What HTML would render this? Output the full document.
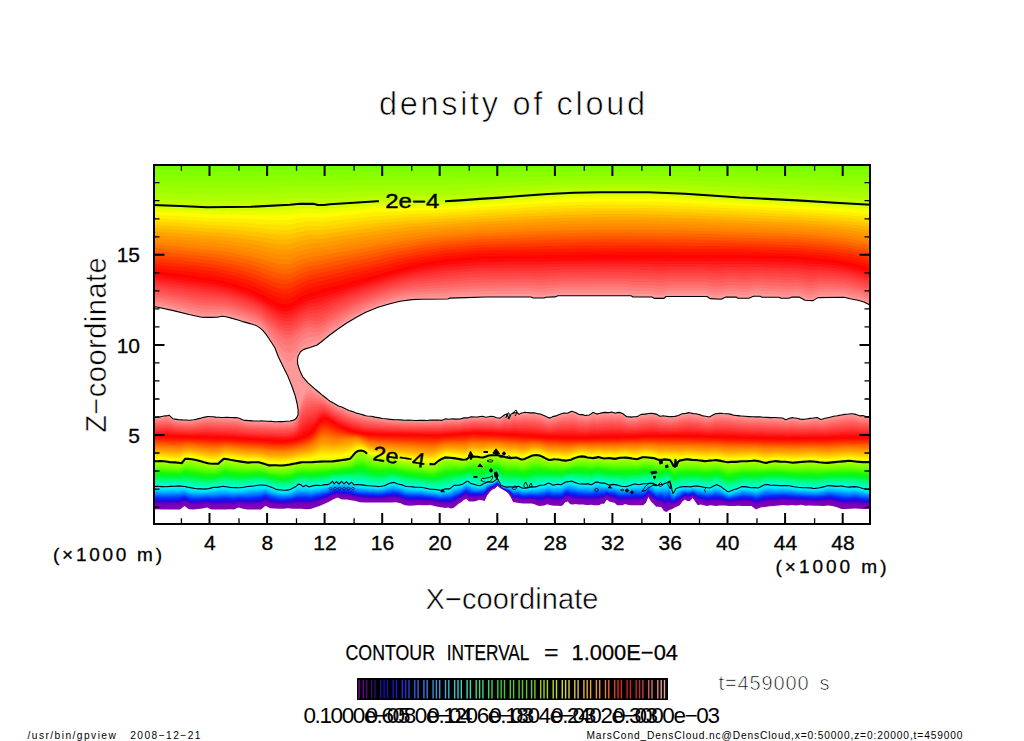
<!DOCTYPE html>
<html lang="en"><head><meta charset="utf-8"><title>density of cloud</title>
<style>
html,body{margin:0;padding:0;background:#fff;}
body{width:1024px;height:741px;overflow:hidden;font-family:"Liberation Sans",sans-serif;}
svg{display:block}
text{font-family:"Liberation Sans",sans-serif;fill:#000}
</style></head><body>
<svg width="1024" height="741" viewBox="0 0 1024 741">
<defs><clipPath id="pc"><rect x="153" y="164" width="718" height="361"/></clipPath></defs>
<rect width="1024" height="741" fill="#fff"/>
<g clip-path="url(#pc)" shape-rendering="geometricPrecision">
<polygon fill="#8600b1" points="871,162 153,162 153,509.6 157.5,509.3 162,509.6 166.5,509.6 171,509.4 175.5,509.4 180,509.6 184.5,506 189,509.3 193.5,509.5 198,509.1 202.5,508.4 207,507.5 211.5,509.5 216,509.5 220.5,509.6 225,509.6 229.5,509.3 234,509.6 238.5,507.6 243,508.8 247.5,509.6 252,509.6 256.5,509.6 261,509.4 265.5,505.7 270,508.3 274.5,508.4 279,508.7 283.5,508.8 288,508.3 292.5,508.8 297,508.8 301.5,508.8 306,509.2 310.5,509 315,507.6 319.5,505.9 324,504.1 328.5,501.9 333,499.6 337.5,497.6 342,499.4 346.5,499.4 351,500.2 355.5,501.1 360,502.3 364.5,502.5 369,502.6 373.5,502.6 378,502.6 382.5,502.6 387,502.6 391.5,502.6 396,502.3 400.5,503.3 405,505.3 409.5,505.7 414,505.6 418.5,505.1 423,505.3 427.5,505.3 430,505.1 432.6,505.4 435.2,506.3 437.8,506.7 440.4,507.2 443,507.6 445.6,508 448.2,507.6 450.8,508.4 453.4,507.9 456,506 458.6,503.8 461.2,502.3 463.8,499.9 466.4,498.8 469,501.6 471.6,501.6 474.2,501.5 476.8,500.7 479.4,499.8 482,500.2 484.6,500.9 487.2,495.3 489.8,492.1 492.4,489.6 495,488.4 497.6,485.9 500.2,487.9 502.8,489.6 505.4,490.9 508,492.9 510.6,496.7 513.2,502 515.8,502.5 518.4,502.9 521,503.3 523.6,503.5 526.2,503.5 528.8,503.5 531.4,503.5 534,504 536.6,505.3 539.2,505.9 541.8,505.7 544.4,505.6 547,504.3 549.6,505 552.2,505.6 554.8,505.7 557.4,505.8 560,506 562.6,505.4 565.2,502.2 567.8,501.5 570.4,504.3 573,504.6 575.6,504 578.2,504.4 580.8,504.4 583.4,504.4 586,505 588.6,505 591.2,504.8 593.8,505.2 596.4,505.2 599,505.2 601.6,503.7 604.2,503.7 606.8,499.5 609.4,501.5 612,502.3 614.6,502.7 617.2,505.3 619.8,505.3 622.4,505.3 625,504.1 627.6,504.7 630.2,505.3 632.8,505.3 635.4,505.3 638,505.3 640.6,505.3 643.2,505.2 645.8,503 648.4,496.9 651,501.5 653.6,504 656.2,506.7 658.8,506.8 661.4,507.3 664,510.9 666.6,511.9 669.2,509.9 671.8,509.3 674.4,507.7 677,506.6 679.6,505.5 682.2,501.7 684.8,499.5 687.4,501 690,500.9 692.6,498 695.2,501.5 697.8,505.2 700.4,504.5 702,504.8 706.5,505.9 711,505.2 715.5,505.9 720,505.6 724.5,505.5 729,506 733.5,506 738,505.8 742.5,506 747,506 751.5,506 756,509.6 760.5,507.4 765,506.9 769.5,506.2 774,505.9 778.5,505.6 783,504.9 787.5,505.4 792,504.9 796.5,505.5 801,504.8 805.5,505.7 810,505.4 814.5,505.8 819,505.8 823.5,506 828,505.5 832.5,506 837,507.2 841.5,509 846,509 850.5,508.7 855,508.5 859.5,508.7 864,509 868.5,509 871,509.0"/>
<polygon fill="#8200b4" points="871,162 153,162 153,508.6 157.5,508.3 162,508.6 166.5,508.6 171,508.4 175.5,508.4 180,508.5 184.5,505.1 189,508.3 193.5,508.5 198,508.2 202.5,507.5 207,506.7 211.5,508.6 216,508.5 220.5,508.6 225,508.6 229.5,508.3 234,508.6 238.5,506.7 243,507.8 247.5,508.6 252,508.5 256.5,508.5 261,508.3 265.5,504.7 270,507.3 274.5,507.5 279,507.8 283.5,508 288,507.5 292.5,507.9 297,507.7 301.5,507.7 306,508.2 310.5,507.9 315,506.5 319.5,505 324,503.3 328.5,501.1 333,498.8 337.5,496.9 342,498.6 346.5,498.6 351,499.4 355.5,500.3 360,501.5 364.5,501.8 369,501.8 373.5,501.8 378,501.9 382.5,501.8 387,501.8 391.5,501.7 396,501.4 400.5,502.4 405,504.5 409.5,504.8 414,504.7 418.5,504.3 423,504.5 427.5,504.5 430,504.4 432.6,504.6 435.2,505.5 437.8,505.9 440.4,506.4 443,506.8 445.6,507.1 448.2,506.8 450.8,507.4 453.4,506.9 456,505 458.6,503 461.2,501.5 463.8,499.1 466.4,498 469,500.7 471.6,500.8 474.2,500.7 476.8,500 479.4,499.2 482,499.5 484.6,500.1 487.2,494.7 489.8,491.6 492.4,489.3 495,488 497.6,485.6 500.2,487.7 502.8,489.4 505.4,490.7 508,492.6 510.6,496.2 513.2,501.4 515.8,501.8 518.4,502.2 521,502.6 523.6,502.8 526.2,502.8 528.8,502.8 531.4,502.8 534,503.3 536.6,504.4 539.2,505 541.8,504.8 544.4,504.6 547,503.4 549.6,504 552.2,504.6 554.8,504.7 557.4,504.9 560,505 562.6,504.4 565.2,501.3 567.8,500.6 570.4,503.3 573,503.6 575.6,503 578.2,503.5 580.8,503.4 583.4,503.5 586,504.1 588.6,504 591.2,503.9 593.8,504.2 596.4,504.2 599,504.2 601.6,502.7 604.2,502.7 606.8,498.8 609.4,500.7 612,501.5 614.6,501.9 617.2,504.4 619.8,504.4 622.4,504.4 625,503.3 627.6,503.9 630.2,504.4 632.8,504.4 635.4,504.3 638,504.4 640.6,504.4 643.2,504.2 645.8,502.1 648.4,496.3 651,500.7 653.6,503.1 656.2,505.7 658.8,505.8 661.4,506.2 664,509.6 666.6,510.6 669.2,508.6 671.8,508.4 674.4,506.9 677,505.8 679.6,504.7 682.2,501 684.8,498.9 687.4,500.4 690,500.3 692.6,497.5 695.2,500.8 697.8,504.3 700.4,503.7 702,504 706.5,505.1 711,504.4 715.5,505 720,504.7 724.5,504.8 729,505.3 733.5,505.3 738,505 742.5,505.1 747,505.1 751.5,505.2 756,508.6 760.5,506.4 765,505.9 769.5,505.2 774,505 778.5,504.7 783,504 787.5,504.5 792,504.1 796.5,504.6 801,504 805.5,504.9 810,504.6 814.5,505 819,504.9 823.5,505.1 828,504.6 832.5,505.1 837,506.3 841.5,508 846,508 850.5,507.7 855,507.5 859.5,507.8 864,508 868.5,508.1 871,508.1"/>
<polygon fill="#7e00b6" points="871,162 153,162 153,507.5 157.5,507.2 162,507.5 166.5,507.5 171,507.3 175.5,507.3 180,507.5 184.5,504.2 189,507.3 193.5,507.6 198,507.2 202.5,506.6 207,505.8 211.5,507.6 216,507.5 220.5,507.5 225,507.5 229.5,507.3 234,507.6 238.5,505.8 243,506.9 247.5,507.5 252,507.4 256.5,507.4 261,507.2 265.5,503.8 270,506.3 274.5,506.6 279,506.9 283.5,507.1 288,506.7 292.5,506.9 297,506.7 301.5,506.7 306,507.1 310.5,506.9 315,505.5 319.5,504 324,502.4 328.5,500.3 333,498 337.5,496.3 342,497.8 346.5,497.8 351,498.6 355.5,499.6 360,500.7 364.5,501 369,501.1 373.5,501.1 378,501.1 382.5,501.1 387,501 391.5,500.8 396,500.5 400.5,501.6 405,503.6 409.5,503.9 414,503.9 418.5,503.5 423,503.7 427.5,503.8 430,503.6 432.6,503.9 435.2,504.8 437.8,505.2 440.4,505.6 443,506 445.6,506.3 448.2,505.9 450.8,506.5 453.4,505.9 456,504.1 458.6,502.1 461.2,500.7 463.8,498.4 466.4,497.2 469,499.8 471.6,500 474.2,499.9 476.8,499.3 479.4,498.6 482,498.7 484.6,499.3 487.2,494.2 489.8,491.2 492.4,488.9 495,487.7 497.6,485.3 500.2,487.5 502.8,489.3 505.4,490.5 508,492.3 510.6,495.8 513.2,500.7 515.8,501.1 518.4,501.4 521,501.9 523.6,502.1 526.2,502.1 528.8,502 531.4,502 534,502.5 536.6,503.6 539.2,504.1 541.8,503.9 544.4,503.7 547,502.5 549.6,503 552.2,503.7 554.8,503.8 557.4,503.9 560,504.1 562.6,503.4 565.2,500.4 567.8,499.7 570.4,502.2 573,502.5 575.6,502 578.2,502.5 580.8,502.5 583.4,502.5 586,503.1 588.6,503.1 591.2,503 593.8,503.2 596.4,503.1 599,503.2 601.6,501.8 604.2,501.8 606.8,498.1 609.4,500 612,500.7 614.6,501.1 617.2,503.5 619.8,503.5 622.4,503.6 625,502.5 627.6,503.1 630.2,503.5 632.8,503.4 635.4,503.4 638,503.4 640.6,503.4 643.2,503.3 645.8,501.3 648.4,495.7 651,499.9 653.6,502.3 656.2,504.8 658.8,504.8 661.4,505.2 664,508.4 666.6,509.3 669.2,507.3 671.8,507.5 674.4,506.2 677,504.9 679.6,503.8 682.2,500.3 684.8,498.3 687.4,499.7 690,499.6 692.6,497 695.2,500.1 697.8,503.4 700.4,502.9 702,503.2 706.5,504.2 711,503.6 715.5,504 720,503.9 724.5,504.1 729,504.7 733.5,504.5 738,504.2 742.5,504.2 747,504.3 751.5,504.3 756,507.6 760.5,505.5 765,504.9 769.5,504.2 774,504 778.5,503.7 783,503.1 787.5,503.6 792,503.3 796.5,503.8 801,503.2 805.5,504.1 810,503.8 814.5,504.3 819,504.1 823.5,504.3 828,503.7 832.5,504.2 837,505.3 841.5,506.9 846,507 850.5,506.7 855,506.5 859.5,506.8 864,507.1 868.5,507.2 871,507.2"/>
<polygon fill="#7a00b8" points="871,162 153,162 153,506.5 157.5,506.2 162,506.5 166.5,506.5 171,506.3 175.5,506.2 180,506.4 184.5,503.4 189,506.3 193.5,506.6 198,506.3 202.5,505.7 207,505 211.5,506.6 216,506.5 220.5,506.5 225,506.5 229.5,506.3 234,506.6 238.5,504.9 243,505.9 247.5,506.5 252,506.4 256.5,506.3 261,506.1 265.5,502.9 270,505.3 274.5,505.7 279,506.1 283.5,506.3 288,505.8 292.5,506 297,505.6 301.5,505.6 306,506 310.5,505.9 315,504.5 319.5,503.1 324,501.5 328.5,499.5 333,497.2 337.5,495.6 342,497 346.5,497 351,497.8 355.5,498.9 360,499.9 364.5,500.2 369,500.3 373.5,500.3 378,500.4 382.5,500.3 387,500.1 391.5,499.9 396,499.7 400.5,500.7 405,502.7 409.5,503.1 414,503 418.5,502.7 423,502.9 427.5,503 430,502.9 432.6,503.2 435.2,504 437.8,504.4 440.4,504.9 443,505.1 445.6,505.4 448.2,505.1 450.8,505.6 453.4,504.9 456,503.2 458.6,501.3 461.2,499.9 463.8,497.6 466.4,496.4 469,498.9 471.6,499.2 474.2,499.1 476.8,498.5 479.4,497.9 482,498 484.6,498.5 487.2,493.6 489.8,490.7 492.4,488.6 495,487.3 497.6,485 500.2,487.4 502.8,489.1 505.4,490.4 508,492.1 510.6,495.3 513.2,500 515.8,500.4 518.4,500.7 521,501.2 523.6,501.4 526.2,501.4 528.8,501.3 531.4,501.3 534,501.7 536.6,502.7 539.2,503.1 541.8,502.9 544.4,502.8 547,501.5 549.6,502 552.2,502.7 554.8,502.8 557.4,502.9 560,503.1 562.6,502.4 565.2,499.5 567.8,498.8 570.4,501.2 573,501.5 575.6,501.1 578.2,501.6 580.8,501.6 583.4,501.6 586,502.2 588.6,502.1 591.2,502 593.8,502.2 596.4,502.1 599,502.1 601.6,500.9 604.2,500.9 606.8,497.4 609.4,499.2 612,499.9 614.6,500.2 617.2,502.5 619.8,502.6 622.4,502.7 625,501.7 627.6,502.2 630.2,502.6 632.8,502.5 635.4,502.4 638,502.5 640.6,502.5 643.2,502.3 645.8,500.4 648.4,495.1 651,499 653.6,501.4 656.2,503.8 658.8,503.8 661.4,504.2 664,507.2 666.6,507.9 669.2,506.1 671.8,506.6 674.4,505.5 677,504.1 679.6,503 682.2,499.7 684.8,497.7 687.4,499.1 690,499 692.6,496.4 695.2,499.4 697.8,502.5 700.4,502.1 702,502.4 706.5,503.4 711,502.8 715.5,503.1 720,503 724.5,503.3 729,504 733.5,503.8 738,503.4 742.5,503.4 747,503.4 751.5,503.5 756,506.6 760.5,504.6 765,503.9 769.5,503.3 774,503.1 778.5,502.8 783,502.2 787.5,502.7 792,502.4 796.5,503 801,502.4 805.5,503.3 810,503 814.5,503.5 819,503.3 823.5,503.4 828,502.8 832.5,503.3 837,504.4 841.5,505.9 846,506 850.5,505.8 855,505.5 859.5,505.8 864,506.2 868.5,506.3 871,506.3"/>
<polygon fill="#7600bb" points="871,162 153,162 153,505.4 157.5,505.1 162,505.4 166.5,505.4 171,505.2 175.5,505.2 180,505.3 184.5,502.5 189,505.3 193.5,505.6 198,505.4 202.5,504.8 207,504.1 211.5,505.6 216,505.5 220.5,505.5 225,505.4 229.5,505.3 234,505.6 238.5,504 243,504.9 247.5,505.4 252,505.3 256.5,505.2 261,505 265.5,501.9 270,504.4 274.5,504.8 279,505.2 283.5,505.4 288,505 292.5,505.1 297,504.5 301.5,504.5 306,504.9 310.5,504.9 315,503.5 319.5,502.2 324,500.6 328.5,498.7 333,496.4 337.5,494.9 342,496.3 346.5,496.2 351,497 355.5,498.1 360,499.1 364.5,499.4 369,499.5 373.5,499.6 378,499.7 382.5,499.6 387,499.3 391.5,499 396,498.8 400.5,499.9 405,501.8 409.5,502.2 414,502.2 418.5,501.9 423,502.1 427.5,502.3 430,502.2 432.6,502.5 435.2,503.2 437.8,503.6 440.4,504.1 443,504.3 445.6,504.5 448.2,504.2 450.8,504.7 453.4,503.9 456,502.2 458.6,500.5 461.2,499.1 463.8,496.9 466.4,495.6 469,498.1 471.6,498.3 474.2,498.3 476.8,497.8 479.4,497.3 482,497.3 484.6,497.7 487.2,493 489.8,490.3 492.4,488.2 495,487 497.6,484.7 500.2,487.2 502.8,488.9 505.4,490.2 508,491.8 510.6,494.9 513.2,499.3 515.8,499.7 518.4,499.9 521,500.4 523.6,500.7 526.2,500.7 528.8,500.6 531.4,500.5 534,500.9 536.6,501.9 539.2,502.2 541.8,502 544.4,501.8 547,500.6 549.6,501.1 552.2,501.8 554.8,501.9 557.4,501.9 560,502.1 562.6,501.5 565.2,498.6 567.8,497.9 570.4,500.2 573,500.5 575.6,500.1 578.2,500.6 580.8,500.7 583.4,500.7 586,501.2 588.6,501.2 591.2,501.1 593.8,501.2 596.4,501 599,501.1 601.6,499.9 604.2,499.9 606.8,496.7 609.4,498.5 612,499.1 614.6,499.4 617.2,501.6 619.8,501.7 622.4,501.8 625,500.9 627.6,501.4 630.2,501.7 632.8,501.5 635.4,501.4 638,501.5 640.6,501.5 643.2,501.3 645.8,499.5 648.4,494.4 651,498.2 653.6,500.5 656.2,502.9 658.8,502.8 661.4,503.1 664,505.9 666.6,506.6 669.2,504.8 671.8,505.6 674.4,504.7 677,503.2 679.6,502.2 682.2,499 684.8,497.2 687.4,498.4 690,498.3 692.6,495.9 695.2,498.7 697.8,501.7 700.4,501.3 702,501.5 706.5,502.6 711,502 715.5,502.1 720,502.1 724.5,502.6 729,503.4 733.5,503 738,502.6 742.5,502.5 747,502.6 751.5,502.7 756,505.6 760.5,503.6 765,502.9 769.5,502.3 774,502.2 778.5,501.9 783,501.4 787.5,501.8 792,501.6 796.5,502.1 801,501.6 805.5,502.4 810,502.2 814.5,502.7 819,502.5 823.5,502.5 828,501.9 832.5,502.3 837,503.4 841.5,504.8 846,505 850.5,504.8 855,504.5 859.5,504.9 864,505.3 868.5,505.4 871,505.5"/>
<polygon fill="#6a00c0" points="871,162 153,162 153,504.4 157.5,504.1 162,504.4 166.5,504.4 171,504.2 175.5,504.1 180,504.2 184.5,501.6 189,504.3 193.5,504.6 198,504.5 202.5,504 207,503.3 211.5,504.6 216,504.5 220.5,504.4 225,504.4 229.5,504.3 234,504.6 238.5,503.1 243,503.9 247.5,504.4 252,504.2 256.5,504.1 261,503.9 265.5,501 270,503.4 274.5,503.9 279,504.4 283.5,504.6 288,504.1 292.5,504.2 297,503.5 301.5,503.5 306,503.8 310.5,503.8 315,502.5 319.5,501.3 324,499.7 328.5,497.9 333,495.6 337.5,494.2 342,495.5 346.5,495.4 351,496.2 355.5,497.4 360,498.3 364.5,498.6 369,498.8 373.5,498.8 378,499 382.5,498.8 387,498.5 391.5,498.1 396,497.9 400.5,499 405,500.9 409.5,501.3 414,501.4 418.5,501.1 423,501.3 427.5,501.5 430,501.5 432.6,501.7 435.2,502.5 437.8,502.9 440.4,503.3 443,503.5 445.6,503.6 448.2,503.4 450.8,503.7 453.4,502.9 456,501.3 458.6,499.6 461.2,498.3 463.8,496.1 466.4,494.9 469,497.2 471.6,497.5 474.2,497.6 476.8,497.1 479.4,496.6 482,496.6 484.6,496.9 487.2,492.4 489.8,489.8 492.4,487.9 495,486.6 497.6,484.3 500.2,487 502.8,488.8 505.4,490 508,491.5 510.6,494.4 513.2,498.6 515.8,498.9 518.4,499.1 521,499.7 523.6,500 526.2,500 528.8,499.9 531.4,499.8 534,500.2 536.6,501 539.2,501.3 541.8,501.1 544.4,500.9 547,499.6 549.6,500.1 552.2,500.8 554.8,501 557.4,500.9 560,501.1 562.6,500.5 565.2,497.7 567.8,497 570.4,499.1 573,499.4 575.6,499.1 578.2,499.7 580.8,499.7 583.4,499.7 586,500.2 588.6,500.2 591.2,500.2 593.8,500.2 596.4,499.9 599,500.1 601.6,499 604.2,499 606.8,496 609.4,497.7 612,498.3 614.6,498.6 617.2,500.7 619.8,500.8 622.4,501 625,500.1 627.6,500.5 630.2,500.8 632.8,500.6 635.4,500.5 638,500.6 640.6,500.6 643.2,500.4 645.8,498.6 648.4,493.8 651,497.4 653.6,499.6 656.2,501.9 658.8,501.9 661.4,502.1 664,504.7 666.6,505.3 669.2,503.5 671.8,504.7 674.4,504 677,502.4 679.6,501.4 682.2,498.3 684.8,496.6 687.4,497.8 690,497.7 692.6,495.4 695.2,498 697.8,500.8 700.4,500.4 702,500.7 706.5,501.7 711,501.2 715.5,501.2 720,501.2 724.5,501.9 729,502.7 733.5,502.3 738,501.8 742.5,501.6 747,501.7 751.5,501.8 756,504.6 760.5,502.7 765,501.9 769.5,501.3 774,501.2 778.5,501 783,500.5 787.5,500.9 792,500.7 796.5,501.3 801,500.9 805.5,501.6 810,501.4 814.5,501.9 819,501.7 823.5,501.7 828,501 832.5,501.4 837,502.5 841.5,503.8 846,504 850.5,503.8 855,503.5 859.5,503.9 864,504.4 868.5,504.5 871,504.6"/>
<polygon fill="#5100cb" points="871,162 153,162 153,503.3 157.5,503 162,503.3 166.5,503.4 171,503.1 175.5,503.1 180,503.2 184.5,500.7 189,503.3 193.5,503.7 198,503.6 202.5,503.1 207,502.4 211.5,503.6 216,503.5 220.5,503.4 225,503.3 229.5,503.3 234,503.6 238.5,502.2 243,503 247.5,503.3 252,503.2 256.5,503 261,502.8 265.5,500.1 270,502.4 274.5,503 279,503.5 283.5,503.7 288,503.3 292.5,503.2 297,502.4 301.5,502.4 306,502.7 310.5,502.8 315,501.5 319.5,500.3 324,498.9 328.5,497.1 333,494.8 337.5,493.5 342,494.7 346.5,494.6 351,495.4 355.5,496.6 360,497.5 364.5,497.8 369,498 373.5,498.1 378,498.2 382.5,498.1 387,497.7 391.5,497.2 396,497.1 400.5,498.2 405,500.1 409.5,500.5 414,500.5 418.5,500.2 423,500.5 427.5,500.8 430,500.7 432.6,501 435.2,501.7 437.8,502.1 440.4,502.6 443,502.7 445.6,502.8 448.2,502.5 450.8,502.8 453.4,501.9 456,500.4 458.6,498.8 461.2,497.5 463.8,495.4 466.4,494.1 469,496.3 471.6,496.7 474.2,496.8 476.8,496.4 479.4,496 482,495.9 484.6,496.1 487.2,491.8 489.8,489.3 492.4,487.6 495,486.2 497.6,484 500.2,486.8 502.8,488.6 505.4,489.8 508,491.2 510.6,494 513.2,497.9 515.8,498.2 518.4,498.4 521,499 523.6,499.3 526.2,499.3 528.8,499.1 531.4,499 534,499.4 536.6,500.2 539.2,500.4 541.8,500.1 544.4,500 547,498.7 549.6,499.1 552.2,499.9 554.8,500 557.4,499.9 560,500.2 562.6,499.5 565.2,496.8 567.8,496.1 570.4,498.1 573,498.4 575.6,498.2 578.2,498.7 580.8,498.8 583.4,498.8 586,499.3 588.6,499.3 591.2,499.3 593.8,499.2 596.4,498.9 599,499 601.6,498 604.2,498 606.8,495.3 609.4,497 612,497.5 614.6,497.8 617.2,499.8 619.8,500 622.4,500.1 625,499.3 627.6,499.7 630.2,499.9 632.8,499.6 635.4,499.5 638,499.6 640.6,499.6 643.2,499.4 645.8,497.8 648.4,493.2 651,496.6 653.6,498.7 656.2,501 658.8,500.9 661.4,501 664,503.5 666.6,504 669.2,502.2 671.8,503.8 674.4,503.3 677,501.6 679.6,500.5 682.2,497.6 684.8,496 687.4,497.1 690,497.1 692.6,494.9 695.2,497.3 697.8,499.9 700.4,499.6 702,499.9 706.5,500.9 711,500.4 715.5,500.2 720,500.3 724.5,501.1 729,502.1 733.5,501.6 738,501.1 742.5,500.7 747,500.8 751.5,501 756,503.6 760.5,501.8 765,500.9 769.5,500.4 774,500.3 778.5,500.1 783,499.6 787.5,500 792,499.9 796.5,500.5 801,500.1 805.5,500.8 810,500.6 814.5,501.1 819,500.9 823.5,500.8 828,500.1 832.5,500.5 837,501.5 841.5,502.7 846,503 850.5,502.8 855,502.5 859.5,502.9 864,503.4 868.5,503.6 871,503.7"/>
<polygon fill="#3700d5" points="871,162 153,162 153,502.3 157.5,502 162,502.3 166.5,502.3 171,502.1 175.5,502 180,502.1 184.5,499.8 189,502.3 193.5,502.7 198,502.6 202.5,502.2 207,501.6 211.5,502.6 216,502.5 220.5,502.3 225,502.3 229.5,502.3 234,502.6 238.5,501.3 243,502 247.5,502.3 252,502.1 256.5,501.9 261,501.7 265.5,499.2 270,501.4 274.5,502 279,502.6 283.5,502.9 288,502.5 292.5,502.3 297,501.3 301.5,501.3 306,501.6 310.5,501.8 315,500.5 319.5,499.4 324,498 328.5,496.3 333,494 337.5,492.8 342,493.9 346.5,493.8 351,494.6 355.5,495.9 360,496.7 364.5,497 369,497.2 373.5,497.3 378,497.5 382.5,497.3 387,496.8 391.5,496.3 396,496.2 400.5,497.3 405,499.2 409.5,499.6 414,499.7 418.5,499.4 423,499.7 427.5,500 430,500 432.6,500.3 435.2,501 437.8,501.3 440.4,501.8 443,501.9 445.6,501.9 448.2,501.7 450.8,501.9 453.4,500.9 456,499.4 458.6,497.9 461.2,496.7 463.8,494.6 466.4,493.3 469,495.4 471.6,495.9 474.2,496 476.8,495.7 479.4,495.4 482,495.2 484.6,495.3 487.2,491.2 489.8,488.9 492.4,487.2 495,485.9 497.6,483.7 500.2,486.6 502.8,488.5 505.4,489.7 508,491 510.6,493.5 513.2,497.3 515.8,497.5 518.4,497.6 521,498.3 523.6,498.6 526.2,498.5 528.8,498.4 531.4,498.3 534,498.6 536.6,499.3 539.2,499.5 541.8,499.2 544.4,499 547,497.8 549.6,498.1 552.2,499 554.8,499.1 557.4,499 560,499.2 562.6,498.5 565.2,495.9 567.8,495.2 570.4,497 573,497.3 575.6,497.2 578.2,497.8 580.8,497.9 583.4,497.9 586,498.3 588.6,498.3 591.2,498.4 593.8,498.2 596.4,497.8 599,498 601.6,497.1 604.2,497.1 606.8,494.6 609.4,496.2 612,496.7 614.6,496.9 617.2,498.9 619.8,499.1 622.4,499.2 625,498.5 627.6,498.9 630.2,499 632.8,498.7 635.4,498.5 638,498.7 640.6,498.7 643.2,498.4 645.8,496.9 648.4,492.6 651,495.8 653.6,497.8 656.2,500 658.8,499.9 661.4,500 664,502.2 666.6,502.6 669.2,501 671.8,502.9 674.4,502.5 677,500.7 679.6,499.7 682.2,496.9 684.8,495.4 687.4,496.4 690,496.4 692.6,494.3 695.2,496.6 697.8,499.1 700.4,498.8 702,499.1 706.5,500.1 711,499.6 715.5,499.3 720,499.4 724.5,500.4 729,501.4 733.5,500.8 738,500.3 742.5,499.8 747,500 751.5,500.2 756,502.6 760.5,500.8 765,499.8 769.5,499.4 774,499.4 778.5,499.2 783,498.7 787.5,499.1 792,499 796.5,499.6 801,499.3 805.5,500 810,499.8 814.5,500.3 819,500 823.5,499.9 828,499.2 832.5,499.6 837,500.6 841.5,501.7 846,502 850.5,501.8 855,501.5 859.5,502 864,502.5 868.5,502.7 871,502.8"/>
<polygon fill="#250be1" points="871,162 153,162 153,501.2 157.5,500.9 162,501.3 166.5,501.3 171,501 175.5,501 180,501 184.5,498.9 189,501.3 193.5,501.7 198,501.7 202.5,501.3 207,500.7 211.5,501.7 216,501.5 220.5,501.3 225,501.2 229.5,501.3 234,501.6 238.5,500.4 243,501 247.5,501.2 252,501 256.5,500.8 261,500.6 265.5,498.2 270,500.5 274.5,501.1 279,501.8 283.5,502 288,501.6 292.5,501.4 297,500.3 301.5,500.3 306,500.5 310.5,500.8 315,499.5 319.5,498.5 324,497.1 328.5,495.5 333,493.2 337.5,492.2 342,493.1 346.5,493 351,493.8 355.5,495.1 360,495.9 364.5,496.2 369,496.5 373.5,496.6 378,496.8 382.5,496.5 387,496 391.5,495.4 396,495.3 400.5,496.5 405,498.3 409.5,498.8 414,498.8 418.5,498.6 423,498.9 427.5,499.2 430,499.3 432.6,499.5 435.2,500.2 437.8,500.6 440.4,501 443,501.1 445.6,501 448.2,500.8 450.8,501 453.4,499.9 456,498.5 458.6,497.1 461.2,495.9 463.8,493.9 466.4,492.5 469,494.5 471.6,495.1 474.2,495.2 476.8,495 479.4,494.7 482,494.5 484.6,494.5 487.2,490.6 489.8,488.4 492.4,486.9 495,485.5 497.6,483.4 500.2,486.4 502.8,488.3 505.4,489.5 508,490.7 510.6,493.1 513.2,496.6 515.8,496.8 518.4,496.9 521,497.5 523.6,497.9 526.2,497.8 528.8,497.7 531.4,497.5 534,497.8 536.6,498.5 539.2,498.5 541.8,498.3 544.4,498.1 547,496.8 549.6,497.1 552.2,498 554.8,498.1 557.4,498 560,498.2 562.6,497.5 565.2,495 567.8,494.3 570.4,496 573,496.3 575.6,496.2 578.2,496.8 580.8,497 583.4,496.9 586,497.4 588.6,497.4 591.2,497.5 593.8,497.2 596.4,496.8 599,497 601.6,496.2 604.2,496.2 606.8,493.9 609.4,495.5 612,495.9 614.6,496.1 617.2,497.9 619.8,498.2 622.4,498.4 625,497.7 627.6,498 630.2,498.1 632.8,497.8 635.4,497.6 638,497.8 640.6,497.7 643.2,497.4 645.8,496 648.4,492 651,494.9 653.6,496.9 656.2,499 658.8,498.9 661.4,499 664,501 666.6,501.3 669.2,499.7 671.8,501.9 674.4,501.8 677,499.9 679.6,498.9 682.2,496.2 684.8,494.8 687.4,495.8 690,495.8 692.6,493.8 695.2,495.9 697.8,498.2 700.4,498 702,498.3 706.5,499.2 711,498.8 715.5,498.4 720,498.6 724.5,499.7 729,500.8 733.5,500.1 738,499.5 742.5,498.9 747,499.1 751.5,499.3 756,501.7 760.5,499.9 765,498.8 769.5,498.4 774,498.4 778.5,498.3 783,497.9 787.5,498.2 792,498.2 796.5,498.8 801,498.5 805.5,499.2 810,499 814.5,499.5 819,499.2 823.5,499.1 828,498.3 832.5,498.7 837,499.6 841.5,500.6 846,500.9 850.5,500.8 855,500.6 859.5,501 864,501.6 868.5,501.8 871,501.9"/>
<polygon fill="#151bee" points="871,162 153,162 153,500.2 157.5,499.9 162,500.2 166.5,500.2 171,500 175.5,499.9 180,499.9 184.5,498 189,500.3 193.5,500.8 198,500.8 202.5,500.4 207,499.9 211.5,500.7 216,500.5 220.5,500.3 225,500.2 229.5,500.3 234,500.6 238.5,499.5 243,500 247.5,500.2 252,500 256.5,499.7 261,499.5 265.5,497.3 270,499.5 274.5,500.2 279,500.9 283.5,501.2 288,500.8 292.5,500.4 297,499.2 301.5,499.2 306,499.4 310.5,499.7 315,498.5 319.5,497.5 324,496.2 328.5,494.7 333,492.4 337.5,491.5 342,492.3 346.5,492.2 351,493 355.5,494.4 360,495.2 364.5,495.4 369,495.7 373.5,495.8 378,496 382.5,495.8 387,495.2 391.5,494.5 396,494.5 400.5,495.6 405,497.4 409.5,497.9 414,498 418.5,497.8 423,498.1 427.5,498.5 430,498.5 432.6,498.8 435.2,499.4 437.8,499.8 440.4,500.3 443,500.2 445.6,500.2 448.2,500 450.8,500 453.4,498.9 456,497.5 458.6,496.2 461.2,495.1 463.8,493.1 466.4,491.7 469,493.6 471.6,494.3 474.2,494.5 476.8,494.3 479.4,494.1 482,493.8 484.6,493.7 487.2,490 489.8,488 492.4,486.5 495,485.2 497.6,483.1 500.2,486.2 502.8,488.1 505.4,489.3 508,490.4 510.6,492.6 513.2,495.9 515.8,496.1 518.4,496.1 521,496.8 523.6,497.2 526.2,497.1 528.8,497 531.4,496.8 534,497.1 536.6,497.6 539.2,497.6 541.8,497.3 544.4,497.2 547,495.9 549.6,496.1 552.2,497.1 554.8,497.2 557.4,497 560,497.2 562.6,496.6 565.2,494.1 567.8,493.4 570.4,494.9 573,495.3 575.6,495.3 578.2,495.9 580.8,496 583.4,496 586,496.4 588.6,496.4 591.2,496.6 593.8,496.2 596.4,495.7 599,495.9 601.6,495.2 604.2,495.2 606.8,493.2 609.4,494.7 612,495.1 614.6,495.3 617.2,497 619.8,497.3 622.4,497.5 625,497 627.6,497.2 630.2,497.2 632.8,496.8 635.4,496.6 638,496.8 640.6,496.8 643.2,496.5 645.8,495.1 648.4,491.4 651,494.1 653.6,496 656.2,498.1 658.8,497.9 661.4,497.9 664,499.8 666.6,500 669.2,498.4 671.8,501 674.4,501 677,499.1 679.6,498 682.2,495.6 684.8,494.2 687.4,495.1 690,495.1 692.6,493.3 695.2,495.2 697.8,497.3 700.4,497.2 702,497.5 706.5,498.4 711,498 715.5,497.4 720,497.7 724.5,498.9 729,500.1 733.5,499.4 738,498.7 742.5,498.1 747,498.2 751.5,498.5 756,500.7 760.5,499 765,497.8 769.5,497.5 774,497.5 778.5,497.4 783,497 787.5,497.3 792,497.3 796.5,498 801,497.7 805.5,498.3 810,498.2 814.5,498.7 819,498.4 823.5,498.2 828,497.4 832.5,497.8 837,498.7 841.5,499.6 846,499.9 850.5,499.8 855,499.6 859.5,500 864,500.7 868.5,500.9 871,501.0"/>
<polygon fill="#062afa" points="871,162 153,162 153,499.1 157.5,498.9 162,499.2 166.5,499.2 171,498.9 175.5,498.9 180,498.9 184.5,497.1 189,499.3 193.5,499.8 198,499.9 202.5,499.5 207,499 211.5,499.7 216,499.5 220.5,499.2 225,499.1 229.5,499.3 234,499.6 238.5,498.6 243,499.1 247.5,499.1 252,498.9 256.5,498.6 261,498.3 265.5,496.4 270,498.5 274.5,499.3 279,500.1 283.5,500.3 288,500 292.5,499.5 297,498.2 301.5,498.1 306,498.3 310.5,498.7 315,497.5 319.5,496.6 324,495.4 328.5,493.9 333,491.6 337.5,490.8 342,491.5 346.5,491.3 351,492.2 355.5,493.7 360,494.4 364.5,494.7 369,494.9 373.5,495.1 378,495.3 382.5,495 387,494.4 391.5,493.6 396,493.6 400.5,494.8 405,496.6 409.5,497 414,497.1 418.5,497 423,497.3 427.5,497.7 430,497.8 432.6,498.1 435.2,498.7 437.8,499 440.4,499.5 443,499.4 445.6,499.3 448.2,499.1 450.8,499.1 453.4,497.9 456,496.6 458.6,495.4 461.2,494.3 463.8,492.4 466.4,490.9 469,492.7 471.6,493.5 474.2,493.7 476.8,493.6 479.4,493.4 482,493.1 484.6,492.9 487.2,489.4 489.8,487.5 492.4,486.2 495,484.8 497.6,482.8 500.2,486 502.8,488 505.4,489.1 508,490.2 510.6,492.2 513.2,495.2 515.8,495.4 518.4,495.3 521,496.1 523.6,496.5 526.2,496.4 528.8,496.2 531.4,496 534,496.3 536.6,496.8 539.2,496.7 541.8,496.4 544.4,496.2 547,495 549.6,495.1 552.2,496.1 554.8,496.2 557.4,496 560,496.3 562.6,495.6 565.2,493.2 567.8,492.5 570.4,493.9 573,494.2 575.6,494.3 578.2,494.9 580.8,495.1 583.4,495.1 586,495.5 588.6,495.4 591.2,495.7 593.8,495.2 596.4,494.7 599,494.9 601.6,494.3 604.2,494.3 606.8,492.5 609.4,494 612,494.3 614.6,494.5 617.2,496.1 619.8,496.4 622.4,496.7 625,496.2 627.6,496.3 630.2,496.3 632.8,495.9 635.4,495.6 638,495.9 640.6,495.8 643.2,495.5 645.8,494.3 648.4,490.8 651,493.3 653.6,495.1 656.2,497.1 658.8,496.9 661.4,496.9 664,498.6 666.6,498.6 669.2,497.2 671.8,500.1 674.4,500.3 677,498.2 679.6,497.2 682.2,494.9 684.8,493.6 687.4,494.5 690,494.5 692.6,492.8 695.2,494.5 697.8,496.5 700.4,496.4 702,496.7 706.5,497.6 711,497.2 715.5,496.5 720,496.8 724.5,498.2 729,499.5 733.5,498.6 738,497.9 742.5,497.2 747,497.4 751.5,497.7 756,499.7 760.5,498 765,496.8 769.5,496.5 774,496.6 778.5,496.5 783,496.1 787.5,496.4 792,496.5 796.5,497.1 801,497 805.5,497.5 810,497.4 814.5,497.9 819,497.6 823.5,497.3 828,496.5 832.5,496.9 837,497.7 841.5,498.6 846,498.9 850.5,498.8 855,498.6 859.5,499.1 864,499.8 868.5,500 871,500.2"/>
<polygon fill="#003eff" points="871,162 153,162 153,498.1 157.5,497.8 162,498.1 166.5,498.2 171,497.9 175.5,497.8 180,497.8 184.5,496.2 189,498.3 193.5,498.8 198,499 202.5,498.6 207,498.2 211.5,498.7 216,498.5 220.5,498.2 225,498.1 229.5,498.3 234,498.6 238.5,497.7 243,498.1 247.5,498.1 252,497.8 256.5,497.5 261,497.2 265.5,495.4 270,497.5 274.5,498.4 279,499.2 283.5,499.5 288,499.1 292.5,498.6 297,497.1 301.5,497 306,497.2 310.5,497.7 315,496.5 319.5,495.7 324,494.5 328.5,493.1 333,490.8 337.5,490.1 342,490.7 346.5,490.5 351,491.4 355.5,492.9 360,493.6 364.5,493.9 369,494.2 373.5,494.3 378,494.6 382.5,494.3 387,493.5 391.5,492.7 396,492.7 400.5,493.9 405,495.7 409.5,496.2 414,496.3 418.5,496.2 423,496.5 427.5,497 430,497.1 432.6,497.4 435.2,497.9 437.8,498.3 440.4,498.7 443,498.6 445.6,498.4 448.2,498.3 450.8,498.2 453.4,496.9 456,495.7 458.6,494.5 461.2,493.5 463.8,491.6 466.4,490.2 469,491.8 471.6,492.7 474.2,492.9 476.8,492.9 479.4,492.8 482,492.4 484.6,492.1 487.2,488.8 489.8,487 492.4,485.8 495,484.4 497.6,482.4 500.2,485.8 502.8,487.8 505.4,489 508,489.9 510.6,491.7 513.2,494.5 515.8,494.7 518.4,494.6 521,495.3 523.6,495.8 526.2,495.7 528.8,495.5 531.4,495.3 534,495.5 536.6,495.9 539.2,495.8 541.8,495.4 544.4,495.3 547,494 549.6,494.2 552.2,495.2 554.8,495.3 557.4,495 560,495.3 562.6,494.6 565.2,492.3 567.8,491.6 570.4,492.8 573,493.2 575.6,493.4 578.2,494 580.8,494.2 583.4,494.2 586,494.5 588.6,494.5 591.2,494.8 593.8,494.2 596.4,493.6 599,493.8 601.6,493.3 604.2,493.4 606.8,491.8 609.4,493.2 612,493.5 614.6,493.7 617.2,495.2 619.8,495.5 622.4,495.8 625,495.4 627.6,495.5 630.2,495.4 632.8,494.9 635.4,494.7 638,494.9 640.6,494.9 643.2,494.5 645.8,493.4 648.4,490.2 651,492.5 653.6,494.2 656.2,496.2 658.8,495.9 661.4,495.9 664,497.3 666.6,497.3 669.2,495.9 671.8,499.2 674.4,499.6 677,497.4 679.6,496.4 682.2,494.2 684.8,493 687.4,493.8 690,493.9 692.6,492.2 695.2,493.8 697.8,495.6 700.4,495.5 702,495.9 706.5,496.8 711,496.4 715.5,495.5 720,495.9 724.5,497.5 729,498.8 733.5,497.9 738,497.1 742.5,496.3 747,496.5 751.5,496.8 756,498.7 760.5,497.1 765,495.8 769.5,495.5 774,495.6 778.5,495.5 783,495.2 787.5,495.5 792,495.7 796.5,496.3 801,496.2 805.5,496.7 810,496.6 814.5,497.1 819,496.8 823.5,496.5 828,495.6 832.5,495.9 837,496.8 841.5,497.5 846,497.9 850.5,497.8 855,497.6 859.5,498.1 864,498.8 868.5,499.1 871,499.3"/>
<polygon fill="#0055ff" points="871,162 153,162 153,497 157.5,496.8 162,497.1 166.5,497.1 171,496.8 175.5,496.7 180,496.7 184.5,495.3 189,497.4 193.5,497.9 198,498 202.5,497.7 207,497.3 211.5,497.7 216,497.4 220.5,497.2 225,497 229.5,497.3 234,497.6 238.5,496.8 243,497.1 247.5,497 252,496.8 256.5,496.4 261,496.1 265.5,494.5 270,496.5 274.5,497.5 279,498.3 283.5,498.7 288,498.3 292.5,497.7 297,496 301.5,496 306,496.1 310.5,496.7 315,495.5 319.5,494.8 324,493.6 328.5,492.3 333,490 337.5,489.4 342,489.9 346.5,489.7 351,490.6 355.5,492.2 360,492.8 364.5,493.1 369,493.4 373.5,493.6 378,493.9 382.5,493.5 387,492.7 391.5,491.8 396,491.9 400.5,493 405,494.8 409.5,495.3 414,495.5 418.5,495.4 423,495.7 427.5,496.2 430,496.4 432.6,496.6 435.2,497.1 437.8,497.5 440.4,497.9 443,497.8 445.6,497.6 448.2,497.4 450.8,497.3 453.4,495.9 456,494.7 458.6,493.7 461.2,492.7 463.8,490.9 466.4,489.4 469,490.9 471.6,491.8 474.2,492.1 476.8,492.2 479.4,492.1 482,491.7 484.6,491.3 487.2,488.2 489.8,486.6 492.4,485.5 495,484.1 497.6,482.1 500.2,485.6 502.8,487.7 505.4,488.8 508,489.6 510.6,491.3 513.2,493.8 515.8,494 518.4,493.8 521,494.6 523.6,495.1 526.2,495 528.8,494.8 531.4,494.5 534,494.7 536.6,495.1 539.2,494.8 541.8,494.5 544.4,494.4 547,493.1 549.6,493.2 552.2,494.2 554.8,494.3 557.4,494 560,494.3 562.6,493.6 565.2,491.4 567.8,490.7 570.4,491.8 573,492.1 575.6,492.4 578.2,493 580.8,493.2 583.4,493.2 586,493.6 588.6,493.5 591.2,493.8 593.8,493.2 596.4,492.6 599,492.8 601.6,492.4 604.2,492.4 606.8,491.1 609.4,492.5 612,492.6 614.6,492.8 617.2,494.3 619.8,494.6 622.4,494.9 625,494.6 627.6,494.7 630.2,494.4 632.8,494 635.4,493.7 638,494 640.6,493.9 643.2,493.5 645.8,492.5 648.4,489.6 651,491.6 653.6,493.3 656.2,495.2 658.8,494.9 661.4,494.8 664,496.1 666.6,496 669.2,494.6 671.8,498.2 674.4,498.8 677,496.5 679.6,495.6 682.2,493.5 684.8,492.5 687.4,493.2 690,493.2 692.6,491.7 695.2,493.1 697.8,494.7 700.4,494.7 702,495.1 706.5,495.9 711,495.5 715.5,494.6 720,495 724.5,496.7 729,498.2 733.5,497.1 738,496.3 742.5,495.4 747,495.7 751.5,496 756,497.7 760.5,496.2 765,494.8 769.5,494.6 774,494.7 778.5,494.6 783,494.4 787.5,494.6 792,494.8 796.5,495.5 801,495.4 805.5,495.9 810,495.8 814.5,496.3 819,496 823.5,495.6 828,494.7 832.5,495 837,495.8 841.5,496.5 846,496.9 850.5,496.9 855,496.6 859.5,497.1 864,497.9 868.5,498.2 871,498.4"/>
<polygon fill="#006bff" points="871,162 153,162 153,496 157.5,495.7 162,496 166.5,496.1 171,495.8 175.5,495.7 180,495.6 184.5,494.4 189,496.4 193.5,496.9 198,497.1 202.5,496.9 207,496.5 211.5,496.7 216,496.4 220.5,496.1 225,496 229.5,496.3 234,496.7 238.5,495.9 243,496.1 247.5,496 252,495.7 256.5,495.3 261,495 265.5,493.6 270,495.6 274.5,496.6 279,497.5 283.5,497.8 288,497.4 292.5,496.7 297,495 301.5,494.9 306,495.1 310.5,495.6 315,494.5 319.5,493.8 324,492.7 328.5,491.5 333,489.2 337.5,488.7 342,489.1 346.5,488.9 351,489.8 355.5,491.4 360,492 364.5,492.3 369,492.6 373.5,492.8 378,493.1 382.5,492.8 387,491.9 391.5,491 396,491 400.5,492.2 405,493.9 409.5,494.4 414,494.6 418.5,494.6 423,494.9 427.5,495.4 430,495.6 432.6,495.9 435.2,496.4 437.8,496.7 440.4,497.2 443,497 445.6,496.7 448.2,496.6 450.8,496.3 453.4,494.9 456,493.8 458.6,492.9 461.2,491.9 463.8,490.1 466.4,488.6 469,490 471.6,491 474.2,491.4 476.8,491.5 479.4,491.5 482,491 484.6,490.5 487.2,487.6 489.8,486.1 492.4,485.2 495,483.7 497.6,481.8 500.2,485.4 502.8,487.5 505.4,488.6 508,489.4 510.6,490.8 513.2,493.2 515.8,493.3 518.4,493.1 521,493.9 523.6,494.4 526.2,494.3 528.8,494.1 531.4,493.8 534,494 536.6,494.2 539.2,493.9 541.8,493.6 544.4,493.4 547,492.1 549.6,492.2 552.2,493.3 554.8,493.4 557.4,493.1 560,493.3 562.6,492.6 565.2,490.5 567.8,489.8 570.4,490.7 573,491.1 575.6,491.4 578.2,492.1 580.8,492.3 583.4,492.3 586,492.6 588.6,492.6 591.2,492.9 593.8,492.2 596.4,491.5 599,491.8 601.6,491.5 604.2,491.5 606.8,490.4 609.4,491.7 612,491.8 614.6,492 617.2,493.3 619.8,493.7 622.4,494.1 625,493.8 627.6,493.8 630.2,493.5 632.8,493 635.4,492.7 638,493 640.6,493 643.2,492.6 645.8,491.7 648.4,489 651,490.8 653.6,492.4 656.2,494.3 658.8,493.9 661.4,493.8 664,494.9 666.6,494.7 669.2,493.3 671.8,497.3 674.4,498.1 677,495.7 679.6,494.7 682.2,492.8 684.8,491.9 687.4,492.5 690,492.6 692.6,491.2 695.2,492.3 697.8,493.9 700.4,493.9 702,494.2 706.5,495.1 711,494.7 715.5,493.6 720,494.1 724.5,496 729,497.5 733.5,496.4 738,495.6 742.5,494.5 747,494.8 751.5,495.2 756,496.7 760.5,495.3 765,493.8 769.5,493.6 774,493.8 778.5,493.7 783,493.5 787.5,493.8 792,494 796.5,494.6 801,494.6 805.5,495.1 810,495 814.5,495.6 819,495.1 823.5,494.7 828,493.8 832.5,494.1 837,494.9 841.5,495.4 846,495.9 850.5,495.9 855,495.6 859.5,496.2 864,497 868.5,497.3 871,497.5"/>
<polygon fill="#0082ff" points="871,162 153,162 153,494.9 157.5,494.7 162,495 166.5,495 171,494.7 175.5,494.6 180,494.6 184.5,493.6 189,495.4 193.5,495.9 198,496.2 202.5,496 207,495.6 211.5,495.8 216,495.4 220.5,495.1 225,495 229.5,495.3 234,495.7 238.5,494.9 243,495.2 247.5,494.9 252,494.6 256.5,494.2 261,493.9 265.5,492.6 270,494.6 274.5,495.7 279,496.6 283.5,497 288,496.6 292.5,495.8 297,493.9 301.5,493.8 306,494 310.5,494.6 315,493.5 319.5,492.9 324,491.8 328.5,490.7 333,488.4 337.5,488 342,488.3 346.5,488.1 351,489 355.5,490.7 360,491.2 364.5,491.5 369,491.9 373.5,492.1 378,492.4 382.5,492 387,491.1 391.5,490.1 396,490.1 400.5,491.3 405,493 409.5,493.6 414,493.8 418.5,493.8 423,494.1 427.5,494.7 430,494.9 432.6,495.2 435.2,495.6 437.8,496 440.4,496.4 443,496.2 445.6,495.8 448.2,495.7 450.8,495.4 453.4,493.9 456,492.9 458.6,492 461.2,491.1 463.8,489.4 466.4,487.8 469,489.1 471.6,490.2 474.2,490.6 476.8,490.8 479.4,490.9 482,490.3 484.6,489.7 487.2,487 489.8,485.7 492.4,484.8 495,483.4 497.6,481.5 500.2,485.2 502.8,487.3 505.4,488.4 508,489.1 510.6,490.4 513.2,492.5 515.8,492.6 518.4,492.3 521,493.2 523.6,493.7 526.2,493.6 528.8,493.3 531.4,493 534,493.2 536.6,493.4 539.2,493 541.8,492.6 544.4,492.5 547,491.2 549.6,491.2 552.2,492.4 554.8,492.4 557.4,492.1 560,492.4 562.6,491.7 565.2,489.6 567.8,488.9 570.4,489.7 573,490 575.6,490.5 578.2,491.2 580.8,491.4 583.4,491.4 586,491.6 588.6,491.6 591.2,492 593.8,491.2 596.4,490.5 599,490.7 601.6,490.5 604.2,490.6 606.8,489.7 609.4,491 612,491 614.6,491.2 617.2,492.4 619.8,492.8 622.4,493.2 625,493 627.6,493 630.2,492.6 632.8,492.1 635.4,491.8 638,492.1 640.6,492 643.2,491.6 645.8,490.8 648.4,488.4 651,490 653.6,491.5 656.2,493.3 658.8,492.9 661.4,492.8 664,493.6 666.6,493.3 669.2,492.1 671.8,496.4 674.4,497.4 677,494.9 679.6,493.9 682.2,492.1 684.8,491.3 687.4,491.9 690,491.9 692.6,490.7 695.2,491.6 697.8,493 700.4,493.1 702,493.4 706.5,494.3 711,493.9 715.5,492.7 720,493.3 724.5,495.3 729,496.9 733.5,495.7 738,494.8 742.5,493.7 747,493.9 751.5,494.3 756,495.7 760.5,494.3 765,492.8 769.5,492.6 774,492.8 778.5,492.8 783,492.6 787.5,492.9 792,493.1 796.5,493.8 801,493.8 805.5,494.2 810,494.2 814.5,494.8 819,494.3 823.5,493.9 828,492.9 832.5,493.2 837,493.9 841.5,494.4 846,494.9 850.5,494.9 855,494.6 859.5,495.2 864,496.1 868.5,496.4 871,496.6"/>
<polygon fill="#0098ff" points="871,162 153,162 153,493.9 157.5,493.6 162,493.9 166.5,494 171,493.7 175.5,493.6 180,493.5 184.5,492.7 189,494.4 193.5,495 198,495.3 202.5,495.1 207,494.8 211.5,494.8 216,494.4 220.5,494 225,493.9 229.5,494.3 234,494.7 238.5,494 243,494.2 247.5,493.9 252,493.6 256.5,493.1 261,492.8 265.5,491.7 270,493.6 274.5,494.8 279,495.8 283.5,496.1 288,495.8 292.5,494.9 297,492.8 301.5,492.8 306,492.9 310.5,493.6 315,492.4 319.5,492 324,491 328.5,489.9 333,487.6 337.5,487.4 342,487.5 346.5,487.3 351,488.2 355.5,489.9 360,490.4 364.5,490.7 369,491.1 373.5,491.3 378,491.7 382.5,491.2 387,490.2 391.5,489.2 396,489.3 400.5,490.5 405,492.2 409.5,492.7 414,492.9 418.5,492.9 423,493.3 427.5,493.9 430,494.2 432.6,494.4 435.2,494.8 437.8,495.2 440.4,495.6 443,495.3 445.6,495 448.2,494.9 450.8,494.5 453.4,492.9 456,491.9 458.6,491.2 461.2,490.3 463.8,488.6 466.4,487 469,488.2 471.6,489.4 474.2,489.8 476.8,490.1 479.4,490.2 482,489.6 484.6,488.9 487.2,486.4 489.8,485.2 492.4,484.5 495,483 497.6,481.2 500.2,485 502.8,487.2 505.4,488.3 508,488.8 510.6,489.9 513.2,491.8 515.8,491.9 518.4,491.6 521,492.4 523.6,493 526.2,492.9 528.8,492.6 531.4,492.3 534,492.4 536.6,492.5 539.2,492.1 541.8,491.7 544.4,491.5 547,490.3 549.6,490.2 552.2,491.4 554.8,491.5 557.4,491.1 560,491.4 562.6,490.7 565.2,488.7 567.8,488 570.4,488.7 573,489 575.6,489.5 578.2,490.2 580.8,490.5 583.4,490.4 586,490.7 588.6,490.7 591.2,491.1 593.8,490.3 596.4,489.4 599,489.7 601.6,489.6 604.2,489.6 606.8,489 609.4,490.3 612,490.2 614.6,490.4 617.2,491.5 619.8,491.9 622.4,492.3 625,492.2 627.6,492.1 630.2,491.7 632.8,491.1 635.4,490.8 638,491.1 640.6,491.1 643.2,490.6 645.8,489.9 648.4,487.8 651,489.2 653.6,490.7 656.2,492.4 658.8,492 661.4,491.7 664,492.4 666.6,492 669.2,490.8 671.8,495.5 674.4,496.6 677,494 679.6,493.1 682.2,491.5 684.8,490.7 687.4,491.2 690,491.3 692.6,490.1 695.2,490.9 697.8,492.1 700.4,492.3 702,492.6 706.5,493.4 711,493.1 715.5,491.8 720,492.4 724.5,494.5 729,496.2 733.5,494.9 738,494 742.5,492.8 747,493.1 751.5,493.5 756,494.7 760.5,493.4 765,491.8 769.5,491.7 774,491.9 778.5,491.9 783,491.7 787.5,492 792,492.3 796.5,493 801,493.1 805.5,493.4 810,493.4 814.5,494 819,493.5 823.5,493 828,492 832.5,492.3 837,493 841.5,493.3 846,493.9 850.5,493.9 855,493.6 859.5,494.2 864,495.2 868.5,495.5 871,495.7"/>
<polygon fill="#00adff" points="871,162 153,162 153,492.8 157.5,492.6 162,492.9 166.5,493 171,492.7 175.5,492.5 180,492.4 184.5,491.8 189,493.4 193.5,494 198,494.4 202.5,494.2 207,493.9 211.5,493.8 216,493.4 220.5,493 225,492.9 229.5,493.3 234,493.7 238.5,493.1 243,493.2 247.5,492.8 252,492.5 256.5,492.1 261,491.7 265.5,490.8 270,492.6 274.5,493.9 279,494.9 283.5,495.3 288,494.9 292.5,494 297,491.8 301.5,491.7 306,491.8 310.5,492.6 315,491.4 319.5,491 324,490.1 328.5,489.1 333,486.8 337.5,486.7 342,486.7 346.5,486.5 351,487.4 355.5,489.2 360,489.6 364.5,489.9 369,490.3 373.5,490.6 378,490.9 382.5,490.5 387,489.4 391.5,488.3 396,488.4 400.5,489.6 405,491.3 409.5,491.8 414,492.1 418.5,492.1 423,492.5 427.5,493.2 430,493.4 432.6,493.7 435.2,494.1 437.8,494.4 440.4,494.9 443,494.5 445.6,494.1 448.2,494 450.8,493.5 453.4,491.9 456,491 458.6,490.3 461.2,489.5 463.8,487.9 466.4,486.2 469,487.3 471.6,488.6 474.2,489 476.8,489.4 479.4,489.6 482,488.9 484.6,488.1 487.2,485.8 489.8,484.7 492.4,484.1 495,482.6 497.6,480.9 500.2,484.8 502.8,487 505.4,488.1 508,488.6 510.6,489.5 513.2,491.1 515.8,491.1 518.4,490.8 521,491.7 523.6,492.3 526.2,492.2 528.8,491.9 531.4,491.5 534,491.6 536.6,491.7 539.2,491.1 541.8,490.8 544.4,490.6 547,489.3 549.6,489.2 552.2,490.5 554.8,490.5 557.4,490.1 560,490.4 562.6,489.7 565.2,487.7 567.8,487.1 570.4,487.6 573,488 575.6,488.5 578.2,489.3 580.8,489.5 583.4,489.5 586,489.7 588.6,489.7 591.2,490.2 593.8,489.3 596.4,488.4 599,488.7 601.6,488.6 604.2,488.7 606.8,488.3 609.4,489.5 612,489.4 614.6,489.6 617.2,490.6 619.8,491.1 622.4,491.5 625,491.4 627.6,491.3 630.2,490.8 632.8,490.2 635.4,489.8 638,490.2 640.6,490.1 643.2,489.7 645.8,489 648.4,487.2 651,488.3 653.6,489.8 656.2,491.4 658.8,491 661.4,490.7 664,491.2 666.6,490.7 669.2,489.5 671.8,494.6 674.4,495.9 677,493.2 679.6,492.2 682.2,490.8 684.8,490.1 687.4,490.5 690,490.7 692.6,489.6 695.2,490.2 697.8,491.3 700.4,491.5 702,491.8 706.5,492.6 711,492.3 715.5,490.8 720,491.5 724.5,493.8 729,495.6 733.5,494.2 738,493.2 742.5,491.9 747,492.2 751.5,492.7 756,493.7 760.5,492.5 765,490.7 769.5,490.7 774,491 778.5,491 783,490.9 787.5,491.1 792,491.4 796.5,492.1 801,492.3 805.5,492.6 810,492.6 814.5,493.2 819,492.7 823.5,492.1 828,491 832.5,491.4 837,492.1 841.5,492.3 846,492.9 850.5,492.9 855,492.6 859.5,493.3 864,494.2 868.5,494.6 871,494.9"/>
<polygon fill="#00c1ff" points="871,162 153,162 153,491.8 157.5,491.5 162,491.9 166.5,491.9 171,491.6 175.5,491.5 180,491.3 184.5,490.9 189,492.4 193.5,493 198,493.4 202.5,493.3 207,493.1 211.5,492.8 216,492.4 220.5,492 225,491.8 229.5,492.3 234,492.7 238.5,492.2 243,492.3 247.5,491.8 252,491.4 256.5,491 261,490.6 265.5,489.8 270,491.7 274.5,493 279,494 283.5,494.4 288,494.1 292.5,493 297,490.7 301.5,490.6 306,490.7 310.5,491.5 315,490.4 319.5,490.1 324,489.2 328.5,488.3 333,486 337.5,486 342,485.9 346.5,485.7 351,486.6 355.5,488.5 360,488.8 364.5,489.1 369,489.6 373.5,489.8 378,490.2 382.5,489.7 387,488.6 391.5,487.4 396,487.5 400.5,488.8 405,490.4 409.5,491 414,491.3 418.5,491.3 423,491.7 427.5,492.4 430,492.7 432.6,493 435.2,493.3 437.8,493.7 440.4,494.1 443,493.7 445.6,493.2 448.2,493.2 450.8,492.6 453.4,490.9 456,490 458.6,489.5 461.2,488.7 463.8,487.1 466.4,485.5 469,486.5 471.6,487.8 474.2,488.3 476.8,488.7 479.4,488.9 482,488.2 484.6,487.3 487.2,485.2 489.8,484.3 492.4,483.8 495,482.3 497.6,480.5 500.2,484.7 502.8,486.9 505.4,487.9 508,488.3 510.6,489 513.2,490.4 515.8,490.4 518.4,490 521,491 523.6,491.6 526.2,491.5 528.8,491.2 531.4,490.8 534,490.9 536.6,490.8 539.2,490.2 541.8,489.8 544.4,489.7 547,488.4 549.6,488.2 552.2,489.5 554.8,489.6 557.4,489.1 560,489.5 562.6,488.7 565.2,486.8 567.8,486.2 570.4,486.6 573,486.9 575.6,487.6 578.2,488.3 580.8,488.6 583.4,488.6 586,488.8 588.6,488.8 591.2,489.3 593.8,488.3 596.4,487.3 599,487.6 601.6,487.7 604.2,487.7 606.8,487.6 609.4,488.8 612,488.6 614.6,488.7 617.2,489.7 619.8,490.2 622.4,490.6 625,490.6 627.6,490.4 630.2,489.9 632.8,489.3 635.4,488.9 638,489.3 640.6,489.2 643.2,488.7 645.8,488.2 648.4,486.5 651,487.5 653.6,488.9 656.2,490.5 658.8,490 661.4,489.7 664,489.9 666.6,489.4 669.2,488.3 671.8,493.6 674.4,495.2 677,492.3 679.6,491.4 682.2,490.1 684.8,489.5 687.4,489.9 690,490 692.6,489.1 695.2,489.5 697.8,490.4 700.4,490.6 702,491 706.5,491.8 711,491.5 715.5,489.9 720,490.6 724.5,493.1 729,494.9 733.5,493.4 738,492.4 742.5,491 747,491.4 751.5,491.8 756,492.7 760.5,491.5 765,489.7 769.5,489.7 774,490 778.5,490.1 783,490 787.5,490.2 792,490.6 796.5,491.3 801,491.5 805.5,491.8 810,491.8 814.5,492.4 819,491.9 823.5,491.2 828,490.1 832.5,490.5 837,491.1 841.5,491.3 846,491.9 850.5,491.9 855,491.6 859.5,492.3 864,493.3 868.5,493.8 871,494.0"/>
<polygon fill="#00d6ff" points="871,162 153,162 153,490.7 157.5,490.5 162,490.8 166.5,490.9 171,490.6 175.5,490.4 180,490.3 184.5,490 189,491.4 193.5,492.1 198,492.5 202.5,492.4 207,492.2 211.5,491.8 216,491.4 220.5,490.9 225,490.8 229.5,491.3 234,491.7 238.5,491.3 243,491.3 247.5,490.7 252,490.4 256.5,489.9 261,489.5 265.5,488.9 270,490.7 274.5,492.1 279,493.2 283.5,493.6 288,493.2 292.5,492.1 297,489.6 301.5,489.5 306,489.6 310.5,490.5 315,489.4 319.5,489.2 324,488.3 328.5,487.5 333,485.1 337.5,485.3 342,485.1 346.5,484.9 351,485.8 355.5,487.7 360,488 364.5,488.3 369,488.8 373.5,489.1 378,489.5 382.5,489 387,487.8 391.5,486.5 396,486.7 400.5,487.9 405,489.5 409.5,490.1 414,490.4 418.5,490.5 423,490.9 427.5,491.7 430,492 432.6,492.3 435.2,492.5 437.8,492.9 440.4,493.3 443,492.9 445.6,492.3 448.2,492.3 450.8,491.7 453.4,489.9 456,489.1 458.6,488.6 461.2,487.9 463.8,486.4 466.4,484.7 469,485.6 471.6,487 474.2,487.5 476.8,488 479.4,488.3 482,487.5 484.6,486.5 487.2,484.6 489.8,483.8 492.4,483.5 495,481.9 497.6,480.2 500.2,484.5 502.8,486.7 505.4,487.7 508,488 510.6,488.6 513.2,489.8 515.8,489.7 518.4,489.3 521,490.3 523.6,490.9 526.2,490.8 528.8,490.4 531.4,490 534,490.1 536.6,490 539.2,489.3 541.8,488.9 544.4,488.7 547,487.5 549.6,487.3 552.2,488.6 554.8,488.6 557.4,488.1 560,488.5 562.6,487.7 565.2,485.9 567.8,485.3 570.4,485.5 573,485.9 575.6,486.6 578.2,487.4 580.8,487.7 583.4,487.6 586,487.8 588.6,487.8 591.2,488.4 593.8,487.3 596.4,486.3 599,486.6 601.6,486.8 604.2,486.8 606.8,486.9 609.4,488 612,487.8 614.6,487.9 617.2,488.8 619.8,489.3 622.4,489.7 625,489.8 627.6,489.6 630.2,489 632.8,488.3 635.4,487.9 638,488.3 640.6,488.2 643.2,487.7 645.8,487.3 648.4,485.9 651,486.7 653.6,488 656.2,489.5 658.8,489 661.4,488.6 664,488.7 666.6,488 669.2,487 671.8,492.7 674.4,494.4 677,491.5 679.6,490.6 682.2,489.4 684.8,488.9 687.4,489.2 690,489.4 692.6,488.5 695.2,488.8 697.8,489.5 700.4,489.8 702,490.2 706.5,490.9 711,490.7 715.5,488.9 720,489.7 724.5,492.3 729,494.3 733.5,492.7 738,491.6 742.5,490.1 747,490.5 751.5,491 756,491.7 760.5,490.6 765,488.7 769.5,488.8 774,489.1 778.5,489.2 783,489.1 787.5,489.3 792,489.7 796.5,490.4 801,490.7 805.5,491 810,491 814.5,491.6 819,491.1 823.5,490.4 828,489.2 832.5,489.5 837,490.2 841.5,490.2 846,490.9 850.5,490.9 855,490.6 859.5,491.3 864,492.4 868.5,492.9 871,493.1"/>
<polygon fill="#00e5fb" points="871,162 153,162 153,489.7 157.5,489.4 162,489.8 166.5,489.8 171,489.5 175.5,489.4 180,489.2 184.5,489.1 189,490.4 193.5,491.1 198,491.6 202.5,491.5 207,491.4 211.5,490.8 216,490.4 220.5,489.9 225,489.7 229.5,490.3 234,490.7 238.5,490.4 243,490.3 247.5,489.7 252,489.3 256.5,488.8 261,488.4 265.5,488 270,489.7 274.5,491.2 279,492.3 283.5,492.7 288,492.4 292.5,491.2 297,488.6 301.5,488.5 306,488.5 310.5,489.5 315,488.4 319.5,488.3 324,487.5 328.5,486.7 333,484.3 337.5,484.6 342,484.3 346.5,484 351,485 355.5,487 360,487.2 364.5,487.5 369,488 373.5,488.3 378,488.8 382.5,488.2 387,486.9 391.5,485.6 396,485.8 400.5,487.1 405,488.6 409.5,489.2 414,489.6 418.5,489.7 423,490 427.5,490.9 430,491.2 432.6,491.5 435.2,491.8 437.8,492.1 440.4,492.6 443,492.1 445.6,491.5 448.2,491.5 450.8,490.8 453.4,488.9 456,488.2 458.6,487.8 461.2,487.1 463.8,485.6 466.4,483.9 469,484.7 471.6,486.2 474.2,486.7 476.8,487.3 479.4,487.7 482,486.8 484.6,485.7 487.2,484 489.8,483.4 492.4,483.1 495,481.6 497.6,479.9 500.2,484.3 502.8,486.5 505.4,487.5 508,487.8 510.6,488.1 513.2,489.1 515.8,489 518.4,488.5 521,489.5 523.6,490.2 526.2,490 528.8,489.7 531.4,489.3 534,489.3 536.6,489.1 539.2,488.4 541.8,488 544.4,487.8 547,486.5 549.6,486.3 552.2,487.6 554.8,487.7 557.4,487.2 560,487.5 562.6,486.8 565.2,485 567.8,484.4 570.4,484.5 573,484.8 575.6,485.6 578.2,486.4 580.8,486.7 583.4,486.7 586,486.9 588.6,486.8 591.2,487.5 593.8,486.3 596.4,485.2 599,485.6 601.6,485.8 604.2,485.9 606.8,486.2 609.4,487.3 612,487 614.6,487.1 617.2,487.8 619.8,488.4 622.4,488.9 625,489 627.6,488.8 630.2,488.1 632.8,487.4 635.4,486.9 638,487.4 640.6,487.3 643.2,486.7 645.8,486.4 648.4,485.3 651,485.9 653.6,487.1 656.2,488.5 658.8,488 661.4,487.6 664,487.5 666.6,486.7 669.2,485.7 671.8,491.8 674.4,493.7 677,490.7 679.6,489.8 682.2,488.7 684.8,488.3 687.4,488.6 690,488.7 692.6,488 695.2,488.1 697.8,488.7 700.4,489 702,489.4 706.5,490.1 711,489.9 715.5,488 720,488.8 724.5,491.6 729,493.6 733.5,492 738,490.8 742.5,489.2 747,489.6 751.5,490.2 756,490.7 760.5,489.7 765,487.7 769.5,487.8 774,488.2 778.5,488.3 783,488.2 787.5,488.4 792,488.9 796.5,489.6 801,489.9 805.5,490.1 810,490.2 814.5,490.8 819,490.2 823.5,489.5 828,488.3 832.5,488.6 837,489.2 841.5,489.2 846,489.9 850.5,489.9 855,489.7 859.5,490.4 864,491.5 868.5,492 871,492.2"/>
<polygon fill="#00eff4" points="871,162 153,162 153,488.6 157.5,488.4 162,488.7 166.5,488.8 171,488.5 175.5,488.3 180,488.1 184.5,488.2 189,489.4 193.5,490.1 198,490.7 202.5,490.6 207,490.5 211.5,489.8 216,489.4 220.5,488.9 225,488.7 229.5,489.3 234,489.7 238.5,489.5 243,489.3 247.5,488.6 252,488.2 256.5,487.7 261,487.2 265.5,487.1 270,488.7 274.5,490.2 279,491.5 283.5,491.9 288,491.6 292.5,490.2 297,487.5 301.5,487.4 306,487.4 310.5,488.5 315,487.4 319.5,487.3 324,486.6 328.5,485.9 333,483.5 337.5,483.9 342,483.5 346.5,483.2 351,484.2 355.5,486.2 360,486.4 364.5,486.8 369,487.3 373.5,487.6 378,488 382.5,487.5 387,486.1 391.5,484.7 396,484.9 400.5,486.2 405,487.8 409.5,488.4 414,488.7 418.5,488.9 423,489.2 427.5,490.1 430,490.5 432.6,490.8 435.2,491 437.8,491.3 440.4,491.8 443,491.3 445.6,490.6 448.2,490.6 450.8,489.8 453.4,487.9 456,487.2 458.6,486.9 461.2,486.2 463.8,484.9 466.4,483.1 469,483.8 471.6,485.3 474.2,485.9 476.8,486.6 479.4,487 482,486.1 484.6,484.9 487.2,483.4 489.8,482.9 492.4,482.8 495,481.2 497.6,479.6 500.2,484.1 502.8,486.4 505.4,487.4 508,487.5 510.6,487.7 513.2,488.4 515.8,488.3 518.4,487.8 521,488.8 523.6,489.5 526.2,489.3 528.8,489 531.4,488.5 534,488.5 536.6,488.3 539.2,487.4 541.8,487 544.4,486.9 547,485.6 549.6,485.3 552.2,486.7 554.8,486.7 557.4,486.2 560,486.5 562.6,485.8 565.2,484.1 567.8,483.5 570.4,483.4 573,483.8 575.6,484.7 578.2,485.5 580.8,485.8 583.4,485.8 586,485.9 588.6,485.9 591.2,486.6 593.8,485.3 596.4,484.2 599,484.5 601.6,484.9 604.2,484.9 606.8,485.5 609.4,486.5 612,486.2 614.6,486.3 617.2,486.9 619.8,487.5 622.4,488 625,488.3 627.6,487.9 630.2,487.2 632.8,486.4 635.4,486 638,486.4 640.6,486.3 643.2,485.8 645.8,485.5 648.4,484.7 651,485 653.6,486.2 656.2,487.6 658.8,487 661.4,486.5 664,486.2 666.6,485.4 669.2,484.4 671.8,490.9 674.4,492.9 677,489.8 679.6,488.9 682.2,488 684.8,487.7 687.4,487.9 690,488.1 692.6,487.5 695.2,487.4 697.8,487.8 700.4,488.2 702,488.6 706.5,489.3 711,489.1 715.5,487 720,488 724.5,490.9 729,493 733.5,491.2 738,490.1 742.5,488.4 747,488.8 751.5,489.3 756,489.7 760.5,488.7 765,486.7 769.5,486.8 774,487.2 778.5,487.3 783,487.4 787.5,487.5 792,488.1 796.5,488.8 801,489.2 805.5,489.3 810,489.4 814.5,490 819,489.4 823.5,488.6 828,487.4 832.5,487.7 837,488.3 841.5,488.1 846,488.9 850.5,489 855,488.7 859.5,489.4 864,490.6 868.5,491.1 871,491.3"/>
<polygon fill="#00faec" points="871,162 153,162 153,487.6 157.5,487.4 162,487.7 166.5,487.8 171,487.4 175.5,487.2 180,487.1 184.5,487.3 189,488.4 193.5,489.2 198,489.8 202.5,489.7 207,489.7 211.5,488.9 216,488.4 220.5,487.8 225,487.6 229.5,488.3 234,488.7 238.5,488.6 243,488.4 247.5,487.6 252,487.2 256.5,486.6 261,486.1 265.5,486.1 270,487.8 274.5,489.3 279,490.6 283.5,491 288,490.7 292.5,489.3 297,486.4 301.5,486.3 306,486.3 310.5,487.4 315,486.4 319.5,486.4 324,485.7 328.5,485.1 333,482.7 337.5,483.3 342,482.7 346.5,482.4 351,483.4 355.5,485.5 360,485.6 364.5,486 369,486.5 373.5,486.8 378,487.3 382.5,486.7 387,485.3 391.5,483.8 396,484.1 400.5,485.4 405,486.9 409.5,487.5 414,487.9 418.5,488.1 423,488.4 427.5,489.4 430,489.8 432.6,490.1 435.2,490.3 437.8,490.6 440.4,491 443,490.4 445.6,489.7 448.2,489.8 450.8,488.9 453.4,486.9 456,486.3 458.6,486.1 461.2,485.4 463.8,484.1 466.4,482.3 469,482.9 471.6,484.5 474.2,485.2 476.8,485.8 479.4,486.4 482,485.4 484.6,484 487.2,482.8 489.8,482.4 492.4,482.4 495,480.9 497.6,479.3 500.2,483.9 502.8,486.2 505.4,487.2 508,487.2 510.6,487.2 513.2,487.7 515.8,487.6 518.4,487 521,488.1 523.6,488.8 526.2,488.6 528.8,488.3 531.4,487.8 534,487.8 536.6,487.4 539.2,486.5 541.8,486.1 544.4,485.9 547,484.6 549.6,484.3 552.2,485.8 554.8,485.8 557.4,485.2 560,485.6 562.6,484.8 565.2,483.2 567.8,482.5 570.4,482.4 573,482.7 575.6,483.7 578.2,484.5 580.8,484.9 583.4,484.8 586,485 588.6,484.9 591.2,485.6 593.8,484.3 596.4,483.1 599,483.5 601.6,484 604.2,484 606.8,484.8 609.4,485.8 612,485.4 614.6,485.4 617.2,486 619.8,486.6 622.4,487.1 625,487.5 627.6,487.1 630.2,486.3 632.8,485.5 635.4,485 638,485.5 640.6,485.4 643.2,484.8 645.8,484.7 648.4,484.1 651,484.2 653.6,485.3 656.2,486.6 658.8,486 661.4,485.5 664,485 666.6,484 669.2,483.2 671.8,489.9 674.4,492.2 677,489 679.6,488.1 682.2,487.4 684.8,487.2 687.4,487.3 690,487.5 692.6,487 695.2,486.7 697.8,486.9 700.4,487.4 702,487.8 706.5,488.4 711,488.3 715.5,486.1 720,487.1 724.5,490.1 729,492.3 733.5,490.5 738,489.3 742.5,487.5 747,487.9 751.5,488.5 756,488.7 760.5,487.8 765,485.7 769.5,485.9 774,486.3 778.5,486.4 783,486.5 787.5,486.6 792,487.2 796.5,487.9 801,488.4 805.5,488.5 810,488.6 814.5,489.2 819,488.6 823.5,487.8 828,486.5 832.5,486.8 837,487.3 841.5,487.1 846,487.9 850.5,488 855,487.7 859.5,488.4 864,489.6 868.5,490.2 871,490.4"/>
<polygon fill="#00ffe2" points="871,162 153,162 153,486.5 157.5,486.3 162,486.6 166.5,486.7 171,486.4 175.5,486.2 180,486 184.5,486.4 189,487.4 193.5,488.2 198,488.8 202.5,488.9 207,488.8 211.5,487.9 216,487.4 220.5,486.8 225,486.6 229.5,487.3 234,487.7 238.5,487.7 243,487.4 247.5,486.6 252,486.1 256.5,485.5 261,485 265.5,485.2 270,486.8 274.5,488.4 279,489.7 283.5,490.2 288,489.9 292.5,488.4 297,485.4 301.5,485.3 306,485.2 310.5,486.4 315,485.4 319.5,485.5 324,484.8 328.5,484.3 333,481.9 337.5,482.6 342,481.9 346.5,481.6 351,482.6 355.5,484.8 360,484.8 364.5,485.2 369,485.7 373.5,486.1 378,486.6 382.5,485.9 387,484.5 391.5,482.9 396,483.2 400.5,484.5 405,486 409.5,486.7 414,487 418.5,487.3 423,487.6 427.5,488.6 430,489.1 432.6,489.3 435.2,489.5 437.8,489.8 440.4,490.3 443,489.6 445.6,488.9 448.2,488.9 450.8,488 453.4,485.9 456,485.4 458.6,485.3 461.2,484.6 463.8,483.4 466.4,481.5 469,482 471.6,483.7 474.2,484.4 476.8,485.1 479.4,485.7 482,484.6 484.6,483.2 487.2,482.2 489.8,482 492.4,482.1 495,480.5 497.6,479 500.2,483.7 502.8,486.1 505.4,487 508,487 510.6,486.8 513.2,487 515.8,486.9 518.4,486.3 521,487.3 523.6,488.1 526.2,487.9 528.8,487.5 531.4,487 534,487 536.6,486.5 539.2,485.6 541.8,485.1 544.4,485 547,483.7 549.6,483.3 552.2,484.8 554.8,484.8 557.4,484.2 560,484.6 562.6,483.8 565.2,482.3 567.8,481.6 570.4,481.3 573,481.7 575.6,482.7 578.2,483.6 580.8,484 583.4,483.9 586,484 588.6,484 591.2,484.7 593.8,483.3 596.4,482 599,482.5 601.6,483 604.2,483.1 606.8,484.1 609.4,485 612,484.6 614.6,484.6 617.2,485.1 619.8,485.7 622.4,486.3 625,486.7 627.6,486.2 630.2,485.4 632.8,484.5 635.4,484 638,484.5 640.6,484.4 643.2,483.8 645.8,483.8 648.4,483.5 651,483.4 653.6,484.4 656.2,485.7 658.8,485 661.4,484.5 664,483.8 666.6,482.7 669.2,481.9 671.8,489 674.4,491.5 677,488.2 679.6,487.3 682.2,486.7 684.8,486.6 687.4,486.6 690,486.8 692.6,486.4 695.2,486 697.8,486 700.4,486.6 702,486.9 706.5,487.6 711,487.5 715.5,485.2 720,486.2 724.5,489.4 729,491.7 733.5,489.8 738,488.5 742.5,486.6 747,487 751.5,487.7 756,487.8 760.5,486.9 765,484.7 769.5,484.9 774,485.4 778.5,485.5 783,485.6 787.5,485.7 792,486.4 796.5,487.1 801,487.6 805.5,487.7 810,487.8 814.5,488.4 819,487.8 823.5,486.9 828,485.6 832.5,485.9 837,486.4 841.5,486 846,486.8 850.5,487 855,486.7 859.5,487.5 864,488.7 868.5,489.3 871,489.6"/>
<polygon fill="#00ffd5" points="871,162 153,162 153,485.6 157.5,485.4 162,485.7 166.5,485.8 171,485.5 175.5,485.3 180,485.1 184.5,485.4 189,486.3 193.5,487.1 198,487.8 202.5,487.8 207,487.8 211.5,487 216,486.5 220.5,485.8 225,485.5 229.5,486.2 234,486.7 238.5,486.7 243,486.4 247.5,485.7 252,485.2 256.5,484.6 261,484.2 265.5,484.4 270,486 274.5,487.6 279,488.8 283.5,489.3 288,489 292.5,487.5 297,484.5 301.5,484.4 306,484.4 310.5,485.5 315,484.5 319.5,484.6 324,484 328.5,483.5 333,481.1 337.5,481.8 342,481.1 346.5,480.8 351,481.7 355.5,483.5 360,483.5 364.5,483.9 369,484.6 373.5,484.9 378,485.5 382.5,484.9 387,483.5 391.5,482 396,482.3 400.5,483.6 405,485.1 409.5,485.7 414,486.1 418.5,486.3 423,486.7 427.5,487.7 430,488.1 432.6,488.4 435.2,488.5 437.8,488.7 440.4,489.1 443,488.4 445.6,487.7 448.2,487.7 450.8,486.9 453.4,484.8 456,484.4 458.6,484.3 461.2,483.7 463.8,482.5 466.4,480.7 469,481.1 471.6,482.7 474.2,483.3 476.8,484.1 479.4,484.7 482,483.6 484.6,482.3 487.2,481.3 489.8,481 492.4,481.1 495,479.5 497.6,478.1 500.2,482.6 502.8,485 505.4,485.9 508,485.9 510.6,485.7 513.2,485.9 515.8,485.8 518.4,485.2 521,486.3 523.6,487 526.2,486.8 528.8,486.4 531.4,485.9 534,485.8 536.6,485.4 539.2,484.5 541.8,484.1 544.4,484 547,482.8 549.6,482.4 552.2,483.9 554.8,483.9 557.4,483.3 560,483.7 562.6,482.9 565.2,481.5 567.8,480.8 570.4,480.5 573,480.8 575.6,481.8 578.2,482.6 580.8,482.9 583.4,482.9 586,483 588.6,483 591.2,483.7 593.8,482.3 596.4,481.1 599,481.5 601.6,482.1 604.2,482.1 606.8,483.1 609.4,484 612,483.6 614.6,483.7 617.2,484.1 619.8,484.7 622.4,485.2 625,485.6 627.6,485.2 630.2,484.4 632.8,483.6 635.4,483.1 638,483.6 640.6,483.4 643.2,482.8 645.8,482.8 648.4,482.5 651,482.4 653.6,483.4 656.2,484.7 658.8,484.1 661.4,483.5 664,482.9 666.6,481.9 669.2,481.1 671.8,487.9 674.4,490.3 677,487.1 679.6,486.3 682.2,485.7 684.8,485.6 687.4,485.6 690,485.8 692.6,485.4 695.2,485 697.8,485.1 700.4,485.6 702,486 706.5,486.6 711,486.5 715.5,484.2 720,485.2 724.5,488.4 729,490.6 733.5,488.7 738,487.5 742.5,485.7 747,486.1 751.5,486.6 756,486.7 760.5,485.9 765,483.8 769.5,484 774,484.5 778.5,484.6 783,484.7 787.5,484.8 792,485.5 796.5,486.2 801,486.6 805.5,486.7 810,486.8 814.5,487.4 819,486.8 823.5,486 828,484.8 832.5,485 837,485.5 841.5,485.1 846,485.9 850.5,486 855,485.7 859.5,486.5 864,487.7 868.5,488.3 871,488.5"/>
<polygon fill="#00ffc5" points="871,162 153,162 153,484.6 157.5,484.4 162,484.7 166.5,484.8 171,484.5 175.5,484.4 180,484.3 184.5,484.4 189,485.3 193.5,486 198,486.7 202.5,486.8 207,486.9 211.5,486.1 216,485.6 220.5,484.9 225,484.5 229.5,485.2 234,485.7 238.5,485.7 243,485.5 247.5,484.8 252,484.3 256.5,483.7 261,483.4 265.5,483.6 270,485.2 274.5,486.7 279,487.9 283.5,488.3 288,488 292.5,486.6 297,483.7 301.5,483.5 306,483.5 310.5,484.6 315,483.6 319.5,483.7 324,483.1 328.5,482.6 333,480.4 337.5,480.9 342,480.3 346.5,479.9 351,480.8 355.5,482.3 360,482.2 364.5,482.7 369,483.4 373.5,483.8 378,484.4 382.5,483.8 387,482.5 391.5,481.1 396,481.4 400.5,482.7 405,484.1 409.5,484.8 414,485.2 418.5,485.4 423,485.8 427.5,486.8 430,487.2 432.6,487.4 435.2,487.6 437.8,487.7 440.4,488 443,487.3 445.6,486.5 448.2,486.6 450.8,485.7 453.4,483.8 456,483.3 458.6,483.3 461.2,482.7 463.8,481.6 466.4,479.9 469,480.2 471.6,481.7 474.2,482.3 476.8,483 479.4,483.6 482,482.6 484.6,481.3 487.2,480.3 489.8,480 492.4,480.1 495,478.6 497.6,477.2 500.2,481.6 502.8,483.8 505.4,484.8 508,484.8 510.6,484.6 513.2,484.8 515.8,484.7 518.4,484.2 521,485.3 523.6,486 526.2,485.7 528.8,485.2 531.4,484.7 534,484.6 536.6,484.2 539.2,483.3 541.8,483 544.4,483 547,481.9 549.6,481.6 552.2,482.9 554.8,482.9 557.4,482.4 560,482.7 562.6,482.1 565.2,480.7 567.8,480 570.4,479.7 573,480 575.6,480.9 578.2,481.6 580.8,481.9 583.4,481.9 586,482 588.6,482 591.2,482.7 593.8,481.4 596.4,480.2 599,480.6 601.6,481.1 604.2,481.2 606.8,482.1 609.4,483 612,482.7 614.6,482.7 617.2,483.1 619.8,483.6 622.4,484.1 625,484.5 627.6,484.1 630.2,483.4 632.8,482.6 635.4,482.2 638,482.6 640.6,482.4 643.2,481.8 645.8,481.8 648.4,481.6 651,481.5 653.6,482.4 656.2,483.7 658.8,483.1 661.4,482.6 664,482 666.6,481 669.2,480.2 671.8,486.8 674.4,489.1 677,486 679.6,485.2 682.2,484.7 684.8,484.6 687.4,484.6 690,484.8 692.6,484.4 695.2,484.1 697.8,484.1 700.4,484.6 702,485 706.5,485.6 711,485.4 715.5,483.3 720,484.3 724.5,487.3 729,489.4 733.5,487.7 738,486.5 742.5,484.7 747,485.1 751.5,485.6 756,485.7 760.5,485 765,483 769.5,483.2 774,483.6 778.5,483.7 783,483.8 787.5,483.9 792,484.6 796.5,485.3 801,485.7 805.5,485.7 810,485.8 814.5,486.4 819,485.9 823.5,485.1 828,483.9 832.5,484.1 837,484.5 841.5,484.2 846,484.9 850.5,485 855,484.8 859.5,485.6 864,486.7 868.5,487.2 871,487.5"/>
<polygon fill="#00ffb4" points="871,162 153,162 153,483.7 157.5,483.5 162,483.8 166.5,483.9 171,483.6 175.5,483.5 180,483.4 184.5,483.4 189,484.2 193.5,485 198,485.7 202.5,485.8 207,485.9 211.5,485.1 216,484.7 220.5,484 225,483.5 229.5,484.2 234,484.6 238.5,484.7 243,484.5 247.5,483.9 252,483.4 256.5,482.9 261,482.5 265.5,482.8 270,484.4 274.5,485.8 279,487 283.5,487.4 288,487.1 292.5,485.6 297,482.9 301.5,482.7 306,482.6 310.5,483.7 315,482.8 319.5,482.8 324,482.2 328.5,481.8 333,479.6 337.5,480.1 342,479.5 346.5,479.1 351,479.8 355.5,481.1 360,480.9 364.5,481.4 369,482.3 373.5,482.7 378,483.3 382.5,482.8 387,481.5 391.5,480.2 396,480.5 400.5,481.8 405,483.2 409.5,483.8 414,484.2 418.5,484.5 423,484.9 427.5,485.8 430,486.3 432.6,486.5 435.2,486.6 437.8,486.6 440.4,486.8 443,486.1 445.6,485.3 448.2,485.4 450.8,484.6 453.4,482.8 456,482.3 458.6,482.3 461.2,481.8 463.8,480.7 466.4,479.1 469,479.2 471.6,480.7 474.2,481.3 476.8,482 479.4,482.5 482,481.6 484.6,480.3 487.2,479.3 489.8,479 492.4,479.1 495,477.7 497.6,476.3 500.2,480.5 502.8,482.7 505.4,483.7 508,483.7 510.6,483.5 513.2,483.7 515.8,483.6 518.4,483.1 521,484.2 523.6,484.9 526.2,484.6 528.8,484.1 531.4,483.5 534,483.4 536.6,483 539.2,482.2 541.8,481.9 544.4,481.9 547,480.9 549.6,480.7 552.2,482 554.8,481.9 557.4,481.4 560,481.8 562.6,481.2 565.2,479.9 567.8,479.2 570.4,478.9 573,479.1 575.6,479.9 578.2,480.6 580.8,480.9 583.4,480.8 586,481 588.6,481 591.2,481.7 593.8,480.4 596.4,479.3 599,479.6 601.6,480.2 604.2,480.3 606.8,481.2 609.4,482 612,481.7 614.6,481.7 617.2,482.1 619.8,482.6 622.4,483.1 625,483.4 627.6,483.1 630.2,482.3 632.8,481.6 635.4,481.2 638,481.7 640.6,481.4 643.2,480.8 645.8,480.8 648.4,480.6 651,480.5 653.6,481.4 656.2,482.7 658.8,482.2 661.4,481.7 664,481 666.6,480.1 669.2,479.4 671.8,485.7 674.4,487.9 677,485 679.6,484.2 682.2,483.7 684.8,483.5 687.4,483.5 690,483.8 692.6,483.5 695.2,483.1 697.8,483.1 700.4,483.6 702,484 706.5,484.6 711,484.4 715.5,482.3 720,483.3 724.5,486.3 729,488.3 733.5,486.6 738,485.5 742.5,483.7 747,484.1 751.5,484.6 756,484.7 760.5,484 765,482.2 769.5,482.3 774,482.6 778.5,482.8 783,482.9 787.5,483 792,483.7 796.5,484.3 801,484.7 805.5,484.8 810,484.8 814.5,485.4 819,484.9 823.5,484.2 828,483.1 832.5,483.2 837,483.6 841.5,483.3 846,483.9 850.5,484 855,483.8 859.5,484.6 864,485.7 868.5,486.2 871,486.5"/>
<polygon fill="#00ffa3" points="871,162 153,162 153,482.7 157.5,482.5 162,482.8 166.5,483 171,482.7 175.5,482.6 180,482.5 184.5,482.4 189,483.1 193.5,483.9 198,484.6 202.5,484.8 207,484.9 211.5,484.2 216,483.8 220.5,483 225,482.4 229.5,483.1 234,483.6 238.5,483.7 243,483.6 247.5,483 252,482.5 256.5,482 261,481.7 265.5,482.1 270,483.6 274.5,485 279,486.1 283.5,486.5 288,486.1 292.5,484.7 297,482 301.5,481.8 306,481.8 310.5,482.8 315,481.9 319.5,481.9 324,481.3 328.5,480.9 333,478.8 337.5,479.3 342,478.6 346.5,478.3 351,478.9 355.5,479.9 360,479.7 364.5,480.2 369,481.1 373.5,481.6 378,482.2 382.5,481.7 387,480.5 391.5,479.3 396,479.7 400.5,480.9 405,482.2 409.5,482.9 414,483.3 418.5,483.6 423,484 427.5,484.9 430,485.3 432.6,485.6 435.2,485.6 437.8,485.5 440.4,485.7 443,484.9 445.6,484.2 448.2,484.2 450.8,483.5 453.4,481.7 456,481.3 458.6,481.3 461.2,480.9 463.8,479.8 466.4,478.2 469,478.3 471.6,479.6 474.2,480.2 476.8,480.9 479.4,481.4 482,480.6 484.6,479.3 487.2,478.3 489.8,478 492.4,478.1 495,476.7 497.6,475.4 500.2,479.5 502.8,481.6 505.4,482.5 508,482.6 510.6,482.5 513.2,482.6 515.8,482.5 518.4,482.1 521,483.2 523.6,483.8 526.2,483.5 528.8,483 531.4,482.4 534,482.2 536.6,481.8 539.2,481.1 541.8,480.8 544.4,480.9 547,480 549.6,479.8 552.2,481 554.8,481 557.4,480.5 560,480.9 562.6,480.3 565.2,479.1 567.8,478.4 570.4,478.1 573,478.3 575.6,479 578.2,479.6 580.8,479.8 583.4,479.8 586,480 588.6,480 591.2,480.7 593.8,479.5 596.4,478.4 599,478.7 601.6,479.2 604.2,479.4 606.8,480.2 609.4,481 612,480.7 614.6,480.8 617.2,481.1 619.8,481.5 622.4,482 625,482.3 627.6,482 630.2,481.3 632.8,480.7 635.4,480.3 638,480.7 640.6,480.4 643.2,479.8 645.8,479.8 648.4,479.6 651,479.6 653.6,480.5 656.2,481.7 658.8,481.3 661.4,480.8 664,480.1 666.6,479.3 669.2,478.6 671.8,484.7 674.4,486.7 677,483.9 679.6,483.2 682.2,482.7 684.8,482.5 687.4,482.5 690,482.7 692.6,482.5 695.2,482.1 697.8,482.2 700.4,482.7 702,483 706.5,483.6 711,483.4 715.5,481.4 720,482.4 724.5,485.2 729,487.2 733.5,485.6 738,484.5 742.5,482.8 747,483.2 751.5,483.6 756,483.7 760.5,483.1 765,481.4 769.5,481.5 774,481.7 778.5,481.9 783,482 787.5,482.1 792,482.8 796.5,483.4 801,483.8 805.5,483.8 810,483.8 814.5,484.4 819,483.9 823.5,483.3 828,482.2 832.5,482.4 837,482.7 841.5,482.4 846,483 850.5,483.1 855,482.9 859.5,483.6 864,484.7 868.5,485.2 871,485.5"/>
<polygon fill="#00ff92" points="871,162 153,162 153,481.8 157.5,481.6 162,481.9 166.5,482 171,481.8 175.5,481.7 180,481.7 184.5,481.4 189,482.1 193.5,482.8 198,483.5 202.5,483.8 207,484 211.5,483.3 216,483 220.5,482.1 225,481.4 229.5,482.1 234,482.6 238.5,482.7 243,482.6 247.5,482.1 252,481.6 256.5,481.1 261,480.9 265.5,481.3 270,482.8 274.5,484.1 279,485.2 283.5,485.5 288,485.2 292.5,483.8 297,481.2 301.5,481 306,480.9 310.5,481.9 315,481 319.5,481 324,480.5 328.5,480.1 333,478.1 337.5,478.5 342,477.8 346.5,477.4 351,478 355.5,478.7 360,478.4 364.5,478.9 369,479.9 373.5,480.4 378,481.1 382.5,480.7 387,479.6 391.5,478.4 396,478.8 400.5,480 405,481.3 409.5,481.9 414,482.3 418.5,482.6 423,483.1 427.5,484 430,484.4 432.6,484.6 435.2,484.6 437.8,484.5 440.4,484.5 443,483.8 445.6,483 448.2,483 450.8,482.3 453.4,480.7 456,480.3 458.6,480.3 461.2,479.9 463.8,478.9 466.4,477.4 469,477.4 471.6,478.6 474.2,479.2 476.8,479.8 479.4,480.4 482,479.5 484.6,478.3 487.2,477.3 489.8,477 492.4,477.1 495,475.8 497.6,474.5 500.2,478.5 502.8,480.5 505.4,481.4 508,481.5 510.6,481.4 513.2,481.5 515.8,481.4 518.4,481 521,482.1 523.6,482.7 526.2,482.4 528.8,481.8 531.4,481.2 534,481 536.6,480.6 539.2,479.9 541.8,479.8 544.4,479.9 547,479.1 549.6,478.9 552.2,480.1 554.8,480 557.4,479.6 560,479.9 562.6,479.4 565.2,478.3 567.8,477.6 570.4,477.3 573,477.4 575.6,478 578.2,478.6 580.8,478.8 583.4,478.8 586,478.9 588.6,479 591.2,479.7 593.8,478.5 596.4,477.4 599,477.7 601.6,478.3 604.2,478.5 606.8,479.2 609.4,479.9 612,479.7 614.6,479.8 617.2,480.1 619.8,480.5 622.4,480.9 625,481.2 627.6,480.9 630.2,480.3 632.8,479.7 635.4,479.3 638,479.7 640.6,479.4 643.2,478.8 645.8,478.8 648.4,478.6 651,478.6 653.6,479.5 656.2,480.7 658.8,480.3 661.4,479.8 664,479.2 666.6,478.4 669.2,477.8 671.8,483.6 674.4,485.5 677,482.9 679.6,482.2 682.2,481.7 684.8,481.5 687.4,481.5 690,481.7 692.6,481.5 695.2,481.1 697.8,481.2 700.4,481.7 702,482 706.5,482.6 711,482.4 715.5,480.5 720,481.4 724.5,484.2 729,486.1 733.5,484.5 738,483.5 742.5,481.8 747,482.2 751.5,482.6 756,482.7 760.5,482.2 765,480.5 769.5,480.6 774,480.8 778.5,481 783,481.1 787.5,481.3 792,481.9 796.5,482.5 801,482.8 805.5,482.8 810,482.9 814.5,483.4 819,483 823.5,482.4 828,481.3 832.5,481.5 837,481.8 841.5,481.4 846,482 850.5,482.1 855,482 859.5,482.7 864,483.7 868.5,484.2 871,484.5"/>
<polygon fill="#00fe7f" points="871,162 153,162 153,480.8 157.5,480.6 162,480.9 166.5,481.1 171,480.9 175.5,480.9 180,480.8 184.5,480.4 189,481 193.5,481.8 198,482.5 202.5,482.8 207,483 211.5,482.4 216,482.1 220.5,481.1 225,480.4 229.5,481.1 234,481.6 238.5,481.8 243,481.7 247.5,481.2 252,480.7 256.5,480.2 261,480 265.5,480.5 270,482 274.5,483.2 279,484.3 283.5,484.6 288,484.2 292.5,482.9 297,480.4 301.5,480.1 306,480 310.5,481 315,480.1 319.5,480.1 324,479.6 328.5,479.2 333,477.3 337.5,477.7 342,477 346.5,476.6 351,477 355.5,477.5 360,477.1 364.5,477.6 369,478.8 373.5,479.3 378,479.9 382.5,479.6 387,478.6 391.5,477.5 396,477.9 400.5,479.1 405,480.3 409.5,481 414,481.4 418.5,481.7 423,482.2 427.5,483.1 430,483.4 432.6,483.7 435.2,483.7 437.8,483.4 440.4,483.4 443,482.6 445.6,481.8 448.2,481.9 450.8,481.2 453.4,479.6 456,479.3 458.6,479.3 461.2,479 463.8,478 466.4,476.6 469,476.5 471.6,477.6 474.2,478.1 476.8,478.8 479.4,479.3 482,478.5 484.6,477.3 487.2,476.3 489.8,476 492.4,476.1 495,474.8 497.6,473.6 500.2,477.4 502.8,479.4 505.4,480.3 508,480.4 510.6,480.3 513.2,480.4 515.8,480.3 518.4,480 521,481.1 523.6,481.6 526.2,481.3 528.8,480.7 531.4,480 534,479.9 536.6,479.5 539.2,478.8 541.8,478.7 544.4,478.9 547,478.2 549.6,478.1 552.2,479.1 554.8,479.1 557.4,478.7 560,479 562.6,478.5 565.2,477.4 567.8,476.8 570.4,476.5 573,476.6 575.6,477.1 578.2,477.6 580.8,477.8 583.4,477.8 586,477.9 588.6,478 591.2,478.7 593.8,477.6 596.4,476.5 599,476.8 601.6,477.4 604.2,477.5 606.8,478.3 609.4,478.9 612,478.7 614.6,478.8 617.2,479.1 619.8,479.5 622.4,479.8 625,480.1 627.6,479.9 630.2,479.3 632.8,478.7 635.4,478.4 638,478.8 640.6,478.4 643.2,477.8 645.8,477.8 648.4,477.7 651,477.6 653.6,478.5 656.2,479.7 658.8,479.4 661.4,478.9 664,478.3 666.6,477.5 669.2,476.9 671.8,482.5 674.4,484.4 677,481.8 679.6,481.2 682.2,480.7 684.8,480.5 687.4,480.5 690,480.7 692.6,480.5 695.2,480.2 697.8,480.2 700.4,480.7 702,481.1 706.5,481.6 711,481.4 715.5,479.5 720,480.5 724.5,483.2 729,485 733.5,483.5 738,482.5 742.5,480.9 747,481.2 751.5,481.6 756,481.7 760.5,481.2 765,479.7 769.5,479.7 774,479.9 778.5,480.1 783,480.2 787.5,480.4 792,481 796.5,481.6 801,481.8 805.5,481.8 810,481.9 814.5,482.4 819,482 823.5,481.5 828,480.5 832.5,480.6 837,480.9 841.5,480.5 846,481 850.5,481.1 855,481 859.5,481.7 864,482.7 868.5,483.2 871,483.4"/>
<polygon fill="#00fd6d" points="871,162 153,162 153,479.9 157.5,479.7 162,479.9 166.5,480.1 171,480 175.5,480 180,479.9 184.5,479.4 189,479.9 193.5,480.7 198,481.4 202.5,481.8 207,482 211.5,481.5 216,481.2 220.5,480.2 225,479.3 229.5,480 234,480.6 238.5,480.8 243,480.7 247.5,480.3 252,479.8 256.5,479.4 261,479.2 265.5,479.7 270,481.2 274.5,482.3 279,483.4 283.5,483.7 288,483.3 292.5,482 297,479.5 301.5,479.2 306,479.2 310.5,480.1 315,479.2 319.5,479.2 324,478.7 328.5,478.3 333,476.5 337.5,476.8 342,476.2 346.5,475.8 351,476.1 355.5,476.3 360,475.8 364.5,476.4 369,477.6 373.5,478.2 378,478.8 382.5,478.5 387,477.6 391.5,476.6 396,477 400.5,478.1 405,479.4 409.5,480 414,480.5 418.5,480.8 423,481.2 427.5,482.1 430,482.5 432.6,482.7 435.2,482.7 437.8,482.4 440.4,482.2 443,481.4 445.6,480.6 448.2,480.7 450.8,480.1 453.4,478.6 456,478.3 458.6,478.3 461.2,478 463.8,477.1 466.4,475.7 469,475.6 471.6,476.6 474.2,477.1 476.8,477.7 479.4,478.2 482,477.5 484.6,476.3 487.2,475.3 489.8,475 492.4,475.1 495,473.9 497.6,472.7 500.2,476.4 502.8,478.3 505.4,479.2 508,479.3 510.6,479.2 513.2,479.3 515.8,479.2 518.4,478.9 521,480 523.6,480.6 526.2,480.1 528.8,479.6 531.4,478.9 534,478.7 536.6,478.3 539.2,477.7 541.8,477.6 544.4,477.9 547,477.2 549.6,477.2 552.2,478.2 554.8,478.1 557.4,477.7 560,478.1 562.6,477.6 565.2,476.6 567.8,476 570.4,475.7 573,475.7 575.6,476.2 578.2,476.6 580.8,476.8 583.4,476.7 586,476.9 588.6,477.1 591.2,477.7 593.8,476.6 596.4,475.6 599,475.8 601.6,476.4 604.2,476.6 606.8,477.3 609.4,477.9 612,477.7 614.6,477.9 617.2,478.1 619.8,478.4 622.4,478.8 625,479.1 627.6,478.8 630.2,478.3 632.8,477.7 635.4,477.5 638,477.8 640.6,477.4 643.2,476.8 645.8,476.8 648.4,476.7 651,476.7 653.6,477.5 656.2,478.7 658.8,478.4 661.4,478 664,477.4 666.6,476.7 669.2,476.1 671.8,481.4 674.4,483.2 677,480.8 679.6,480.2 682.2,479.7 684.8,479.5 687.4,479.5 690,479.7 692.6,479.5 695.2,479.2 697.8,479.3 700.4,479.7 702,480.1 706.5,480.6 711,480.4 715.5,478.6 720,479.5 724.5,482.1 729,483.9 733.5,482.5 738,481.5 742.5,479.9 747,480.3 751.5,480.6 756,480.7 760.5,480.3 765,478.9 769.5,478.9 774,479 778.5,479.2 783,479.3 787.5,479.5 792,480.1 796.5,480.6 801,480.9 805.5,480.9 810,480.9 814.5,481.4 819,481.1 823.5,480.6 828,479.6 832.5,479.7 837,480 841.5,479.6 846,480.1 850.5,480.1 855,480.1 859.5,480.8 864,481.7 868.5,482.1 871,482.4"/>
<polygon fill="#00fb5a" points="871,162 153,162 153,478.9 157.5,478.8 162,479 166.5,479.2 171,479.1 175.5,479.1 180,479.1 184.5,478.4 189,478.9 193.5,479.6 198,480.4 202.5,480.8 207,481.1 211.5,480.6 216,480.3 220.5,479.2 225,478.3 229.5,479 234,479.5 238.5,479.8 243,479.7 247.5,479.4 252,478.9 256.5,478.5 261,478.4 265.5,478.9 270,480.4 274.5,481.5 279,482.5 283.5,482.8 288,482.4 292.5,481.1 297,478.7 301.5,478.4 306,478.3 310.5,479.2 315,478.4 319.5,478.3 324,477.8 328.5,477.5 333,475.7 337.5,476 342,475.4 346.5,475 351,475.2 355.5,475.1 360,474.5 364.5,475.1 369,476.5 373.5,477.1 378,477.7 382.5,477.5 387,476.6 391.5,475.7 396,476.1 400.5,477.2 405,478.4 409.5,479.1 414,479.5 418.5,479.9 423,480.3 427.5,481.2 430,481.6 432.6,481.8 435.2,481.7 437.8,481.3 440.4,481.1 443,480.2 445.6,479.4 448.2,479.5 450.8,478.9 453.4,477.6 456,477.3 458.6,477.4 461.2,477.1 463.8,476.3 466.4,474.9 469,474.6 471.6,475.6 474.2,476.1 476.8,476.6 479.4,477.1 482,476.5 484.6,475.4 487.2,474.4 489.8,474 492.4,474.1 495,472.9 497.6,471.9 500.2,475.3 502.8,477.2 505.4,478 508,478.2 510.6,478.2 513.2,478.3 515.8,478.1 518.4,477.9 521,479 523.6,479.5 526.2,479 528.8,478.4 531.4,477.7 534,477.5 536.6,477.1 539.2,476.5 541.8,476.5 544.4,476.8 547,476.3 549.6,476.3 552.2,477.3 554.8,477.1 557.4,476.8 560,477.2 562.6,476.8 565.2,475.8 567.8,475.2 570.4,474.9 573,474.8 575.6,475.2 578.2,475.6 580.8,475.7 583.4,475.7 586,475.9 588.6,476.1 591.2,476.7 593.8,475.7 596.4,474.7 599,474.9 601.6,475.5 604.2,475.7 606.8,476.3 609.4,476.9 612,476.8 614.6,476.9 617.2,477.1 619.8,477.4 622.4,477.7 625,478 627.6,477.7 630.2,477.2 632.8,476.8 635.4,476.5 638,476.8 640.6,476.4 643.2,475.8 645.8,475.8 648.4,475.7 651,475.7 653.6,476.5 656.2,477.7 658.8,477.5 661.4,477.1 664,476.5 666.6,475.8 669.2,475.3 671.8,480.3 674.4,482 677,479.7 679.6,479.2 682.2,478.7 684.8,478.5 687.4,478.4 690,478.7 692.6,478.5 695.2,478.2 697.8,478.3 700.4,478.7 702,479.1 706.5,479.6 711,479.4 715.5,477.6 720,478.5 724.5,481.1 729,482.8 733.5,481.4 738,480.4 742.5,479 747,479.3 751.5,479.6 756,479.7 760.5,479.3 765,478.1 769.5,478 774,478.1 778.5,478.3 783,478.4 787.5,478.6 792,479.2 796.5,479.7 801,479.9 805.5,479.9 810,479.9 814.5,480.4 819,480.1 823.5,479.7 828,478.8 832.5,478.8 837,479 841.5,478.7 846,479.1 850.5,479.2 855,479.1 859.5,479.8 864,480.7 868.5,481.1 871,481.4"/>
<polygon fill="#00fa48" points="871,162 153,162 153,478 157.5,477.8 162,478 166.5,478.3 171,478.2 175.5,478.2 180,478.2 184.5,477.4 189,477.8 193.5,478.6 198,479.3 202.5,479.7 207,480.1 211.5,479.7 216,479.4 220.5,478.3 225,477.3 229.5,477.9 234,478.5 238.5,478.8 243,478.8 247.5,478.5 252,478 256.5,477.6 261,477.6 265.5,478.1 270,479.6 274.5,480.6 279,481.5 283.5,481.8 288,481.4 292.5,480.2 297,477.9 301.5,477.5 306,477.5 310.5,478.2 315,477.5 319.5,477.4 324,477 328.5,476.6 333,475 337.5,475.2 342,474.6 346.5,474.1 351,474.2 355.5,473.9 360,473.3 364.5,473.9 369,475.3 373.5,475.9 378,476.6 382.5,476.4 387,475.6 391.5,474.8 396,475.2 400.5,476.3 405,477.5 409.5,478.1 414,478.6 418.5,478.9 423,479.4 427.5,480.3 430,480.6 432.6,480.8 435.2,480.8 437.8,480.2 440.4,479.9 443,479.1 445.6,478.3 448.2,478.3 450.8,477.8 453.4,476.5 456,476.3 458.6,476.4 461.2,476.1 463.8,475.4 466.4,474.1 469,473.7 471.6,474.5 474.2,475 476.8,475.6 479.4,476.1 482,475.5 484.6,474.4 487.2,473.4 489.8,473 492.4,473.1 495,472 497.6,471 500.2,474.3 502.8,476 505.4,476.9 508,477.1 510.6,477.1 513.2,477.2 515.8,477 518.4,476.8 521,477.9 523.6,478.4 526.2,477.9 528.8,477.3 531.4,476.5 534,476.3 536.6,475.9 539.2,475.4 541.8,475.5 544.4,475.8 547,475.4 549.6,475.4 552.2,476.3 554.8,476.2 557.4,475.9 560,476.2 562.6,475.9 565.2,475 567.8,474.4 570.4,474.1 573,474 575.6,474.3 578.2,474.6 580.8,474.7 583.4,474.7 586,474.9 588.6,475.1 591.2,475.7 593.8,474.8 596.4,473.8 599,473.9 601.6,474.5 604.2,474.8 606.8,475.4 609.4,475.9 612,475.8 614.6,475.9 617.2,476.1 619.8,476.3 622.4,476.6 625,476.9 627.6,476.7 630.2,476.2 632.8,475.8 635.4,475.6 638,475.9 640.6,475.5 643.2,474.8 645.8,474.8 648.4,474.7 651,474.8 653.6,475.5 656.2,476.7 658.8,476.6 661.4,476.1 664,475.6 666.6,474.9 669.2,474.5 671.8,479.2 674.4,480.8 677,478.6 679.6,478.1 682.2,477.7 684.8,477.5 687.4,477.4 690,477.7 692.6,477.5 695.2,477.2 697.8,477.3 700.4,477.8 702,478.1 706.5,478.6 711,478.4 715.5,476.7 720,477.6 724.5,480 729,481.7 733.5,480.4 738,479.4 742.5,478 747,478.3 751.5,478.6 756,478.7 760.5,478.4 765,477.2 769.5,477.2 774,477.2 778.5,477.4 783,477.5 787.5,477.7 792,478.3 796.5,478.8 801,479 805.5,478.9 810,478.9 814.5,479.4 819,479.1 823.5,478.8 828,477.9 832.5,477.9 837,478.1 841.5,477.7 846,478.1 850.5,478.2 855,478.2 859.5,478.9 864,479.7 868.5,480.1 871,480.4"/>
<polygon fill="#00f935" points="871,162 153,162 153,477 157.5,476.9 162,477.1 166.5,477.3 171,477.3 175.5,477.3 180,477.4 184.5,476.4 189,476.7 193.5,477.5 198,478.2 202.5,478.7 207,479.1 211.5,478.8 216,478.5 220.5,477.3 225,476.2 229.5,476.9 234,477.5 238.5,477.8 243,477.8 247.5,477.6 252,477.1 256.5,476.8 261,476.7 265.5,477.4 270,478.8 274.5,479.7 279,480.6 283.5,480.9 288,480.5 292.5,479.2 297,477 301.5,476.7 306,476.6 310.5,477.3 315,476.6 319.5,476.5 324,476.1 328.5,475.8 333,474.2 337.5,474.4 342,473.7 346.5,473.3 351,473.3 355.5,472.7 360,472 364.5,472.6 369,474.2 373.5,474.8 378,475.5 382.5,475.4 387,474.7 391.5,473.9 396,474.3 400.5,475.4 405,476.5 409.5,477.2 414,477.6 418.5,478 423,478.5 427.5,479.4 430,479.7 432.6,479.9 435.2,479.8 437.8,479.2 440.4,478.8 443,477.9 445.6,477.1 448.2,477.2 450.8,476.7 453.4,475.5 456,475.3 458.6,475.4 461.2,475.2 463.8,474.5 466.4,473.2 469,472.8 471.6,473.5 474.2,474 476.8,474.5 479.4,475 482,474.4 484.6,473.4 487.2,472.4 489.8,472 492.4,472 495,471 497.6,470.1 500.2,473.2 502.8,474.9 505.4,475.8 508,476 510.6,476 513.2,476.1 515.8,475.9 518.4,475.8 521,476.9 523.6,477.3 526.2,476.8 528.8,476.1 531.4,475.4 534,475.1 536.6,474.7 539.2,474.3 541.8,474.4 544.4,474.8 547,474.4 549.6,474.6 552.2,475.4 554.8,475.2 557.4,475 560,475.3 562.6,475 565.2,474.2 567.8,473.6 570.4,473.3 573,473.1 575.6,473.4 578.2,473.6 580.8,473.7 583.4,473.7 586,473.9 588.6,474.1 591.2,474.7 593.8,473.8 596.4,472.8 599,473 601.6,473.6 604.2,473.8 606.8,474.4 609.4,474.9 612,474.8 614.6,475 617.2,475.1 619.8,475.3 622.4,475.6 625,475.8 627.6,475.6 630.2,475.2 632.8,474.8 635.4,474.7 638,474.9 640.6,474.5 643.2,473.8 645.8,473.9 648.4,473.8 651,473.8 653.6,474.5 656.2,475.7 658.8,475.6 661.4,475.2 664,474.7 666.6,474.1 669.2,473.7 671.8,478.1 674.4,479.6 677,477.6 679.6,477.1 682.2,476.7 684.8,476.5 687.4,476.4 690,476.6 692.6,476.5 695.2,476.3 697.8,476.3 700.4,476.8 702,477.1 706.5,477.6 711,477.4 715.5,475.8 720,476.6 724.5,479 729,480.6 733.5,479.3 738,478.4 742.5,477.1 747,477.3 751.5,477.6 756,477.6 760.5,477.4 765,476.4 769.5,476.3 774,476.3 778.5,476.5 783,476.7 787.5,476.8 792,477.4 796.5,477.9 801,478 805.5,477.9 810,477.9 814.5,478.4 819,478.2 823.5,477.8 828,477.1 832.5,477.1 837,477.2 841.5,476.8 846,477.2 850.5,477.2 855,477.2 859.5,477.9 864,478.7 868.5,479.1 871,479.3"/>
<polygon fill="#03f825" points="871,162 153,162 153,476.1 157.5,475.9 162,476.1 166.5,476.4 171,476.4 175.5,476.4 180,476.5 184.5,475.4 189,475.7 193.5,476.4 198,477.2 202.5,477.7 207,478.1 211.5,477.9 216,477.6 220.5,476.4 225,475.2 229.5,475.9 234,476.5 238.5,476.8 243,476.9 247.5,476.7 252,476.3 256.5,475.9 261,475.9 265.5,476.6 270,478 274.5,478.9 279,479.7 283.5,480 288,479.5 292.5,478.3 297,476.2 301.5,475.8 306,475.7 310.5,476.4 315,475.7 319.5,475.6 324,475.2 328.5,474.9 333,473.4 337.5,473.6 342,472.9 346.5,472.5 351,472.4 355.5,471.5 360,470.7 364.5,471.4 369,473 373.5,473.7 378,474.4 382.5,474.3 387,473.7 391.5,473 396,473.5 400.5,474.5 405,475.6 409.5,476.2 414,476.7 418.5,477.1 423,477.6 427.5,478.4 430,478.8 432.6,479 435.2,478.8 437.8,478.1 440.4,477.6 443,476.7 445.6,475.9 448.2,476 450.8,475.5 453.4,474.4 456,474.3 458.6,474.4 461.2,474.2 463.8,473.6 466.4,472.4 469,471.9 471.6,472.5 474.2,472.9 476.8,473.5 479.4,473.9 482,473.4 484.6,472.4 487.2,471.4 489.8,471 492.4,471 495,470.1 497.6,469.2 500.2,472.2 502.8,473.8 505.4,474.7 508,474.9 510.6,474.9 513.2,475 515.8,474.8 518.4,474.8 521,475.8 523.6,476.2 526.2,475.7 528.8,475 531.4,474.2 534,473.9 536.6,473.6 539.2,473.2 541.8,473.3 544.4,473.8 547,473.5 549.6,473.7 552.2,474.4 554.8,474.3 557.4,474 560,474.4 562.6,474.1 565.2,473.4 567.8,472.9 570.4,472.5 573,472.3 575.6,472.4 578.2,472.6 580.8,472.6 583.4,472.6 586,472.9 588.6,473.1 591.2,473.7 593.8,472.9 596.4,471.9 599,472 601.6,472.6 604.2,472.9 606.8,473.4 609.4,473.9 612,473.8 614.6,474 617.2,474.1 619.8,474.2 622.4,474.5 625,474.7 627.6,474.5 630.2,474.2 632.8,473.8 635.4,473.7 638,474 640.6,473.5 643.2,472.8 645.8,472.9 648.4,472.8 651,472.8 653.6,473.6 656.2,474.7 658.8,474.7 661.4,474.3 664,473.7 666.6,473.2 669.2,472.8 671.8,477 674.4,478.4 677,476.5 679.6,476.1 682.2,475.7 684.8,475.5 687.4,475.4 690,475.6 692.6,475.5 695.2,475.3 697.8,475.4 700.4,475.8 702,476.1 706.5,476.6 711,476.4 715.5,474.8 720,475.7 724.5,478 729,479.5 733.5,478.3 738,477.4 742.5,476.1 747,476.4 751.5,476.6 756,476.6 760.5,476.5 765,475.6 769.5,475.5 774,475.4 778.5,475.6 783,475.8 787.5,475.9 792,476.6 796.5,476.9 801,477.1 805.5,477 810,476.9 814.5,477.4 819,477.2 823.5,476.9 828,476.2 832.5,476.2 837,476.3 841.5,475.9 846,476.2 850.5,476.2 855,476.3 859.5,476.9 864,477.7 868.5,478.1 871,478.3"/>
<polygon fill="#0cf819" points="871,162 153,162 153,475.1 157.5,475 162,475.2 166.5,475.4 171,475.5 175.5,475.5 180,475.6 184.5,474.4 189,474.6 193.5,475.3 198,476.1 202.5,476.7 207,477.2 211.5,476.9 216,476.7 220.5,475.4 225,474.2 229.5,474.8 234,475.4 238.5,475.8 243,475.9 247.5,475.8 252,475.4 256.5,475 261,475.1 265.5,475.8 270,477.2 274.5,478 279,478.8 283.5,479 288,478.6 292.5,477.4 297,475.4 301.5,474.9 306,474.9 310.5,475.5 315,474.8 319.5,474.7 324,474.3 328.5,474.1 333,472.6 337.5,472.7 342,472.1 346.5,471.6 351,471.4 355.5,470.3 360,469.4 364.5,470.1 369,471.9 373.5,472.5 378,473.3 382.5,473.3 387,472.7 391.5,472.1 396,472.6 400.5,473.6 405,474.7 409.5,475.3 414,475.8 418.5,476.2 423,476.7 427.5,477.5 430,477.8 432.6,478 435.2,477.9 437.8,477 440.4,476.5 443,475.6 445.6,474.7 448.2,474.8 450.8,474.4 453.4,473.4 456,473.3 458.6,473.4 461.2,473.3 463.8,472.7 466.4,471.6 469,471 471.6,471.5 474.2,471.9 476.8,472.4 479.4,472.9 482,472.4 484.6,471.4 487.2,470.4 489.8,470 492.4,470 495,469.2 497.6,468.3 500.2,471.1 502.8,472.7 505.4,473.5 508,473.8 510.6,473.9 513.2,473.9 515.8,473.7 518.4,473.7 521,474.8 523.6,475.2 526.2,474.6 528.8,473.9 531.4,473 534,472.7 536.6,472.4 539.2,472 541.8,472.2 544.4,472.7 547,472.6 549.6,472.8 552.2,473.5 554.8,473.3 557.4,473.1 560,473.4 562.6,473.2 565.2,472.6 567.8,472.1 570.4,471.7 573,471.4 575.6,471.5 578.2,471.6 580.8,471.6 583.4,471.6 586,471.9 588.6,472.1 591.2,472.7 593.8,471.9 596.4,471 599,471.1 601.6,471.7 604.2,472 606.8,472.4 609.4,472.9 612,472.8 614.6,473 617.2,473.1 619.8,473.2 622.4,473.4 625,473.6 627.6,473.5 630.2,473.2 632.8,472.9 635.4,472.8 638,473 640.6,472.5 643.2,471.8 645.8,471.9 648.4,471.8 651,471.9 653.6,472.6 656.2,473.7 658.8,473.7 661.4,473.3 664,472.8 666.6,472.3 669.2,472 671.8,475.9 674.4,477.3 677,475.5 679.6,475.1 682.2,474.7 684.8,474.4 687.4,474.4 690,474.6 692.6,474.5 695.2,474.3 697.8,474.4 700.4,474.8 702,475.2 706.5,475.6 711,475.4 715.5,473.9 720,474.7 724.5,476.9 729,478.3 733.5,477.2 738,476.4 742.5,475.2 747,475.4 751.5,475.6 756,475.6 760.5,475.6 765,474.8 769.5,474.6 774,474.5 778.5,474.7 783,474.9 787.5,475.1 792,475.7 796.5,476 801,476.1 805.5,476 810,475.9 814.5,476.4 819,476.3 823.5,476 828,475.4 832.5,475.3 837,475.4 841.5,475 846,475.2 850.5,475.3 855,475.4 859.5,476 864,476.7 868.5,477 871,477.3"/>
<polygon fill="#15f80d" points="871,162 153,162 153,474.2 157.5,474 162,474.2 166.5,474.5 171,474.6 175.5,474.6 180,474.8 184.5,473.4 189,473.5 193.5,474.3 198,475.1 202.5,475.7 207,476.2 211.5,476 216,475.8 220.5,474.5 225,473.1 229.5,473.8 234,474.4 238.5,474.8 243,475 247.5,474.9 252,474.5 256.5,474.1 261,474.2 265.5,475 270,476.4 274.5,477.1 279,477.9 283.5,478.1 288,477.7 292.5,476.5 297,474.6 301.5,474.1 306,474 310.5,474.6 315,474 319.5,473.9 324,473.5 328.5,473.2 333,471.9 337.5,471.9 342,471.3 346.5,470.8 351,470.5 355.5,469.1 360,468.1 364.5,468.8 369,470.7 373.5,471.4 378,472.2 382.5,472.2 387,471.7 391.5,471.2 396,471.7 400.5,472.7 405,473.7 409.5,474.3 414,474.8 418.5,475.2 423,475.8 427.5,476.6 430,476.9 432.6,477.1 435.2,476.9 437.8,476 440.4,475.3 443,474.4 445.6,473.6 448.2,473.6 450.8,473.3 453.4,472.3 456,472.3 458.6,472.4 461.2,472.3 463.8,471.8 466.4,470.7 469,470 471.6,470.5 474.2,470.9 476.8,471.3 479.4,471.8 482,471.4 484.6,470.4 487.2,469.4 489.8,469 492.4,469 495,468.2 497.6,467.4 500.2,470.1 502.8,471.6 505.4,472.4 508,472.7 510.6,472.8 513.2,472.8 515.8,472.6 518.4,472.7 521,473.7 523.6,474.1 526.2,473.5 528.8,472.7 531.4,471.9 534,471.5 536.6,471.2 539.2,470.9 541.8,471.2 544.4,471.7 547,471.7 549.6,471.9 552.2,472.5 554.8,472.3 557.4,472.2 560,472.5 562.6,472.4 565.2,471.7 567.8,471.3 570.4,470.8 573,470.5 575.6,470.5 578.2,470.6 580.8,470.6 583.4,470.6 586,470.8 588.6,471.1 591.2,471.6 593.8,471 596.4,470.1 599,470.1 601.6,470.8 604.2,471.1 606.8,471.5 609.4,471.8 612,471.9 614.6,472.1 617.2,472.1 619.8,472.2 622.4,472.3 625,472.5 627.6,472.4 630.2,472.2 632.8,471.9 635.4,471.8 638,472 640.6,471.5 643.2,470.8 645.8,470.9 648.4,470.8 651,470.9 653.6,471.6 656.2,472.7 658.8,472.8 661.4,472.4 664,471.9 666.6,471.5 669.2,471.2 671.8,474.8 674.4,476.1 677,474.4 679.6,474.1 682.2,473.8 684.8,473.4 687.4,473.3 690,473.6 692.6,473.5 695.2,473.3 697.8,473.4 700.4,473.9 702,474.2 706.5,474.6 711,474.3 715.5,472.9 720,473.8 724.5,475.9 729,477.2 733.5,476.2 738,475.4 742.5,474.2 747,474.4 751.5,474.5 756,474.6 760.5,474.6 765,473.9 769.5,473.7 774,473.6 778.5,473.8 783,474 787.5,474.2 792,474.8 796.5,475.1 801,475.1 805.5,475 810,474.9 814.5,475.4 819,475.3 823.5,475.1 828,474.5 832.5,474.4 837,474.5 841.5,474.1 846,474.3 850.5,474.3 855,474.4 859.5,475 864,475.7 868.5,476 871,476.3"/>
<polygon fill="#1ef802" points="871,162 153,162 153,473.2 157.5,473.1 162,473.3 166.5,473.5 171,473.7 175.5,473.7 180,473.9 184.5,472.4 189,472.4 193.5,473.2 198,474 202.5,474.7 207,475.2 211.5,475.1 216,475 220.5,473.5 225,472.1 229.5,472.8 234,473.4 238.5,473.8 243,474 247.5,474 252,473.6 256.5,473.3 261,473.4 265.5,474.2 270,475.6 274.5,476.3 279,477 283.5,477.2 288,476.7 292.5,475.6 297,473.7 301.5,473.2 306,473.2 310.5,473.7 315,473.1 319.5,473 324,472.6 328.5,472.4 333,471.1 337.5,471.1 342,470.5 346.5,470 351,469.6 355.5,467.9 360,466.8 364.5,467.6 369,469.6 373.5,470.3 378,471.1 382.5,471.1 387,470.7 391.5,470.3 396,470.8 400.5,471.8 405,472.8 409.5,473.4 414,473.9 418.5,474.3 423,474.8 427.5,475.6 430,476 432.6,476.1 435.2,475.9 437.8,474.9 440.4,474.2 443,473.2 445.6,472.4 448.2,472.5 450.8,472.1 453.4,471.3 456,471.3 458.6,471.4 461.2,471.4 463.8,470.9 466.4,469.9 469,469.1 471.6,469.4 474.2,469.8 476.8,470.3 479.4,470.7 482,470.4 484.6,469.5 487.2,468.5 489.8,468 492.4,468 495,467.3 497.6,466.5 500.2,469 502.8,470.5 505.4,471.3 508,471.6 510.6,471.7 513.2,471.7 515.8,471.5 518.4,471.6 521,472.7 523.6,473 526.2,472.4 528.8,471.6 531.4,470.7 534,470.4 536.6,470 539.2,469.8 541.8,470.1 544.4,470.7 547,470.7 549.6,471.1 552.2,471.6 554.8,471.4 557.4,471.3 560,471.6 562.6,471.5 565.2,470.9 567.8,470.5 570.4,470 573,469.7 575.6,469.6 578.2,469.6 580.8,469.6 583.4,469.6 586,469.8 588.6,470.1 591.2,470.6 593.8,470 596.4,469.1 599,469.2 601.6,469.8 604.2,470.2 606.8,470.5 609.4,470.8 612,470.9 614.6,471.1 617.2,471.1 619.8,471.1 622.4,471.3 625,471.4 627.6,471.3 630.2,471.1 632.8,470.9 635.4,470.9 638,471.1 640.6,470.5 643.2,469.8 645.8,469.9 648.4,469.9 651,470 653.6,470.6 656.2,471.6 658.8,471.8 661.4,471.5 664,471 666.6,470.6 669.2,470.4 671.8,473.8 674.4,474.9 677,473.4 679.6,473.1 682.2,472.8 684.8,472.4 687.4,472.3 690,472.6 692.6,472.5 695.2,472.4 697.8,472.5 700.4,472.9 702,473.2 706.5,473.6 711,473.3 715.5,472 720,472.8 724.5,474.8 729,476.1 733.5,475.1 738,474.4 742.5,473.3 747,473.5 751.5,473.5 756,473.6 760.5,473.7 765,473.1 769.5,472.9 774,472.7 778.5,472.9 783,473.1 787.5,473.3 792,473.9 796.5,474.2 801,474.2 805.5,474 810,473.9 814.5,474.4 819,474.3 823.5,474.2 828,473.7 832.5,473.5 837,473.5 841.5,473.1 846,473.3 850.5,473.3 855,473.5 859.5,474.1 864,474.7 868.5,475 871,475.2"/>
<polygon fill="#2cf900" points="871,162 153,162 153,472.3 157.5,472.1 162,472.3 166.5,472.6 171,472.8 175.5,472.9 180,473 184.5,471.3 189,471.4 193.5,472.1 198,472.9 202.5,473.7 207,474.3 211.5,474.2 216,474.1 220.5,472.6 225,471.1 229.5,471.7 234,472.4 238.5,472.8 243,473.1 247.5,473.1 252,472.7 256.5,472.4 261,472.6 265.5,473.4 270,474.8 274.5,475.4 279,476.1 283.5,476.3 288,475.8 292.5,474.7 297,472.9 301.5,472.4 306,472.3 310.5,472.8 315,472.2 319.5,472.1 324,471.7 328.5,471.5 333,470.3 337.5,470.3 342,469.7 346.5,469.1 351,468.6 355.5,466.6 360,465.6 364.5,466.3 369,468.4 373.5,469.2 378,470 382.5,470.1 387,469.7 391.5,469.4 396,469.9 400.5,470.9 405,471.8 409.5,472.4 414,472.9 418.5,473.4 423,473.9 427.5,474.7 430,475 432.6,475.2 435.2,474.9 437.8,473.8 440.4,473 443,472 445.6,471.2 448.2,471.3 450.8,471 453.4,470.3 456,470.2 458.6,470.5 461.2,470.5 463.8,470 466.4,469.1 469,468.2 471.6,468.4 474.2,468.8 476.8,469.2 479.4,469.6 482,469.3 484.6,468.5 487.2,467.5 489.8,467 492.4,467 495,466.3 497.6,465.6 500.2,468 502.8,469.4 505.4,470.2 508,470.5 510.6,470.6 513.2,470.6 515.8,470.4 518.4,470.6 521,471.6 523.6,471.9 526.2,471.2 528.8,470.4 531.4,469.5 534,469.2 536.6,468.8 539.2,468.6 541.8,469 544.4,469.7 547,469.8 549.6,470.2 552.2,470.6 554.8,470.4 557.4,470.3 560,470.7 562.6,470.6 565.2,470.1 567.8,469.7 570.4,469.2 573,468.8 575.6,468.7 578.2,468.6 580.8,468.5 583.4,468.5 586,468.8 588.6,469.1 591.2,469.6 593.8,469.1 596.4,468.2 599,468.3 601.6,468.9 604.2,469.2 606.8,469.5 609.4,469.8 612,469.9 614.6,470.1 617.2,470.1 619.8,470.1 622.4,470.2 625,470.4 627.6,470.3 630.2,470.1 632.8,469.9 635.4,470 638,470.1 640.6,469.5 643.2,468.8 645.8,468.9 648.4,468.9 651,469 653.6,469.6 656.2,470.6 658.8,470.9 661.4,470.6 664,470.1 666.6,469.7 669.2,469.5 671.8,472.7 674.4,473.7 677,472.3 679.6,472 682.2,471.8 684.8,471.4 687.4,471.3 690,471.5 692.6,471.5 695.2,471.4 697.8,471.5 700.4,471.9 702,472.2 706.5,472.6 711,472.3 715.5,471.1 720,471.8 724.5,473.8 729,475 733.5,474.1 738,473.4 742.5,472.3 747,472.5 751.5,472.5 756,472.6 760.5,472.7 765,472.3 769.5,472 774,471.8 778.5,472 783,472.2 787.5,472.4 792,473 796.5,473.2 801,473.2 805.5,473 810,472.9 814.5,473.4 819,473.4 823.5,473.3 828,472.8 832.5,472.7 837,472.6 841.5,472.2 846,472.4 850.5,472.3 855,472.5 859.5,473.1 864,473.7 868.5,474 871,474.2"/>
<polygon fill="#3afb00" points="871,162 153,162 153,471.4 157.5,471.2 162,471.3 166.5,471.7 171,471.8 175.5,472 180,472.2 184.5,470.3 189,470.3 193.5,471.1 198,471.9 202.5,472.6 207,473.3 211.5,473.3 216,473.2 220.5,471.6 225,470 229.5,470.7 234,471.4 238.5,471.8 243,472.1 247.5,472.2 252,471.8 256.5,471.5 261,471.8 265.5,472.6 270,474 274.5,474.5 279,475.2 283.5,475.3 288,474.8 292.5,473.8 297,472.1 301.5,471.5 306,471.4 310.5,471.9 315,471.3 319.5,471.2 324,470.8 328.5,470.7 333,469.6 337.5,469.5 342,468.9 346.5,468.3 351,467.7 355.5,465.4 360,464.3 364.5,465.1 369,467.2 373.5,468 378,468.9 382.5,469 387,468.8 391.5,468.5 396,469 400.5,470 405,470.9 409.5,471.5 414,472 418.5,472.5 423,473 427.5,473.8 430,474.1 432.6,474.2 435.2,474 437.8,472.8 440.4,471.9 443,470.9 445.6,470 448.2,470.1 450.8,469.9 453.4,469.2 456,469.2 458.6,469.5 461.2,469.5 463.8,469.2 466.4,468.2 469,467.3 471.6,467.4 474.2,467.7 476.8,468.1 479.4,468.6 482,468.3 484.6,467.5 487.2,466.5 489.8,466 492.4,466 495,465.4 497.6,464.7 500.2,467 502.8,468.3 505.4,469.1 508,469.4 510.6,469.6 513.2,469.5 515.8,469.3 518.4,469.5 521,470.6 523.6,470.8 526.2,470.1 528.8,469.3 531.4,468.4 534,468 536.6,467.7 539.2,467.5 541.8,467.9 544.4,468.7 547,468.9 549.6,469.3 552.2,469.7 554.8,469.5 557.4,469.4 560,469.7 562.6,469.7 565.2,469.3 567.8,468.9 570.4,468.4 573,468 575.6,467.7 578.2,467.6 580.8,467.5 583.4,467.5 586,467.8 588.6,468.1 591.2,468.6 593.8,468.1 596.4,467.3 599,467.3 601.6,467.9 604.2,468.3 606.8,468.6 609.4,468.8 612,468.9 614.6,469.2 617.2,469.1 619.8,469 622.4,469.1 625,469.3 627.6,469.2 630.2,469.1 632.8,469 635.4,469 638,469.1 640.6,468.5 643.2,467.8 645.8,467.9 648.4,467.9 651,468 653.6,468.6 656.2,469.6 658.8,470 661.4,469.6 664,469.2 666.6,468.9 669.2,468.7 671.8,471.6 674.4,472.5 677,471.2 679.6,471 682.2,470.8 684.8,470.4 687.4,470.3 690,470.5 692.6,470.5 695.2,470.4 697.8,470.5 700.4,470.9 702,471.2 706.5,471.6 711,471.3 715.5,470.1 720,470.9 724.5,472.8 729,473.9 733.5,473.1 738,472.4 742.5,471.4 747,471.5 751.5,471.5 756,471.6 760.5,471.8 765,471.5 769.5,471.2 774,470.9 778.5,471.1 783,471.3 787.5,471.5 792,472.1 796.5,472.3 801,472.3 805.5,472.1 810,471.9 814.5,472.4 819,472.4 823.5,472.4 828,471.9 832.5,471.8 837,471.7 841.5,471.3 846,471.4 850.5,471.4 855,471.6 859.5,472.2 864,472.7 868.5,473 871,473.2"/>
<polygon fill="#48fd00" points="871,162 153,162 153,470.4 157.5,470.2 162,470.4 166.5,470.7 171,470.9 175.5,471.1 180,471.3 184.5,469.3 189,469.2 193.5,470 198,470.8 202.5,471.6 207,472.3 211.5,472.4 216,472.3 220.5,470.7 225,469 229.5,469.7 234,470.3 238.5,470.8 243,471.2 247.5,471.3 252,470.9 256.5,470.7 261,470.9 265.5,471.9 270,473.2 274.5,473.7 279,474.3 283.5,474.4 288,473.9 292.5,472.8 297,471.2 301.5,470.6 306,470.6 310.5,471 315,470.4 319.5,470.3 324,470 328.5,469.8 333,468.8 337.5,468.7 342,468 346.5,467.5 351,466.8 355.5,464.2 360,463 364.5,463.8 369,466.1 373.5,466.9 378,467.8 382.5,468 387,467.8 391.5,467.6 396,468.2 400.5,469.1 405,469.9 409.5,470.5 414,471.1 418.5,471.5 423,472.1 427.5,472.9 430,473.2 432.6,473.3 435.2,473 437.8,471.7 440.4,470.7 443,469.7 445.6,468.8 448.2,469 450.8,468.7 453.4,468.2 456,468.2 458.6,468.5 461.2,468.6 463.8,468.3 466.4,467.4 469,466.4 471.6,466.4 474.2,466.7 476.8,467.1 479.4,467.5 482,467.3 484.6,466.5 487.2,465.5 489.8,465 492.4,465 495,464.4 497.6,463.9 500.2,465.9 502.8,467.1 505.4,467.9 508,468.3 510.6,468.5 513.2,468.4 515.8,468.1 518.4,468.5 521,469.5 523.6,469.8 526.2,469 528.8,468.2 531.4,467.2 534,466.8 536.6,466.5 539.2,466.4 541.8,466.9 544.4,467.6 547,468 549.6,468.4 552.2,468.7 554.8,468.5 557.4,468.5 560,468.8 562.6,468.8 565.2,468.5 567.8,468.1 570.4,467.6 573,467.1 575.6,466.8 578.2,466.6 580.8,466.5 583.4,466.5 586,466.8 588.6,467.2 591.2,467.6 593.8,467.2 596.4,466.4 599,466.4 601.6,467 604.2,467.4 606.8,467.6 609.4,467.8 612,467.9 614.6,468.2 617.2,468.1 619.8,468 622.4,468.1 625,468.2 627.6,468.2 630.2,468.1 632.8,468 635.4,468.1 638,468.2 640.6,467.5 643.2,466.8 645.8,466.9 648.4,467 651,467.1 653.6,467.6 656.2,468.6 658.8,469 661.4,468.7 664,468.3 666.6,468 669.2,467.9 671.8,470.5 674.4,471.3 677,470.2 679.6,470 682.2,469.8 684.8,469.4 687.4,469.2 690,469.5 692.6,469.5 695.2,469.5 697.8,469.5 700.4,470 702,470.3 706.5,470.6 711,470.3 715.5,469.2 720,469.9 724.5,471.7 729,472.8 733.5,472 738,471.4 742.5,470.4 747,470.5 751.5,470.5 756,470.6 760.5,470.8 765,470.6 769.5,470.3 774,470 778.5,470.2 783,470.4 787.5,470.6 792,471.2 796.5,471.4 801,471.3 805.5,471.1 810,470.9 814.5,471.4 819,471.4 823.5,471.5 828,471.1 832.5,470.9 837,470.8 841.5,470.4 846,470.4 850.5,470.4 855,470.6 859.5,471.2 864,471.7 868.5,471.9 871,472.2"/>
<polygon fill="#56ff00" points="871,162 153,162 153,469.5 157.5,469.3 162,469.4 166.5,469.8 171,470 175.5,470.2 180,470.5 184.5,468.3 189,468.2 193.5,468.9 198,469.8 202.5,470.6 207,471.3 211.5,471.5 216,471.4 220.5,469.8 225,467.9 229.5,468.6 234,469.3 238.5,469.8 243,470.2 247.5,470.4 252,470 256.5,469.8 261,470.1 265.5,471.1 270,472.4 274.5,472.8 279,473.3 283.5,473.5 288,472.9 292.5,471.9 297,470.4 301.5,469.8 306,469.7 310.5,470.1 315,469.6 319.5,469.4 324,469.1 328.5,468.9 333,468 337.5,467.8 342,467.2 346.5,466.6 351,465.8 355.5,463 360,461.7 364.5,462.6 369,464.9 373.5,465.8 378,466.7 382.5,466.9 387,466.8 391.5,466.7 396,467.3 400.5,468.2 405,469 409.5,469.6 414,470.1 418.5,470.6 423,471.2 427.5,471.9 430,472.2 432.6,472.4 435.2,472 437.8,470.6 440.4,469.6 443,468.5 445.6,467.7 448.2,467.8 450.8,467.6 453.4,467.1 456,467.2 458.6,467.5 461.2,467.6 463.8,467.4 466.4,466.6 469,465.4 471.6,465.4 474.2,465.7 476.8,466 479.4,466.4 482,466.3 484.6,465.5 487.2,464.5 489.8,464 492.4,464 495,463.5 497.6,463 500.2,464.9 502.8,466 505.4,466.8 508,467.2 510.6,467.4 513.2,467.3 515.8,467 518.4,467.4 521,468.5 523.6,468.7 526.2,467.9 528.8,467 531.4,466 534,465.6 536.6,465.3 539.2,465.2 541.8,465.8 544.4,466.6 547,467 549.6,467.6 552.2,467.8 554.8,467.6 557.4,467.6 560,467.9 562.6,467.9 565.2,467.7 567.8,467.3 570.4,466.8 573,466.3 575.6,465.9 578.2,465.6 580.8,465.4 583.4,465.5 586,465.8 588.6,466.2 591.2,466.6 593.8,466.2 596.4,465.5 599,465.4 601.6,466.1 604.2,466.5 606.8,466.6 609.4,466.8 612,466.9 614.6,467.2 617.2,467.1 619.8,466.9 622.4,467 625,467.1 627.6,467.1 630.2,467.1 632.8,467 635.4,467.1 638,467.2 640.6,466.5 643.2,465.8 645.8,465.9 648.4,466 651,466.1 653.6,466.6 656.2,467.6 658.8,468.1 661.4,467.8 664,467.4 666.6,467.1 669.2,467.1 671.8,469.4 674.4,470.1 677,469.1 679.6,469 682.2,468.8 684.8,468.4 687.4,468.2 690,468.5 692.6,468.5 695.2,468.5 697.8,468.6 700.4,469 702,469.3 706.5,469.6 711,469.3 715.5,468.2 720,469 724.5,470.7 729,471.7 733.5,471 738,470.4 742.5,469.5 747,469.6 751.5,469.5 756,469.6 760.5,469.9 765,469.8 769.5,469.5 774,469.1 778.5,469.3 783,469.5 787.5,469.7 792,470.3 796.5,470.5 801,470.3 805.5,470.1 810,469.9 814.5,470.4 819,470.5 823.5,470.6 828,470.2 832.5,470 837,469.9 841.5,469.5 846,469.5 850.5,469.4 855,469.7 859.5,470.2 864,470.7 868.5,470.9 871,471.2"/>
<polygon fill="#66ff00" points="871,162 153,162 153,468.5 157.5,468.4 162,468.5 166.5,468.8 171,469.1 175.5,469.3 180,469.6 184.5,467.3 189,467.1 193.5,467.8 198,468.7 202.5,469.6 207,470.4 211.5,470.6 216,470.5 220.5,468.8 225,466.9 229.5,467.6 234,468.3 238.5,468.8 243,469.2 247.5,469.5 252,469.1 256.5,468.9 261,469.3 265.5,470.3 270,471.6 274.5,471.9 279,472.4 283.5,472.5 288,472 292.5,471 297,469.6 301.5,468.9 306,468.8 310.5,469.2 315,468.7 319.5,468.5 324,468.2 328.5,468.1 333,467.2 337.5,467 342,466.4 346.5,465.8 351,464.9 355.5,461.8 360,460.4 364.5,461.3 369,463.8 373.5,464.7 378,465.6 382.5,465.9 387,465.8 391.5,465.8 396,466.4 400.5,467.3 405,468 409.5,468.6 414,469.2 418.5,469.7 423,470.3 427.5,471 430,471.3 432.6,471.4 435.2,471.1 437.8,469.6 440.4,468.4 443,467.4 445.6,466.5 448.2,466.6 450.8,466.5 453.4,466.1 456,466.2 458.6,466.5 461.2,466.7 463.8,466.5 466.4,465.7 469,464.5 471.6,464.3 474.2,464.6 476.8,465 479.4,465.3 482,465.2 484.6,464.5 487.2,463.5 489.8,463 492.4,463 495,462.5 497.6,462.1 500.2,463.8 502.8,464.9 505.4,465.7 508,466.1 510.6,466.3 513.2,466.2 515.8,465.9 518.4,466.4 521,467.4 523.6,467.6 526.2,466.8 528.8,465.9 531.4,464.9 534,464.4 536.6,464.1 539.2,464.1 541.8,464.7 544.4,465.6 547,466.1 549.6,466.7 552.2,466.9 554.8,466.6 557.4,466.6 560,466.9 562.6,467.1 565.2,466.8 567.8,466.5 570.4,466 573,465.4 575.6,464.9 578.2,464.6 580.8,464.4 583.4,464.4 586,464.8 588.6,465.2 591.2,465.6 593.8,465.3 596.4,464.5 599,464.5 601.6,465.1 604.2,465.5 606.8,465.7 609.4,465.8 612,466 614.6,466.3 617.2,466.1 619.8,465.9 622.4,465.9 625,466 627.6,466 630.2,466 632.8,466.1 635.4,466.2 638,466.2 640.6,465.5 643.2,464.9 645.8,464.9 648.4,465 651,465.2 653.6,465.7 656.2,466.6 658.8,467.1 661.4,466.9 664,466.4 666.6,466.3 669.2,466.2 671.8,468.3 674.4,469 677,468.1 679.6,468 682.2,467.8 684.8,467.4 687.4,467.2 690,467.5 692.6,467.6 695.2,467.5 697.8,467.6 700.4,468 702,468.3 706.5,468.6 711,468.3 715.5,467.3 720,468 724.5,469.6 729,470.6 733.5,469.9 738,469.4 742.5,468.5 747,468.6 751.5,468.5 756,468.5 760.5,468.9 765,469 769.5,468.6 774,468.2 778.5,468.4 783,468.6 787.5,468.9 792,469.4 796.5,469.5 801,469.4 805.5,469.1 810,468.9 814.5,469.4 819,469.5 823.5,469.7 828,469.4 832.5,469.1 837,469 841.5,468.5 846,468.5 850.5,468.4 855,468.7 859.5,469.3 864,469.8 868.5,469.9 871,470.1"/>
<polygon fill="#74ff00" points="871,162 153,162 153,467.6 157.5,467.4 162,467.5 166.5,467.9 171,468.2 175.5,468.4 180,468.7 184.5,466.3 189,466 193.5,466.8 198,467.7 202.5,468.6 207,469.4 211.5,469.7 216,469.6 220.5,467.9 225,465.9 229.5,466.6 234,467.3 238.5,467.8 243,468.3 247.5,468.6 252,468.2 256.5,468 261,468.4 265.5,469.5 270,470.8 274.5,471 279,471.5 283.5,471.6 288,471.1 292.5,470.1 297,468.7 301.5,468.1 306,468 310.5,468.2 315,467.8 319.5,467.6 324,467.3 328.5,467.2 333,466.5 337.5,466.2 342,465.6 346.5,465 351,464 355.5,460.6 360,459.1 364.5,460.1 369,462.6 373.5,463.5 378,464.5 382.5,464.8 387,464.8 391.5,464.9 396,465.5 400.5,466.4 405,467.1 409.5,467.7 414,468.2 418.5,468.8 423,469.3 427.5,470.1 430,470.4 432.6,470.5 435.2,470.1 437.8,468.5 440.4,467.3 443,466.2 445.6,465.3 448.2,465.4 450.8,465.3 453.4,465.1 456,465.2 458.6,465.5 461.2,465.7 463.8,465.6 466.4,464.9 469,463.6 471.6,463.3 474.2,463.6 476.8,463.9 479.4,464.3 482,464.2 484.6,463.5 487.2,462.6 489.8,462 492.4,462 495,461.6 497.6,461.2 500.2,462.8 502.8,463.8 505.4,464.6 508,465 510.6,465.3 513.2,465.1 515.8,464.8 518.4,465.3 521,466.4 523.6,466.5 526.2,465.7 528.8,464.7 531.4,463.7 534,463.2 536.6,462.9 539.2,463 541.8,463.6 544.4,464.6 547,465.2 549.6,465.8 552.2,465.9 554.8,465.6 557.4,465.7 560,466 562.6,466.2 565.2,466 567.8,465.7 570.4,465.2 573,464.5 575.6,464 578.2,463.6 580.8,463.4 583.4,463.4 586,463.8 588.6,464.2 591.2,464.6 593.8,464.3 596.4,463.6 599,463.5 601.6,464.2 604.2,464.6 606.8,464.7 609.4,464.7 612,465 614.6,465.3 617.2,465.1 619.8,464.8 622.4,464.8 625,464.9 627.6,465 630.2,465 632.8,465.1 635.4,465.3 638,465.3 640.6,464.5 643.2,463.9 645.8,463.9 648.4,464 651,464.2 653.6,464.7 656.2,465.6 658.8,466.2 661.4,465.9 664,465.5 666.6,465.4 669.2,465.4 671.8,467.2 674.4,467.8 677,467 679.6,467 682.2,466.8 684.8,466.4 687.4,466.2 690,466.5 692.6,466.6 695.2,466.5 697.8,466.6 700.4,467 702,467.3 706.5,467.7 711,467.3 715.5,466.3 720,467.1 724.5,468.6 729,469.5 733.5,468.9 738,468.4 742.5,467.6 747,467.6 751.5,467.5 756,467.5 760.5,468 765,468.2 769.5,467.7 774,467.3 778.5,467.5 783,467.7 787.5,468 792,468.5 796.5,468.6 801,468.4 805.5,468.2 810,467.9 814.5,468.4 819,468.6 823.5,468.8 828,468.5 832.5,468.2 837,468 841.5,467.6 846,467.5 850.5,467.5 855,467.8 859.5,468.3 864,468.8 868.5,468.9 871,469.1"/>
<polygon fill="#7fff00" points="871,169 861,168.9 855,168.8 849,168.8 843,168.7 837,168.7 831,168.6 825,168.6 819,168.5 813,168.5 807,168.4 801,168.4 795,168.3 789,168.3 783,168.2 777,168.2 771,168.2 765,168.1 759,168.1 753,168 747,168 741,167.9 735,167.9 729,167.8 723,167.8 717,167.7 711,167.6 705,167.6 699,167.5 693,167.5 687,167.4 681,167.4 675,167.3 669,167.3 663,167.3 657,167.2 651,167.2 645,167.2 639,167.2 633,167.2 627,167.2 621,167.2 615,167.2 609,167.2 603,167.2 597,167.2 591,167.2 585,167.2 579,167.2 573,167.3 567,167.3 561,167.3 555,167.4 549,167.4 543,167.5 537,167.5 531,167.6 525,167.7 519,167.7 513,167.8 507,167.9 501,167.9 495,168 489,168 483,168.1 477,168.2 471,168.2 465,168.3 459,168.4 453,168.4 447,168.5 441,168.5 435,168.5 429,168.5 423,168.5 417,168.5 411,168.5 405,168.5 399,168.5 393,168.5 387,168.5 381,168.5 375,168.5 369,168.5 363,168.6 357,168.7 351,168.7 345,168.8 339,168.8 333,168.9 327,169 321,169 315,168.9 309,168.8 303,168.8 297,168.9 291,169 285,169 279,169.1 273,169.1 267,169.1 261,169.2 255,169.2 249,169.3 243,169.3 237,169.3 231,169.3 225,169.3 219,169.3 213,169.3 207,169.3 201,169.3 195,169.2 189,169.2 183,169.2 177,169.1 171,169.1 165,169.1 159,169 153,169.0 153,466.7 157.5,466.5 162,466.6 166.5,467 171,467.4 175.5,467.6 180,467.9 184.5,465.4 189,465 193.5,465.8 198,466.6 202.5,467.6 207,468.5 211.5,468.8 216,468.8 220.5,467 225,464.9 229.5,465.6 234,466.3 238.5,466.9 243,467.4 247.5,467.7 252,467.3 256.5,467.2 261,467.7 265.5,468.8 270,470 274.5,470.2 279,470.7 283.5,470.7 288,470.2 292.5,469.2 297,467.9 301.5,467.3 306,467.2 310.5,467.4 315,467 319.5,466.7 324,466.5 328.5,466.4 333,465.7 337.5,465.4 342,464.8 346.5,464.2 351,463.1 355.5,459.5 360,457.9 364.5,458.9 369,461.5 373.5,462.5 378,463.4 382.5,463.8 387,463.9 391.5,464 396,464.7 400.5,465.5 405,466.2 409.5,466.8 414,467.3 418.5,467.9 423,468.5 427.5,469.2 430,469.5 432.6,469.6 435.2,469.2 437.8,467.5 440.4,466.2 443,465.1 445.6,464.2 448.2,464.3 450.8,464.3 453.4,464.1 456,464.2 458.6,464.6 461.2,464.8 463.8,464.8 466.4,464.1 469,462.7 471.6,462.3 474.2,462.6 476.8,462.9 479.4,463.2 482,463.3 484.6,462.6 487.2,461.6 489.8,461.1 492.4,461 495,460.7 497.6,460.3 500.2,461.8 502.8,462.7 505.4,463.5 508,464 510.6,464.2 513.2,464.1 515.8,463.8 518.4,464.3 521,465.4 523.6,465.5 526.2,464.6 528.8,463.7 531.4,462.6 534,462.1 536.6,461.8 539.2,461.9 541.8,462.6 544.4,463.6 547,464.3 549.6,465 552.2,465 554.8,464.7 557.4,464.8 560,465.1 562.6,465.3 565.2,465.3 567.8,464.9 570.4,464.4 573,463.7 575.6,463.1 578.2,462.7 580.8,462.4 583.4,462.4 586,462.8 588.6,463.2 591.2,463.6 593.8,463.4 596.4,462.7 599,462.6 601.6,463.3 604.2,463.7 606.8,463.8 609.4,463.8 612,464 614.6,464.4 617.2,464.2 619.8,463.9 622.4,463.8 625,463.9 627.6,463.9 630.2,464 632.8,464.2 635.4,464.4 638,464.4 640.6,463.6 643.2,462.9 645.8,463 648.4,463.1 651,463.3 653.6,463.7 656.2,464.7 658.8,465.3 661.4,465 664,464.7 666.6,464.6 669.2,464.6 671.8,466.2 674.4,466.6 677,466 679.6,466 682.2,465.8 684.8,465.4 687.4,465.2 690,465.5 692.6,465.6 695.2,465.6 697.8,465.7 700.4,466.1 702,466.4 706.5,466.7 711,466.3 715.5,465.5 720,466.1 724.5,467.6 729,468.4 733.5,467.9 738,467.4 742.5,466.7 747,466.7 751.5,466.5 756,466.6 760.5,467.1 765,467.4 769.5,466.9 774,466.4 778.5,466.6 783,466.9 787.5,467.1 792,467.7 796.5,467.7 801,467.5 805.5,467.2 810,467 814.5,467.4 819,467.6 823.5,467.9 828,467.7 832.5,467.4 837,467.2 841.5,466.7 846,466.6 850.5,466.5 855,466.9 859.5,467.4 864,467.8 868.5,467.9 871,468.1"/>
<polygon fill="#8aff00" points="871,174.9 861,174.8 855,174.7 849,174.6 843,174.5 837,174.4 831,174.3 825,174.2 819,174.1 813,174 807,173.9 801,173.8 795,173.7 789,173.6 783,173.5 777,173.4 771,173.3 765,173.2 759,173.1 753,173 747,173 741,172.9 735,172.8 729,172.6 723,172.5 717,172.4 711,172.3 705,172.2 699,172.1 693,171.9 687,171.8 681,171.8 675,171.7 669,171.6 663,171.5 657,171.5 651,171.4 645,171.4 639,171.4 633,171.4 627,171.4 621,171.4 615,171.4 609,171.4 603,171.4 597,171.4 591,171.4 585,171.5 579,171.5 573,171.5 567,171.6 561,171.7 555,171.8 549,171.8 543,172 537,172.1 531,172.2 525,172.3 519,172.5 513,172.6 507,172.7 501,172.9 495,173 489,173.1 483,173.2 477,173.3 471,173.4 465,173.6 459,173.7 453,173.8 447,173.9 441,173.9 435,173.9 429,173.9 423,173.9 417,173.9 411,173.9 405,173.9 399,173.9 393,173.9 387,173.9 381,173.9 375,174 369,174.1 363,174.2 357,174.3 351,174.4 345,174.5 339,174.6 333,174.7 327,174.9 321,175 315,174.8 309,174.7 303,174.7 297,174.7 291,174.9 285,175 279,175.1 273,175.2 267,175.3 261,175.4 255,175.5 249,175.5 243,175.5 237,175.6 231,175.6 225,175.6 219,175.6 213,175.6 207,175.7 201,175.6 195,175.5 189,175.4 183,175.3 177,175.3 171,175.2 165,175.1 159,175.1 153,175.0 153,465.8 157.5,465.6 162,465.7 166.5,466.1 171,466.5 175.5,466.7 180,467.1 184.5,464.4 189,464 193.5,464.7 198,465.6 202.5,466.7 207,467.6 211.5,467.9 216,467.9 220.5,466.1 225,463.9 229.5,464.6 234,465.3 238.5,465.9 243,466.5 247.5,466.8 252,466.5 256.5,466.4 261,466.9 265.5,468 270,469.2 274.5,469.4 279,469.8 283.5,469.8 288,469.3 292.5,468.4 297,467.1 301.5,466.4 306,466.3 310.5,466.5 315,466.1 319.5,465.9 324,465.7 328.5,465.6 333,465 337.5,464.6 342,464 346.5,463.4 351,462.2 355.5,458.3 360,456.7 364.5,457.7 369,460.4 373.5,461.4 378,462.4 382.5,462.8 387,463 391.5,463.2 396,463.8 400.5,464.6 405,465.3 409.5,465.9 414,466.4 418.5,467 423,467.6 427.5,468.3 430,468.6 432.6,468.7 435.2,468.2 437.8,466.5 440.4,465.1 443,463.9 445.6,463.1 448.2,463.2 450.8,463.2 453.4,463.1 456,463.3 458.6,463.6 461.2,463.9 463.8,463.9 466.4,463.3 469,461.9 471.6,461.4 474.2,461.6 476.8,461.9 479.4,462.2 482,462.3 484.6,461.7 487.2,460.7 489.8,460.1 492.4,460.1 495,459.8 497.6,459.5 500.2,460.8 502.8,461.7 505.4,462.4 508,462.9 510.6,463.2 513.2,463 515.8,462.7 518.4,463.4 521,464.4 523.6,464.5 526.2,463.6 528.8,462.6 531.4,461.5 534,461 536.6,460.7 539.2,460.8 541.8,461.6 544.4,462.6 547,463.4 549.6,464.1 552.2,464.1 554.8,463.8 557.4,463.9 560,464.2 562.6,464.5 565.2,464.5 567.8,464.1 570.4,463.7 573,462.9 575.6,462.2 578.2,461.7 580.8,461.4 583.4,461.4 586,461.8 588.6,462.3 591.2,462.7 593.8,462.5 596.4,461.9 599,461.7 601.6,462.4 604.2,462.9 606.8,462.8 609.4,462.8 612,463.1 614.6,463.5 617.2,463.2 619.8,462.9 622.4,462.8 625,462.8 627.6,462.9 630.2,463.1 632.8,463.2 635.4,463.5 638,463.5 640.6,462.6 643.2,462 645.8,462 648.4,462.2 651,462.4 653.6,462.8 656.2,463.7 658.8,464.4 661.4,464.2 664,463.8 666.6,463.7 669.2,463.8 671.8,465.1 674.4,465.5 677,465 679.6,465 682.2,464.9 684.8,464.4 687.4,464.2 690,464.5 692.6,464.7 695.2,464.7 697.8,464.8 700.4,465.2 702,465.4 706.5,465.8 711,465.4 715.5,464.6 720,465.2 724.5,466.6 729,467.4 733.5,466.9 738,466.5 742.5,465.7 747,465.8 751.5,465.6 756,465.6 760.5,466.2 765,466.6 769.5,466.1 774,465.6 778.5,465.8 783,466 787.5,466.3 792,466.8 796.5,466.8 801,466.6 805.5,466.3 810,466 814.5,466.5 819,466.7 823.5,467.1 828,466.9 832.5,466.6 837,466.3 841.5,465.9 846,465.7 850.5,465.6 855,466 859.5,466.5 864,466.9 868.5,466.9 871,467.2"/>
<polygon fill="#94ff00" points="871,180.9 861,180.7 855,180.5 849,180.4 843,180.2 837,180.1 831,179.9 825,179.8 819,179.6 813,179.4 807,179.3 801,179.1 795,179 789,178.9 783,178.7 777,178.6 771,178.5 765,178.3 759,178.2 753,178.1 747,177.9 741,177.8 735,177.6 729,177.4 723,177.3 717,177.1 711,176.9 705,176.8 699,176.6 693,176.4 687,176.3 681,176.1 675,176 669,175.9 663,175.8 657,175.7 651,175.6 645,175.6 639,175.6 633,175.6 627,175.6 621,175.6 615,175.6 609,175.6 603,175.6 597,175.6 591,175.6 585,175.7 579,175.7 573,175.8 567,175.9 561,176 555,176.1 549,176.3 543,176.4 537,176.6 531,176.8 525,177 519,177.2 513,177.4 507,177.6 501,177.8 495,178 489,178.1 483,178.3 477,178.5 471,178.7 465,178.9 459,179.1 453,179.2 447,179.4 441,179.4 435,179.4 429,179.4 423,179.4 417,179.4 411,179.4 405,179.4 399,179.4 393,179.4 387,179.4 381,179.4 375,179.5 369,179.6 363,179.8 357,180 351,180.1 345,180.3 339,180.4 333,180.6 327,180.9 321,181 315,180.6 309,180.5 303,180.5 297,180.6 291,180.9 285,181 279,181.2 273,181.3 267,181.4 261,181.6 255,181.7 249,181.8 243,181.8 237,181.8 231,181.9 225,181.9 219,181.9 213,182 207,182 201,181.9 195,181.7 189,181.6 183,181.5 177,181.4 171,181.3 165,181.2 159,181.1 153,181.0 153,464.9 157.5,464.7 162,464.8 166.5,465.2 171,465.6 175.5,465.9 180,466.3 184.5,463.5 189,463 193.5,463.7 198,464.6 202.5,465.7 207,466.6 211.5,467.1 216,467.1 220.5,465.2 225,462.9 229.5,463.6 234,464.3 238.5,465 243,465.6 247.5,466 252,465.6 256.5,465.6 261,466.1 265.5,467.3 270,468.5 274.5,468.6 279,468.9 283.5,468.9 288,468.4 292.5,467.5 297,466.4 301.5,465.6 306,465.5 310.5,465.6 315,465.3 319.5,465 324,464.8 328.5,464.8 333,464.3 337.5,463.9 342,463.3 346.5,462.6 351,461.3 355.5,457.2 360,455.5 364.5,456.5 369,459.3 373.5,460.3 378,461.3 382.5,461.8 387,462 391.5,462.3 396,463 400.5,463.8 405,464.4 409.5,465 414,465.6 418.5,466.1 423,466.7 427.5,467.4 430,467.7 432.6,467.8 435.2,467.3 437.8,465.5 440.4,464 443,462.8 445.6,461.9 448.2,462.1 450.8,462.1 453.4,462.1 456,462.3 458.6,462.7 461.2,463 463.8,463.1 466.4,462.5 469,461 471.6,460.4 474.2,460.6 476.8,460.9 479.4,461.2 482,461.3 484.6,460.7 487.2,459.7 489.8,459.2 492.4,459.1 495,458.9 497.6,458.7 500.2,459.8 502.8,460.6 505.4,461.4 508,461.9 510.6,462.2 513.2,462 515.8,461.7 518.4,462.4 521,463.4 523.6,463.4 526.2,462.5 528.8,461.5 531.4,460.4 534,459.8 536.6,459.6 539.2,459.7 541.8,460.6 544.4,461.7 547,462.6 549.6,463.3 552.2,463.2 554.8,462.9 557.4,463.1 560,463.4 562.6,463.7 565.2,463.7 567.8,463.4 570.4,462.9 573,462.1 575.6,461.3 578.2,460.8 580.8,460.4 583.4,460.5 586,460.9 588.6,461.4 591.2,461.7 593.8,461.6 596.4,461 599,460.8 601.6,461.5 604.2,462 606.8,461.9 609.4,461.9 612,462.2 614.6,462.5 617.2,462.3 619.8,461.9 622.4,461.8 625,461.8 627.6,461.9 630.2,462.1 632.8,462.3 635.4,462.6 638,462.5 640.6,461.7 643.2,461 645.8,461.1 648.4,461.2 651,461.5 653.6,461.8 656.2,462.8 658.8,463.5 661.4,463.3 664,462.9 666.6,462.9 669.2,463 671.8,464.1 674.4,464.4 677,464 679.6,464.1 682.2,464 684.8,463.5 687.4,463.3 690,463.5 692.6,463.7 695.2,463.8 697.8,463.9 700.4,464.2 702,464.5 706.5,464.8 711,464.4 715.5,463.7 720,464.3 724.5,465.6 729,466.3 733.5,465.9 738,465.5 742.5,464.8 747,464.9 751.5,464.6 756,464.6 760.5,465.3 765,465.8 769.5,465.3 774,464.7 778.5,464.9 783,465.2 787.5,465.4 792,466 796.5,466 801,465.7 805.5,465.4 810,465.1 814.5,465.5 819,465.8 823.5,466.2 828,466.1 832.5,465.7 837,465.4 841.5,465 846,464.8 850.5,464.7 855,465.1 859.5,465.6 864,465.9 868.5,466 871,466.2"/>
<polygon fill="#9fff00" points="871,186.9 861,186.6 855,186.4 849,186.2 843,186 837,185.8 831,185.5 825,185.3 819,185.1 813,184.9 807,184.7 801,184.5 795,184.3 789,184.1 783,184 777,183.8 771,183.6 765,183.4 759,183.3 753,183.1 747,182.9 741,182.7 735,182.5 729,182.3 723,182 717,181.8 711,181.6 705,181.3 699,181.1 693,180.9 687,180.7 681,180.5 675,180.4 669,180.2 663,180.1 657,180 651,179.8 645,179.7 639,179.7 633,179.7 627,179.7 621,179.7 615,179.7 609,179.7 603,179.7 597,179.8 591,179.8 585,179.9 579,180 573,180.1 567,180.2 561,180.4 555,180.5 549,180.7 543,180.9 537,181.2 531,181.4 525,181.7 519,181.9 513,182.2 507,182.5 501,182.7 495,183 489,183.2 483,183.4 477,183.6 471,183.9 465,184.2 459,184.4 453,184.6 447,184.8 441,184.9 435,184.9 429,184.9 423,184.8 417,184.8 411,184.8 405,184.8 399,184.8 393,184.9 387,184.9 381,184.9 375,185 369,185.2 363,185.4 357,185.6 351,185.8 345,186 339,186.3 333,186.5 327,186.8 321,187 315,186.5 309,186.4 303,186.3 297,186.5 291,186.8 285,187 279,187.2 273,187.4 267,187.6 261,187.7 255,187.9 249,188 243,188.1 237,188.1 231,188.2 225,188.2 219,188.2 213,188.3 207,188.3 201,188.1 195,188 189,187.8 183,187.7 177,187.5 171,187.4 165,187.3 159,187.1 153,187.0 153,464 157.5,463.8 162,463.9 166.5,464.3 171,464.8 175.5,465 180,465.5 184.5,462.5 189,462 193.5,462.7 198,463.6 202.5,464.7 207,465.7 211.5,466.2 216,466.2 220.5,464.3 225,461.9 229.5,462.6 234,463.4 238.5,464 243,464.7 247.5,465.1 252,464.8 256.5,464.7 261,465.3 265.5,466.5 270,467.7 274.5,467.7 279,468.1 283.5,468.1 288,467.5 292.5,466.6 297,465.6 301.5,464.8 306,464.7 310.5,464.8 315,464.5 319.5,464.2 324,464 328.5,464 333,463.5 337.5,463.1 342,462.5 346.5,461.8 351,460.4 355.5,456 360,454.3 364.5,455.3 369,458.2 373.5,459.2 378,460.3 382.5,460.8 387,461.1 391.5,461.4 396,462.1 400.5,462.9 405,463.5 409.5,464.1 414,464.7 418.5,465.2 423,465.9 427.5,466.6 430,466.8 432.6,466.9 435.2,466.4 437.8,464.4 440.4,462.9 443,461.7 445.6,460.8 448.2,461 450.8,461 453.4,461.1 456,461.4 458.6,461.8 461.2,462.1 463.8,462.2 466.4,461.7 469,460.1 471.6,459.4 474.2,459.6 476.8,459.8 479.4,460.2 482,460.3 484.6,459.8 487.2,458.8 489.8,458.2 492.4,458.2 495,458 497.6,457.8 500.2,458.8 502.8,459.6 505.4,460.3 508,460.8 510.6,461.2 513.2,460.9 515.8,460.6 518.4,461.4 521,462.4 523.6,462.4 526.2,461.4 528.8,460.4 531.4,459.3 534,458.7 536.6,458.4 539.2,458.7 541.8,459.5 544.4,460.7 547,461.7 549.6,462.5 552.2,462.3 554.8,462 557.4,462.2 560,462.5 562.6,462.8 565.2,462.9 567.8,462.6 570.4,462.1 573,461.3 575.6,460.4 578.2,459.8 580.8,459.5 583.4,459.5 586,459.9 588.6,460.4 591.2,460.8 593.8,460.7 596.4,460.1 599,459.9 601.6,460.6 604.2,461.1 606.8,461 609.4,460.9 612,461.2 614.6,461.6 617.2,461.3 619.8,460.9 622.4,460.8 625,460.8 627.6,460.9 630.2,461.1 632.8,461.4 635.4,461.7 638,461.6 640.6,460.7 643.2,460 645.8,460.1 648.4,460.3 651,460.5 653.6,460.9 656.2,461.8 658.8,462.6 661.4,462.4 664,462.1 666.6,462.1 669.2,462.3 671.8,463.1 674.4,463.3 677,463 679.6,463.1 682.2,463 684.8,462.5 687.4,462.3 690,462.6 692.6,462.8 695.2,462.8 697.8,462.9 700.4,463.3 702,463.6 706.5,463.9 711,463.4 715.5,462.8 720,463.4 724.5,464.6 729,465.2 733.5,464.9 738,464.5 742.5,463.9 747,463.9 751.5,463.6 756,463.7 760.5,464.4 765,465 769.5,464.5 774,463.8 778.5,464.1 783,464.3 787.5,464.6 792,465.1 796.5,465.1 801,464.8 805.5,464.4 810,464.1 814.5,464.6 819,464.9 823.5,465.3 828,465.3 832.5,464.9 837,464.5 841.5,464.1 846,463.8 850.5,463.8 855,464.2 859.5,464.7 864,464.9 868.5,465 871,465.2"/>
<polygon fill="#abff00" points="871,192.9 861,192.4 855,192.2 849,191.9 843,191.7 837,191.4 831,191.2 825,190.9 819,190.7 813,190.4 807,190.1 801,189.9 795,189.6 789,189.4 783,189.2 777,189 771,188.8 765,188.5 759,188.3 753,188.1 747,187.9 741,187.7 735,187.4 729,187.1 723,186.8 717,186.5 711,186.2 705,185.9 699,185.6 693,185.4 687,185.1 681,184.9 675,184.7 669,184.5 663,184.4 657,184.2 651,184 645,183.9 639,183.9 633,183.9 627,183.9 621,183.9 615,183.9 609,183.9 603,183.9 597,184 591,184.1 585,184.1 579,184.2 573,184.3 567,184.5 561,184.7 555,184.9 549,185.1 543,185.4 537,185.7 531,186 525,186.3 519,186.6 513,187 507,187.3 501,187.7 495,187.9 489,188.2 483,188.5 477,188.8 471,189.1 465,189.4 459,189.8 453,190 447,190.3 441,190.3 435,190.3 429,190.3 423,190.3 417,190.3 411,190.3 405,190.3 399,190.3 393,190.3 387,190.3 381,190.3 375,190.4 369,190.7 363,191 357,191.3 351,191.5 345,191.8 339,192.1 333,192.4 327,192.8 321,193 315,192.4 309,192.2 303,192.2 297,192.4 291,192.8 285,193 279,193.3 273,193.5 267,193.7 261,193.9 255,194.1 249,194.3 243,194.4 237,194.4 231,194.4 225,194.5 219,194.5 213,194.6 207,194.6 201,194.4 195,194.2 189,194 183,193.8 177,193.6 171,193.5 165,193.3 159,193.2 153,193.0 153,463.1 157.5,462.9 162,463 166.5,463.4 171,463.9 175.5,464.2 180,464.6 184.5,461.5 189,460.9 193.5,461.7 198,462.6 202.5,463.8 207,464.8 211.5,465.3 216,465.4 220.5,463.4 225,460.9 229.5,461.6 234,462.4 238.5,463.1 243,463.7 247.5,464.3 252,463.9 256.5,463.9 261,464.5 265.5,465.8 270,466.9 274.5,466.9 279,467.2 283.5,467.2 288,466.6 292.5,465.8 297,464.8 301.5,464 306,463.9 310.5,463.9 315,463.6 319.5,463.3 324,463.2 328.5,463.2 333,462.8 337.5,462.3 342,461.7 346.5,461 351,459.5 355.5,454.9 360,453 364.5,454.1 369,457.1 373.5,458.2 378,459.2 382.5,459.8 387,460.2 391.5,460.6 396,461.3 400.5,462 405,462.6 409.5,463.2 414,463.8 418.5,464.4 423,465 427.5,465.7 430,465.9 432.6,466 435.2,465.5 437.8,463.4 440.4,461.8 443,460.6 445.6,459.7 448.2,459.8 450.8,460 453.4,460.1 456,460.4 458.6,460.8 461.2,461.2 463.8,461.4 466.4,461 469,459.2 471.6,458.5 474.2,458.6 476.8,458.8 479.4,459.2 482,459.4 484.6,458.9 487.2,457.9 489.8,457.3 492.4,457.2 495,457.1 497.6,457 500.2,457.8 502.8,458.5 505.4,459.2 508,459.8 510.6,460.1 513.2,459.9 515.8,459.6 518.4,460.4 521,461.4 523.6,461.4 526.2,460.4 528.8,459.3 531.4,458.2 534,457.6 536.6,457.3 539.2,457.6 541.8,458.5 544.4,459.7 547,460.8 549.6,461.6 552.2,461.4 554.8,461.1 557.4,461.3 560,461.6 562.6,462 565.2,462.2 567.8,461.8 570.4,461.4 573,460.4 575.6,459.5 578.2,458.9 580.8,458.5 583.4,458.5 586,458.9 588.6,459.5 591.2,459.8 593.8,459.8 596.4,459.2 599,459 601.6,459.7 604.2,460.2 606.8,460.1 609.4,459.9 612,460.3 614.6,460.7 617.2,460.3 619.8,459.9 622.4,459.7 625,459.7 627.6,459.9 630.2,460.2 632.8,460.4 635.4,460.8 638,460.7 640.6,459.8 643.2,459.1 645.8,459.2 648.4,459.4 651,459.6 653.6,460 656.2,460.9 658.8,461.7 661.4,461.5 664,461.2 666.6,461.3 669.2,461.5 671.8,462 674.4,462.1 677,462 679.6,462.1 682.2,462.1 684.8,461.6 687.4,461.3 690,461.6 692.6,461.8 695.2,461.9 697.8,462 700.4,462.4 702,462.6 706.5,462.9 711,462.5 715.5,461.9 720,462.5 724.5,463.6 729,464.2 733.5,463.9 738,463.6 742.5,463 747,463 751.5,462.7 756,462.7 760.5,463.5 765,464.2 769.5,463.7 774,463 778.5,463.2 783,463.5 787.5,463.7 792,464.3 796.5,464.2 801,463.9 805.5,463.5 810,463.2 814.5,463.6 819,464 823.5,464.5 828,464.5 832.5,464 837,463.7 841.5,463.2 846,462.9 850.5,462.8 855,463.3 859.5,463.8 864,464 868.5,464 871,464.2"/>
<polygon fill="#beff00" points="871,198.8 861,198.3 855,198 849,197.7 843,197.4 837,197.1 831,196.8 825,196.5 819,196.2 813,195.9 807,195.6 801,195.3 795,195 789,194.7 783,194.4 777,194.2 771,193.9 765,193.6 759,193.4 753,193.1 747,192.9 741,192.6 735,192.3 729,191.9 723,191.5 717,191.2 711,190.8 705,190.5 699,190.2 693,189.8 687,189.5 681,189.3 675,189.1 669,188.8 663,188.6 657,188.4 651,188.2 645,188.1 639,188.1 633,188.1 627,188.1 621,188.1 615,188.1 609,188.1 603,188.1 597,188.2 591,188.3 585,188.4 579,188.5 573,188.6 567,188.8 561,189.1 555,189.3 549,189.5 543,189.9 537,190.2 531,190.6 525,191 519,191.4 513,191.8 507,192.2 501,192.6 495,192.9 489,193.3 483,193.6 477,194 471,194.3 465,194.7 459,195.1 453,195.4 447,195.7 441,195.8 435,195.8 429,195.8 423,195.8 417,195.8 411,195.7 405,195.8 399,195.8 393,195.8 387,195.8 381,195.8 375,195.9 369,196.3 363,196.6 357,196.9 351,197.2 345,197.6 339,197.9 333,198.2 327,198.7 321,199 315,198.3 309,198 303,198 297,198.2 291,198.7 285,199 279,199.3 273,199.6 267,199.8 261,200.1 255,200.4 249,200.6 243,200.6 237,200.7 231,200.7 225,200.8 219,200.9 213,200.9 207,201 201,200.7 195,200.5 189,200.2 183,200 177,199.8 171,199.6 165,199.4 159,199.2 153,199.0 153,462.1 157.5,462 162,462.1 166.5,462.5 171,463 175.5,463.3 180,463.8 184.5,460.6 189,459.9 193.5,460.7 198,461.6 202.5,462.8 207,463.9 211.5,464.5 216,464.5 220.5,462.5 225,460 229.5,460.7 234,461.4 238.5,462.1 243,462.8 247.5,463.4 252,463.1 256.5,463.1 261,463.7 265.5,465 270,466.2 274.5,466.1 279,466.3 283.5,466.3 288,465.7 292.5,464.9 297,464 301.5,463.2 306,463 310.5,463.1 315,462.8 319.5,462.5 324,462.3 328.5,462.3 333,462 337.5,461.5 342,460.9 346.5,460.2 351,458.6 355.5,453.7 360,451.8 364.5,452.9 369,456 373.5,457.1 378,458.1 382.5,458.8 387,459.2 391.5,459.7 396,460.4 400.5,461.2 405,461.7 409.5,462.3 414,462.9 418.5,463.5 423,464.1 427.5,464.8 430,465 432.6,465.1 435.2,464.5 437.8,462.4 440.4,460.7 443,459.5 445.6,458.6 448.2,458.7 450.8,458.9 453.4,459.1 456,459.4 458.6,459.9 461.2,460.3 463.8,460.5 466.4,460.2 469,458.4 471.6,457.5 474.2,457.6 476.8,457.8 479.4,458.1 482,458.4 484.6,457.9 487.2,456.9 489.8,456.3 492.4,456.3 495,456.2 497.6,456.1 500.2,456.8 502.8,457.4 505.4,458.2 508,458.7 510.6,459.1 513.2,458.8 515.8,458.5 518.4,459.4 521,460.4 523.6,460.3 526.2,459.3 528.8,458.2 531.4,457 534,456.5 536.6,456.2 539.2,456.5 541.8,457.5 544.4,458.7 547,459.9 549.6,460.8 552.2,460.5 554.8,460.2 557.4,460.4 560,460.7 562.6,461.1 565.2,461.4 567.8,461.1 570.4,460.6 573,459.6 575.6,458.6 578.2,457.9 580.8,457.5 583.4,457.5 586,458 588.6,458.5 591.2,458.9 593.8,458.9 596.4,458.4 599,458.1 601.6,458.8 604.2,459.3 606.8,459.2 609.4,459 612,459.4 614.6,459.8 617.2,459.4 619.8,458.9 622.4,458.7 625,458.7 627.6,458.9 630.2,459.2 632.8,459.5 635.4,459.9 638,459.8 640.6,458.8 643.2,458.1 645.8,458.3 648.4,458.5 651,458.7 653.6,459 656.2,459.9 658.8,460.8 661.4,460.6 664,460.3 666.6,460.4 669.2,460.7 671.8,461 674.4,461 677,461 679.6,461.1 682.2,461.1 684.8,460.6 687.4,460.3 690,460.6 692.6,460.9 695.2,461 697.8,461.1 700.4,461.5 702,461.7 706.5,462 711,461.5 715.5,461 720,461.6 724.5,462.6 729,463.1 733.5,462.9 738,462.6 742.5,462.1 747,462.1 751.5,461.7 756,461.8 760.5,462.6 765,463.5 769.5,462.8 774,462.1 778.5,462.3 783,462.6 787.5,462.9 792,463.4 796.5,463.3 801,462.9 805.5,462.6 810,462.2 814.5,462.6 819,463.1 823.5,463.6 828,463.7 832.5,463.2 837,462.8 841.5,462.3 846,462 850.5,461.9 855,462.4 859.5,462.9 864,463 868.5,463.1 871,463.3"/>
<polygon fill="#d4ff00" points="871,204.8 861,204.2 855,203.9 849,203.5 843,203.2 837,202.8 831,202.5 825,202.1 819,201.7 813,201.4 807,201 801,200.6 795,200.3 789,200 783,199.7 777,199.4 771,199.1 765,198.8 759,198.4 753,198.2 747,197.8 741,197.6 735,197.1 729,196.7 723,196.3 717,195.9 711,195.5 705,195.1 699,194.7 693,194.3 687,193.9 681,193.6 675,193.4 669,193.2 663,192.9 657,192.7 651,192.4 645,192.3 639,192.3 633,192.3 627,192.3 621,192.3 615,192.3 609,192.3 603,192.3 597,192.4 591,192.5 585,192.6 579,192.7 573,192.8 567,193.1 561,193.4 555,193.7 549,194 543,194.4 537,194.8 531,195.2 525,195.6 519,196.1 513,196.6 507,197 501,197.5 495,197.9 489,198.3 483,198.7 477,199.1 471,199.6 465,200 459,200.5 453,200.8 447,201.2 441,201.3 435,201.3 429,201.3 423,201.2 417,201.2 411,201.2 405,201.2 399,201.2 393,201.3 387,201.3 381,201.3 375,201.4 369,201.8 363,202.2 357,202.6 351,202.9 345,203.3 339,203.7 333,204.1 327,204.7 321,205 315,204.2 309,203.9 303,203.8 297,204.1 291,204.7 285,205.1 279,205.4 273,205.7 267,206 261,206.3 255,206.6 249,206.8 243,206.9 237,207 231,207 225,207.1 219,207.2 213,207.2 207,207.3 201,207 195,206.7 189,206.4 183,206.1 177,205.9 171,205.7 165,205.4 159,205.2 153,205.0 153,461.2 157.5,461.1 162,461.1 166.5,461.6 171,462.2 175.5,462.5 180,463 184.5,459.6 189,458.9 193.5,459.6 198,460.6 202.5,461.8 207,462.9 211.5,463.6 216,463.7 220.5,461.6 225,459 229.5,459.7 234,460.5 238.5,461.2 243,461.9 247.5,462.6 252,462.2 256.5,462.2 261,462.9 265.5,464.3 270,465.4 274.5,465.3 279,465.4 283.5,465.4 288,464.8 292.5,464 297,463.2 301.5,462.3 306,462.2 310.5,462.2 315,461.9 319.5,461.6 324,461.5 328.5,461.5 333,461.3 337.5,460.7 342,460.2 346.5,459.4 351,457.8 355.5,452.6 360,450.6 364.5,451.7 369,454.9 373.5,456 378,457.1 382.5,457.7 387,458.3 391.5,458.9 396,459.6 400.5,460.3 405,460.8 409.5,461.4 414,462 418.5,462.6 423,463.3 427.5,463.9 430,464.1 432.6,464.2 435.2,463.6 437.8,461.4 440.4,459.6 443,458.4 445.6,457.5 448.2,457.6 450.8,457.8 453.4,458.1 456,458.5 458.6,458.9 461.2,459.4 463.8,459.7 466.4,459.4 469,457.5 471.6,456.5 474.2,456.7 476.8,456.8 479.4,457.1 482,457.4 484.6,457 487.2,456 489.8,455.4 492.4,455.3 495,455.3 497.6,455.3 500.2,455.8 502.8,456.4 505.4,457.1 508,457.7 510.6,458.1 513.2,457.8 515.8,457.5 518.4,458.4 521,459.4 523.6,459.3 526.2,458.3 528.8,457.2 531.4,455.9 534,455.3 536.6,455.1 539.2,455.4 541.8,456.5 544.4,457.8 547,459 549.6,460 552.2,459.6 554.8,459.2 557.4,459.5 560,459.8 562.6,460.3 565.2,460.6 567.8,460.3 570.4,459.8 573,458.8 575.6,457.7 578.2,457 580.8,456.5 583.4,456.6 586,457 588.6,457.6 591.2,457.9 593.8,458 596.4,457.5 599,457.2 601.6,457.9 604.2,458.5 606.8,458.2 609.4,458 612,458.4 614.6,458.9 617.2,458.4 619.8,457.9 622.4,457.7 625,457.7 627.6,457.9 630.2,458.2 632.8,458.6 635.4,459 638,458.9 640.6,457.9 643.2,457.2 645.8,457.3 648.4,457.5 651,457.8 653.6,458.1 656.2,459 658.8,459.9 661.4,459.7 664,459.4 666.6,459.6 669.2,459.9 671.8,459.9 674.4,459.9 677,460 679.6,460.2 682.2,460.2 684.8,459.6 687.4,459.4 690,459.7 692.6,459.9 695.2,460 697.8,460.2 700.4,460.5 702,460.8 706.5,461 711,460.6 715.5,460.1 720,460.7 724.5,461.7 729,462.1 733.5,461.9 738,461.7 742.5,461.2 747,461.2 751.5,460.8 756,460.8 760.5,461.7 765,462.7 769.5,462 774,461.3 778.5,461.5 783,461.7 787.5,462.1 792,462.6 796.5,462.4 801,462 805.5,461.7 810,461.3 814.5,461.7 819,462.2 823.5,462.7 828,462.8 832.5,462.4 837,461.9 841.5,461.5 846,461.1 850.5,461 855,461.5 859.5,461.9 864,462.1 868.5,462.1 871,462.3"/>
<polygon fill="#ebff00" points="871,208 861,207.3 855,206.9 849,206.5 843,206.1 837,205.7 831,205.3 825,204.9 819,204.6 813,204.2 807,203.8 801,203.4 795,203.1 789,202.8 783,202.5 777,202.2 771,201.9 765,201.6 759,201.3 753,201 747,200.7 741,200.4 735,200 729,199.6 723,199.2 717,198.8 711,198.5 705,198.1 699,197.7 693,197.4 687,197 681,196.7 675,196.5 669,196.2 663,196 657,195.8 651,195.5 645,195.4 639,195.4 633,195.4 627,195.4 621,195.4 615,195.4 609,195.4 603,195.4 597,195.5 591,195.6 585,195.7 579,195.8 573,195.9 567,196.2 561,196.5 555,196.7 549,197 543,197.4 537,197.8 531,198.2 525,198.6 519,199.1 513,199.5 507,200 501,200.4 495,200.8 489,201.2 483,201.6 477,202 471,202.4 465,202.9 459,203.3 453,203.7 447,204.1 441,204.2 435,204.3 429,204.3 423,204.3 417,204.4 411,204.4 405,204.5 399,204.6 393,204.7 387,204.8 381,204.9 375,205.1 369,205.6 363,206 357,206.4 351,206.9 345,207.3 339,207.8 333,208.2 327,208.8 321,209.2 315,208.5 309,208.3 303,208.4 297,208.9 291,209.6 285,210 279,210.3 273,210.4 267,210.5 261,210.7 255,210.8 249,210.9 243,210.9 237,210.8 231,210.8 225,210.8 219,210.8 213,210.8 207,210.8 201,210.5 195,210.2 189,209.9 183,209.6 177,209.3 171,209 165,208.8 159,208.6 153,208.3 153,460 157.5,459.9 162,459.9 166.5,460.4 171,460.9 175.5,461.2 180,461.7 184.5,458.5 189,457.8 193.5,458.5 198,459.5 202.5,460.6 207,461.7 211.5,462.3 216,462.4 220.5,460.4 225,458 229.5,458.6 234,459.4 238.5,460.1 243,460.8 247.5,461.4 252,461.1 256.5,461.1 261,461.8 265.5,463.1 270,464.2 274.5,464.1 279,464.3 283.5,464.2 288,463.6 292.5,462.8 297,462 301.5,461.1 306,461 310.5,460.8 315,460.4 319.5,459.7 324,459.5 328.5,459.6 333,459.4 337.5,458.9 342,458.3 346.5,457.5 351,456 355.5,451.2 360,449.6 364.5,450.7 369,453.9 373.5,455 378,456 382.5,456.6 387,457.1 391.5,457.7 396,458.4 400.5,459.1 405,459.5 409.5,460.1 414,460.7 418.5,461.3 423,461.9 427.5,462.5 430,462.7 432.6,462.8 435.2,462.2 437.8,460.1 440.4,458.5 443,457.3 445.6,456.4 448.2,456.5 450.8,456.7 453.4,457 456,457.3 458.6,457.7 461.2,458.2 463.8,458.4 466.4,458.1 469,456.3 471.6,455.4 474.2,455.5 476.8,455.7 479.4,456 482,456.3 484.6,455.8 487.2,454.9 489.8,454.4 492.4,454.3 495,454.3 497.6,454.2 500.2,454.8 502.8,455.3 505.4,456 508,456.6 510.6,457 513.2,456.7 515.8,456.4 518.4,457.3 521,458.2 523.6,458.2 526.2,457.2 528.8,456.1 531.4,455 534,454.4 536.6,454.2 539.2,454.5 541.8,455.5 544.4,456.8 547,458 549.6,458.9 552.2,458.5 554.8,458.2 557.4,458.5 560,458.7 562.6,459.2 565.2,459.5 567.8,459.2 570.4,458.8 573,457.8 575.6,456.8 578.2,456.1 580.8,455.6 583.4,455.7 586,456.1 588.6,456.6 591.2,456.9 593.8,457 596.4,456.5 599,456.3 601.6,456.9 604.2,457.5 606.8,457.2 609.4,457 612,457.4 614.6,457.8 617.2,457.4 619.8,456.9 622.4,456.7 625,456.7 627.6,456.8 630.2,457.2 632.8,457.5 635.4,457.9 638,457.8 640.6,456.8 643.2,456.2 645.8,456.3 648.4,456.5 651,456.7 653.6,457 656.2,457.8 658.8,458.8 661.4,458.6 664,458.3 666.6,458.5 669.2,458.8 671.8,458.8 674.4,458.7 677,458.8 679.6,459 682.2,459 684.8,458.5 687.4,458.2 690,458.5 692.6,458.8 695.2,458.9 697.8,459 700.4,459.4 702,459.6 706.5,459.8 711,459.4 715.5,458.9 720,459.5 724.5,460.5 729,460.9 733.5,460.7 738,460.5 742.5,460.1 747,460 751.5,459.7 756,459.7 760.5,460.6 765,461.5 769.5,460.9 774,460.2 778.5,460.4 783,460.6 787.5,460.9 792,461.4 796.5,461.3 801,460.9 805.5,460.5 810,460.2 814.5,460.6 819,461 823.5,461.6 828,461.6 832.5,461.2 837,460.8 841.5,460.3 846,459.9 850.5,459.8 855,460.3 859.5,460.8 864,460.9 868.5,460.9 871,461.1"/>
<polygon fill="#fffd00" points="871,211.1 861,210.4 855,209.9 849,209.4 843,209 837,208.6 831,208.2 825,207.8 819,207.4 813,207 807,206.6 801,206.3 795,205.9 789,205.6 783,205.3 777,205 771,204.7 765,204.4 759,204.1 753,203.9 747,203.6 741,203.3 735,202.9 729,202.5 723,202.1 717,201.8 711,201.4 705,201.1 699,200.7 693,200.4 687,200 681,199.8 675,199.5 669,199.3 663,199.1 657,198.9 651,198.7 645,198.5 639,198.5 633,198.5 627,198.5 621,198.5 615,198.5 609,198.5 603,198.5 597,198.6 591,198.7 585,198.8 579,198.9 573,199.1 567,199.3 561,199.6 555,199.8 549,200.1 543,200.5 537,200.8 531,201.2 525,201.6 519,202 513,202.5 507,202.9 501,203.4 495,203.7 489,204.1 483,204.5 477,204.9 471,205.3 465,205.8 459,206.2 453,206.6 447,207 441,207.1 435,207.2 429,207.3 423,207.4 417,207.5 411,207.7 405,207.8 399,208 393,208.2 387,208.3 381,208.5 375,208.8 369,209.3 363,209.8 357,210.3 351,210.8 345,211.3 339,211.8 333,212.3 327,213 321,213.5 315,212.9 309,212.8 303,213 297,213.6 291,214.5 285,215 279,215.1 273,215.2 267,215.1 261,215.1 255,215.1 249,215 243,214.9 237,214.7 231,214.6 225,214.5 219,214.4 213,214.4 207,214.3 201,214 195,213.6 189,213.3 183,213 177,212.7 171,212.4 165,212.1 159,211.9 153,211.6 153,458.8 157.5,458.7 162,458.7 166.5,459.2 171,459.7 175.5,460 180,460.4 184.5,457.4 189,456.8 193.5,457.4 198,458.3 202.5,459.4 207,460.5 211.5,461.1 216,461.2 220.5,459.3 225,456.9 229.5,457.6 234,458.3 238.5,459 243,459.7 247.5,460.3 252,460 256.5,460 261,460.7 265.5,461.9 270,463 274.5,462.9 279,463.1 283.5,463 288,462.4 292.5,461.7 297,460.8 301.5,459.9 306,459.7 310.5,459.4 315,458.8 319.5,457.8 324,457.4 328.5,457.6 333,457.6 337.5,457.1 342,456.5 346.5,455.7 351,454.3 355.5,449.9 360,448.5 364.5,449.8 369,452.9 373.5,453.9 378,454.9 382.5,455.5 387,456 391.5,456.5 396,457.2 400.5,457.8 405,458.3 409.5,458.8 414,459.4 418.5,459.9 423,460.5 427.5,461.1 430,461.3 432.6,461.4 435.2,460.9 437.8,458.9 440.4,457.3 443,456.1 445.6,455.3 448.2,455.4 450.8,455.6 453.4,455.8 456,456.2 458.6,456.5 461.2,457 463.8,457.2 466.4,456.9 469,455.2 471.6,454.3 474.2,454.4 476.8,454.5 479.4,454.8 482,455.1 484.6,454.7 487.2,453.8 489.8,453.3 492.4,453.2 495,453.2 497.6,453.2 500.2,453.7 502.8,454.2 505.4,454.9 508,455.5 510.6,455.8 513.2,455.6 515.8,455.3 518.4,456.1 521,457 523.6,457 526.2,456.1 528.8,455.1 531.4,454 534,453.5 536.6,453.3 539.2,453.6 541.8,454.6 544.4,455.8 547,456.9 549.6,457.8 552.2,457.4 554.8,457.1 557.4,457.4 560,457.7 562.6,458.1 565.2,458.4 567.8,458.1 570.4,457.7 573,456.8 575.6,455.8 578.2,455.1 580.8,454.7 583.4,454.8 586,455.1 588.6,455.7 591.2,455.9 593.8,456 596.4,455.6 599,455.3 601.6,455.9 604.2,456.4 606.8,456.2 609.4,456 612,456.4 614.6,456.8 617.2,456.4 619.8,455.9 622.4,455.7 625,455.6 627.6,455.8 630.2,456.1 632.8,456.5 635.4,456.8 638,456.7 640.6,455.8 643.2,455.2 645.8,455.3 648.4,455.5 651,455.7 653.6,455.9 656.2,456.7 658.8,457.6 661.4,457.4 664,457.2 666.6,457.3 669.2,457.6 671.8,457.6 674.4,457.6 677,457.7 679.6,457.9 682.2,457.8 684.8,457.4 687.4,457.1 690,457.4 692.6,457.6 695.2,457.7 697.8,457.8 700.4,458.2 702,458.4 706.5,458.6 711,458.2 715.5,457.8 720,458.4 724.5,459.3 729,459.7 733.5,459.5 738,459.3 742.5,458.9 747,458.9 751.5,458.5 756,458.6 760.5,459.4 765,460.3 769.5,459.7 774,459 778.5,459.2 783,459.5 787.5,459.8 792,460.2 796.5,460.1 801,459.7 805.5,459.4 810,459.1 814.5,459.4 819,459.8 823.5,460.4 828,460.4 832.5,460 837,459.6 841.5,459.2 846,458.8 850.5,458.7 855,459.2 859.5,459.6 864,459.7 868.5,459.7 871,459.9"/>
<polygon fill="#ffef00" points="871,214.3 861,213.4 855,212.9 849,212.4 843,211.9 837,211.5 831,211 825,210.6 819,210.2 813,209.8 807,209.4 801,209.1 795,208.7 789,208.4 783,208.1 777,207.8 771,207.6 765,207.3 759,207 753,206.7 747,206.4 741,206.1 735,205.8 729,205.4 723,205.1 717,204.7 711,204.4 705,204.1 699,203.7 693,203.4 687,203.1 681,202.8 675,202.6 669,202.4 663,202.2 657,202 651,201.8 645,201.7 639,201.7 633,201.7 627,201.7 621,201.7 615,201.6 609,201.6 603,201.6 597,201.7 591,201.8 585,201.9 579,202 573,202.2 567,202.4 561,202.6 555,202.9 549,203.1 543,203.5 537,203.9 531,204.3 525,204.6 519,205 513,205.4 507,205.9 501,206.3 495,206.6 489,207 483,207.3 477,207.7 471,208.2 465,208.6 459,209.1 453,209.5 447,209.8 441,210.1 435,210.2 429,210.4 423,210.5 417,210.7 411,210.9 405,211.1 399,211.4 393,211.6 387,211.9 381,212.2 375,212.5 369,213.1 363,213.6 357,214.2 351,214.8 345,215.3 339,215.9 333,216.5 327,217.2 321,217.7 315,217.3 309,217.3 303,217.6 297,218.4 291,219.4 285,219.9 279,220 273,219.9 267,219.7 261,219.5 255,219.3 249,219.1 243,218.9 237,218.6 231,218.4 225,218.2 219,218.1 213,217.9 207,217.8 201,217.5 195,217.1 189,216.7 183,216.4 177,216.1 171,215.8 165,215.5 159,215.2 153,214.9 153,457.6 157.5,457.5 162,457.5 166.5,458 171,458.4 175.5,458.7 180,459.1 184.5,456.3 189,455.7 193.5,456.3 198,457.2 202.5,458.3 207,459.2 211.5,459.8 216,459.9 220.5,458.1 225,455.9 229.5,456.5 234,457.2 238.5,457.9 243,458.6 247.5,459.1 252,458.9 256.5,458.9 261,459.6 265.5,460.8 270,461.8 274.5,461.7 279,461.9 283.5,461.8 288,461.2 292.5,460.5 297,459.7 301.5,458.8 306,458.4 310.5,458 315,457.2 319.5,455.9 324,455.4 328.5,455.7 333,455.7 337.5,455.3 342,454.6 346.5,453.8 351,452.5 355.5,448.5 360,447.5 364.5,448.9 369,451.8 373.5,452.9 378,453.8 382.5,454.4 387,454.9 391.5,455.4 396,456 400.5,456.6 405,457 409.5,457.5 414,458 418.5,458.6 423,459.2 427.5,459.7 430,459.9 432.6,460 435.2,459.5 437.8,457.6 440.4,456.1 443,455 445.6,454.2 448.2,454.3 450.8,454.5 453.4,454.7 456,455 458.6,455.4 461.2,455.7 463.8,455.9 466.4,455.6 469,454 471.6,453.1 474.2,453.2 476.8,453.4 479.4,453.6 482,453.9 484.6,453.6 487.2,452.8 489.8,452.3 492.4,452.2 495,452.2 497.6,452.2 500.2,452.7 502.8,453.2 505.4,453.8 508,454.4 510.6,454.7 513.2,454.5 515.8,454.2 518.4,455 521,455.9 523.6,455.9 526.2,455 528.8,454.1 531.4,453.1 534,452.6 536.6,452.4 539.2,452.7 541.8,453.6 544.4,454.8 547,455.8 549.6,456.7 552.2,456.3 554.8,456.1 557.4,456.3 560,456.6 562.6,457 565.2,457.3 567.8,457 570.4,456.6 573,455.8 575.6,454.8 578.2,454.2 580.8,453.8 583.4,453.8 586,454.2 588.6,454.7 591.2,455 593.8,455 596.4,454.6 599,454.4 601.6,454.9 604.2,455.4 606.8,455.2 609.4,455 612,455.4 614.6,455.7 617.2,455.4 619.8,454.9 622.4,454.7 625,454.6 627.6,454.8 630.2,455.1 632.8,455.4 635.4,455.7 638,455.6 640.6,454.8 643.2,454.1 645.8,454.2 648.4,454.4 651,454.6 653.6,454.9 656.2,455.6 658.8,456.4 661.4,456.3 664,456 666.6,456.2 669.2,456.4 671.8,456.5 674.4,456.4 677,456.5 679.6,456.7 682.2,456.7 684.8,456.2 687.4,456 690,456.3 692.6,456.5 695.2,456.6 697.8,456.7 700.4,457 702,457.2 706.5,457.4 711,457.1 715.5,456.7 720,457.2 724.5,458.1 729,458.5 733.5,458.3 738,458.2 742.5,457.8 747,457.8 751.5,457.4 756,457.5 760.5,458.3 765,459.1 769.5,458.6 774,457.9 778.5,458.1 783,458.4 787.5,458.6 792,459.1 796.5,459 801,458.6 805.5,458.3 810,458 814.5,458.3 819,458.7 823.5,459.2 828,459.2 832.5,458.8 837,458.4 841.5,458 846,457.7 850.5,457.6 855,458 859.5,458.4 864,458.5 868.5,458.5 871,458.7"/>
<polygon fill="#ffe100" points="871,217.5 861,216.5 855,215.9 849,215.3 843,214.9 837,214.4 831,213.9 825,213.5 819,213.1 813,212.7 807,212.3 801,211.9 795,211.5 789,211.2 783,210.9 777,210.7 771,210.4 765,210.1 759,209.8 753,209.6 747,209.3 741,209 735,208.7 729,208.3 723,208 717,207.7 711,207.4 705,207.1 699,206.8 693,206.4 687,206.1 681,205.9 675,205.7 669,205.5 663,205.3 657,205.1 651,204.9 645,204.8 639,204.8 633,204.8 627,204.8 621,204.8 615,204.8 609,204.8 603,204.8 597,204.8 591,204.9 585,205 579,205.1 573,205.3 567,205.5 561,205.7 555,206 549,206.2 543,206.5 537,206.9 531,207.3 525,207.6 519,208 513,208.4 507,208.8 501,209.2 495,209.5 489,209.9 483,210.2 477,210.6 471,211.1 465,211.5 459,212 453,212.3 447,212.7 441,213 435,213.2 429,213.4 423,213.6 417,213.8 411,214.1 405,214.4 399,214.7 393,215.1 387,215.4 381,215.8 375,216.2 369,216.9 363,217.5 357,218.1 351,218.7 345,219.3 339,220 333,220.6 327,221.3 321,221.9 315,221.6 309,221.7 303,222.2 297,223.1 291,224.3 285,224.9 279,224.9 273,224.6 267,224.2 261,223.9 255,223.5 249,223.2 243,222.8 237,222.5 231,222.2 225,222 219,221.7 213,221.5 207,221.4 201,221 195,220.6 189,220.2 183,219.8 177,219.5 171,219.2 165,218.8 159,218.5 153,218.2 153,456.4 157.5,456.3 162,456.3 166.5,456.7 171,457.2 175.5,457.4 180,457.9 184.5,455.2 189,454.6 193.5,455.2 198,456 202.5,457.1 207,458 211.5,458.5 216,458.7 220.5,457 225,454.9 229.5,455.5 234,456.2 238.5,456.8 243,457.5 247.5,458 252,457.8 256.5,457.8 261,458.4 265.5,459.6 270,460.5 274.5,460.5 279,460.7 283.5,460.6 288,460.1 292.5,459.4 297,458.5 301.5,457.6 306,457.1 310.5,456.6 315,455.6 319.5,454 324,453.4 328.5,453.7 333,453.9 337.5,453.5 342,452.8 346.5,452 351,450.8 355.5,447.2 360,446.4 364.5,447.9 369,450.8 373.5,451.8 378,452.7 382.5,453.3 387,453.7 391.5,454.2 396,454.8 400.5,455.4 405,455.8 409.5,456.2 414,456.7 418.5,457.3 423,457.8 427.5,458.3 430,458.5 432.6,458.6 435.2,458.1 437.8,456.4 440.4,455 443,453.9 445.6,453.1 448.2,453.2 450.8,453.3 453.4,453.6 456,453.8 458.6,454.2 461.2,454.5 463.8,454.7 466.4,454.4 469,452.8 471.6,452 474.2,452.1 476.8,452.2 479.4,452.5 482,452.8 484.6,452.4 487.2,451.7 489.8,451.2 492.4,451.2 495,451.2 497.6,451.2 500.2,451.6 502.8,452.1 505.4,452.7 508,453.2 510.6,453.6 513.2,453.4 515.8,453.2 518.4,453.9 521,454.7 523.6,454.7 526.2,453.9 528.8,453.1 531.4,452.1 534,451.6 536.6,451.5 539.2,451.8 541.8,452.7 544.4,453.7 547,454.8 549.6,455.6 552.2,455.3 554.8,455 557.4,455.2 560,455.5 562.6,455.9 565.2,456.1 567.8,455.9 570.4,455.5 573,454.7 575.6,453.9 578.2,453.3 580.8,452.9 583.4,452.9 586,453.3 588.6,453.8 591.2,454 593.8,454.1 596.4,453.6 599,453.4 601.6,453.9 604.2,454.4 606.8,454.2 609.4,454 612,454.3 614.6,454.7 617.2,454.3 619.8,453.9 622.4,453.7 625,453.6 627.6,453.8 630.2,454 632.8,454.3 635.4,454.6 638,454.5 640.6,453.7 643.2,453.1 645.8,453.2 648.4,453.4 651,453.6 653.6,453.8 656.2,454.5 658.8,455.3 661.4,455.1 664,454.9 666.6,455.1 669.2,455.3 671.8,455.3 674.4,455.3 677,455.4 679.6,455.5 682.2,455.5 684.8,455.1 687.4,454.9 690,455.1 692.6,455.3 695.2,455.4 697.8,455.5 700.4,455.8 702,456 706.5,456.3 711,455.9 715.5,455.6 720,456.1 724.5,456.9 729,457.2 733.5,457.2 738,457 742.5,456.6 747,456.6 751.5,456.3 756,456.4 760.5,457.1 765,457.9 769.5,457.4 774,456.8 778.5,457 783,457.2 787.5,457.5 792,457.9 796.5,457.8 801,457.5 805.5,457.2 810,456.8 814.5,457.2 819,457.5 823.5,458 828,458 832.5,457.6 837,457.3 841.5,456.9 846,456.5 850.5,456.4 855,456.8 859.5,457.2 864,457.3 868.5,457.3 871,457.4"/>
<polygon fill="#ffd200" points="871,220.7 861,219.6 855,218.9 849,218.3 843,217.8 837,217.3 831,216.7 825,216.3 819,215.9 813,215.5 807,215.1 801,214.7 795,214.3 789,214 783,213.8 777,213.5 771,213.2 765,212.9 759,212.7 753,212.4 747,212.1 741,211.9 735,211.6 729,211.2 723,210.9 717,210.6 711,210.3 705,210.1 699,209.8 693,209.5 687,209.2 681,209 675,208.8 669,208.6 663,208.4 657,208.2 651,208 645,207.9 639,207.9 633,207.9 627,207.9 621,207.9 615,207.9 609,207.9 603,207.9 597,207.9 591,208 585,208.1 579,208.2 573,208.4 567,208.6 561,208.8 555,209 549,209.3 543,209.6 537,209.9 531,210.3 525,210.6 519,211 513,211.4 507,211.7 501,212.1 495,212.4 489,212.8 483,213.1 477,213.5 471,213.9 465,214.4 459,214.8 453,215.2 447,215.6 441,215.9 435,216.2 429,216.4 423,216.7 417,217 411,217.3 405,217.7 399,218.1 393,218.5 387,219 381,219.4 375,219.9 369,220.6 363,221.3 357,222 351,222.6 345,223.3 339,224 333,224.7 327,225.5 321,226.2 315,226 309,226.2 303,226.8 297,227.9 291,229.3 285,229.9 279,229.8 273,229.4 267,228.8 261,228.3 255,227.8 249,227.3 243,226.8 237,226.4 231,226 225,225.7 219,225.3 213,225 207,224.9 201,224.5 195,224 189,223.6 183,223.2 177,222.9 171,222.5 165,222.2 159,221.9 153,221.5 153,455.2 157.5,455.1 162,455.1 166.5,455.5 171,455.9 175.5,456.2 180,456.6 184.5,454.1 189,453.6 193.5,454.1 198,454.9 202.5,455.9 207,456.7 211.5,457.3 216,457.4 220.5,455.8 225,453.9 229.5,454.5 234,455.1 238.5,455.7 243,456.3 247.5,456.9 252,456.7 256.5,456.7 261,457.3 265.5,458.4 270,459.3 274.5,459.3 279,459.5 283.5,459.4 288,458.9 292.5,458.2 297,457.3 301.5,456.4 306,455.9 310.5,455.2 315,454 319.5,452.1 324,451.3 328.5,451.7 333,452 337.5,451.7 342,450.9 346.5,450.1 351,449 355.5,445.9 360,445.4 364.5,447 369,449.8 373.5,450.7 378,451.6 382.5,452.1 387,452.6 391.5,453 396,453.6 400.5,454.1 405,454.5 409.5,454.9 414,455.4 418.5,455.9 423,456.4 427.5,457 430,457.1 432.6,457.2 435.2,456.8 437.8,455.1 440.4,453.8 443,452.8 445.6,452.1 448.2,452.1 450.8,452.2 453.4,452.4 456,452.7 458.6,453 461.2,453.3 463.8,453.4 466.4,453.1 469,451.7 471.6,450.9 474.2,451 476.8,451.1 479.4,451.3 482,451.6 484.6,451.3 487.2,450.6 489.8,450.2 492.4,450.1 495,450.2 497.6,450.2 500.2,450.6 502.8,451.1 505.4,451.6 508,452.1 510.6,452.4 513.2,452.3 515.8,452.1 518.4,452.8 521,453.6 523.6,453.6 526.2,452.8 528.8,452 531.4,451.1 534,450.7 536.6,450.6 539.2,450.9 541.8,451.7 544.4,452.7 547,453.7 549.6,454.4 552.2,454.2 554.8,453.9 557.4,454.2 560,454.4 562.6,454.8 565.2,455 567.8,454.8 570.4,454.5 573,453.7 575.6,452.9 578.2,452.4 580.8,452 583.4,452 586,452.4 588.6,452.8 591.2,453 593.8,453.1 596.4,452.7 599,452.5 601.6,453 604.2,453.4 606.8,453.2 609.4,453 612,453.3 614.6,453.6 617.2,453.3 619.8,452.8 622.4,452.7 625,452.6 627.6,452.8 630.2,453 632.8,453.3 635.4,453.5 638,453.4 640.6,452.7 643.2,452.1 645.8,452.2 648.4,452.3 651,452.5 653.6,452.7 656.2,453.4 658.8,454.1 661.4,454 664,453.8 666.6,453.9 669.2,454.1 671.8,454.2 674.4,454.1 677,454.2 679.6,454.4 682.2,454.4 684.8,454 687.4,453.8 690,454 692.6,454.2 695.2,454.3 697.8,454.4 700.4,454.7 702,454.9 706.5,455.1 711,454.8 715.5,454.4 720,454.9 724.5,455.7 729,456 733.5,456 738,455.8 742.5,455.5 747,455.5 751.5,455.2 756,455.3 760.5,456 765,456.7 769.5,456.3 774,455.7 778.5,455.9 783,456.1 787.5,456.4 792,456.7 796.5,456.6 801,456.3 805.5,456 810,455.7 814.5,456 819,456.4 823.5,456.8 828,456.8 832.5,456.5 837,456.1 841.5,455.7 846,455.4 850.5,455.3 855,455.7 859.5,456 864,456.1 868.5,456.1 871,456.2"/>
<polygon fill="#ffc300" points="871,223.8 861,222.6 855,221.9 849,221.3 843,220.7 837,220.1 831,219.6 825,219.1 819,218.7 813,218.3 807,217.9 801,217.5 795,217.1 789,216.8 783,216.6 777,216.3 771,216.1 765,215.8 759,215.5 753,215.3 747,215 741,214.7 735,214.5 729,214.2 723,213.9 717,213.6 711,213.3 705,213 699,212.8 693,212.5 687,212.2 681,212 675,211.9 669,211.7 663,211.5 657,211.3 651,211.1 645,211 639,211 633,211 627,211 621,211 615,211 609,211 603,211 597,211 591,211.1 585,211.2 579,211.3 573,211.5 567,211.7 561,211.9 555,212.1 549,212.3 543,212.6 537,213 531,213.3 525,213.6 519,213.9 513,214.3 507,214.7 501,215 495,215.4 489,215.7 483,216 477,216.3 471,216.8 465,217.3 459,217.7 453,218.1 447,218.5 441,218.9 435,219.2 429,219.5 423,219.8 417,220.2 411,220.6 405,221 399,221.5 393,222 387,222.5 381,223 375,223.6 369,224.4 363,225.1 357,225.9 351,226.6 345,227.3 339,228.1 333,228.8 327,229.7 321,230.4 315,230.3 309,230.6 303,231.4 297,232.6 291,234.2 285,234.8 279,234.7 273,234.1 267,233.4 261,232.7 255,232 249,231.4 243,230.8 237,230.3 231,229.8 225,229.4 219,229 213,228.6 207,228.4 201,228 195,227.5 189,227.1 183,226.6 177,226.3 171,225.9 165,225.6 159,225.2 153,224.9 153,454 157.5,453.9 162,453.9 166.5,454.3 171,454.7 175.5,454.9 180,455.3 184.5,453 189,452.5 193.5,453 198,453.8 202.5,454.7 207,455.5 211.5,456 216,456.1 220.5,454.7 225,452.9 229.5,453.4 234,454 238.5,454.6 243,455.2 247.5,455.7 252,455.6 256.5,455.7 261,456.2 265.5,457.2 270,458.1 274.5,458.1 279,458.3 283.5,458.3 288,457.7 292.5,457 297,456.1 301.5,455.2 306,454.6 310.5,453.8 315,452.4 319.5,450.2 324,449.3 328.5,449.8 333,450.2 337.5,449.9 342,449.1 346.5,448.2 351,447.3 355.5,444.5 360,444.3 364.5,446 369,448.7 373.5,449.7 378,450.5 382.5,451 387,451.4 391.5,451.9 396,452.4 400.5,452.9 405,453.2 409.5,453.7 414,454.1 418.5,454.6 423,455.1 427.5,455.6 430,455.7 432.6,455.8 435.2,455.4 437.8,453.9 440.4,452.6 443,451.7 445.6,451 448.2,451 450.8,451.1 453.4,451.3 456,451.5 458.6,451.8 461.2,452 463.8,452.2 466.4,451.9 469,450.5 471.6,449.8 474.2,449.8 476.8,450 479.4,450.2 482,450.4 484.6,450.2 487.2,449.5 489.8,449.1 492.4,449.1 495,449.1 497.6,449.1 500.2,449.6 502.8,450 505.4,450.5 508,451 510.6,451.3 513.2,451.2 515.8,451 518.4,451.7 521,452.4 523.6,452.4 526.2,451.7 528.8,451 531.4,450.2 534,449.8 536.6,449.7 539.2,450 541.8,450.8 544.4,451.7 547,452.7 549.6,453.3 552.2,453.1 554.8,452.9 557.4,453.1 560,453.3 562.6,453.7 565.2,453.9 567.8,453.7 570.4,453.4 573,452.7 575.6,452 578.2,451.4 580.8,451.1 583.4,451.1 586,451.4 588.6,451.8 591.2,452 593.8,452.1 596.4,451.7 599,451.5 601.6,452 604.2,452.4 606.8,452.2 609.4,452 612,452.3 614.6,452.6 617.2,452.3 619.8,451.8 622.4,451.7 625,451.6 627.6,451.7 630.2,452 632.8,452.2 635.4,452.5 638,452.3 640.6,451.6 643.2,451.1 645.8,451.1 648.4,451.3 651,451.5 653.6,451.7 656.2,452.3 658.8,453 661.4,452.8 664,452.6 666.6,452.8 669.2,453 671.8,453 674.4,453 677,453 679.6,453.2 682.2,453.2 684.8,452.8 687.4,452.6 690,452.9 692.6,453.1 695.2,453.1 697.8,453.2 700.4,453.5 702,453.7 706.5,453.9 711,453.6 715.5,453.3 720,453.8 724.5,454.5 729,454.8 733.5,454.8 738,454.6 742.5,454.3 747,454.3 751.5,454.1 756,454.1 760.5,454.8 765,455.5 769.5,455.1 774,454.6 778.5,454.8 783,455 787.5,455.2 792,455.6 796.5,455.5 801,455.2 805.5,454.9 810,454.6 814.5,454.9 819,455.2 823.5,455.6 828,455.6 832.5,455.3 837,454.9 841.5,454.6 846,454.3 850.5,454.2 855,454.5 859.5,454.8 864,454.9 868.5,454.9 871,455.0"/>
<polygon fill="#ffb400" points="871,227 861,225.7 855,225 849,224.2 843,223.6 837,223 831,222.4 825,222 819,221.6 813,221.1 807,220.7 801,220.3 795,219.9 789,219.7 783,219.4 777,219.1 771,218.9 765,218.6 759,218.4 753,218.1 747,217.9 741,217.6 735,217.3 729,217.1 723,216.8 717,216.5 711,216.3 705,216 699,215.8 693,215.5 687,215.3 681,215.1 675,214.9 669,214.8 663,214.6 657,214.4 651,214.3 645,214.2 639,214.2 633,214.1 627,214.1 621,214.1 615,214.1 609,214.1 603,214.1 597,214.1 591,214.2 585,214.3 579,214.4 573,214.6 567,214.8 561,215 555,215.2 549,215.4 543,215.7 537,216 531,216.3 525,216.6 519,216.9 513,217.3 507,217.6 501,218 495,218.3 489,218.5 483,218.8 477,219.2 471,219.7 465,220.1 459,220.6 453,221 447,221.4 441,221.8 435,222.1 429,222.5 423,222.9 417,223.3 411,223.8 405,224.3 399,224.8 393,225.4 387,226 381,226.6 375,227.3 369,228.1 363,228.9 357,229.7 351,230.5 345,231.3 339,232.1 333,232.9 327,233.8 321,234.6 315,234.7 309,235.1 303,236 297,237.4 291,239.1 285,239.8 279,239.6 273,238.8 267,237.9 261,237.1 255,236.2 249,235.5 243,234.8 237,234.1 231,233.6 225,233.1 219,232.6 213,232.2 207,231.9 201,231.4 195,231 189,230.5 183,230 177,229.6 171,229.3 165,228.9 159,228.5 153,228.2 153,452.8 157.5,452.7 162,452.7 166.5,453.1 171,453.4 175.5,453.7 180,454 184.5,451.8 189,451.4 193.5,451.9 198,452.6 202.5,453.5 207,454.3 211.5,454.7 216,454.9 220.5,453.5 225,451.9 229.5,452.4 234,453 238.5,453.5 243,454.1 247.5,454.6 252,454.5 256.5,454.6 261,455.1 265.5,456.1 270,456.9 274.5,456.9 279,457.1 283.5,457.1 288,456.5 292.5,455.9 297,455 301.5,454 306,453.3 310.5,452.4 315,450.9 319.5,448.3 324,447.3 328.5,447.8 333,448.3 337.5,448 342,447.3 346.5,446.4 351,445.6 355.5,443.2 360,443.3 364.5,445.1 369,447.7 373.5,448.6 378,449.4 382.5,449.9 387,450.3 391.5,450.7 396,451.2 400.5,451.7 405,452 409.5,452.4 414,452.8 418.5,453.2 423,453.7 427.5,454.2 430,454.3 432.6,454.4 435.2,454 437.8,452.6 440.4,451.5 443,450.6 445.6,449.9 448.2,449.9 450.8,450 453.4,450.1 456,450.3 458.6,450.6 461.2,450.8 463.8,450.9 466.4,450.7 469,449.4 471.6,448.7 474.2,448.7 476.8,448.8 479.4,449 482,449.3 484.6,449 487.2,448.4 489.8,448.1 492.4,448.1 495,448.1 497.6,448.1 500.2,448.5 502.8,448.9 505.4,449.4 508,449.9 510.6,450.2 513.2,450 515.8,449.9 518.4,450.5 521,451.2 523.6,451.3 526.2,450.7 528.8,450 531.4,449.2 534,448.9 536.6,448.8 539.2,449.1 541.8,449.8 544.4,450.7 547,451.6 549.6,452.2 552.2,452 554.8,451.8 557.4,452 560,452.2 562.6,452.6 565.2,452.8 567.8,452.6 570.4,452.3 573,451.7 575.6,451 578.2,450.5 580.8,450.2 583.4,450.2 586,450.5 588.6,450.9 591.2,451.1 593.8,451.1 596.4,450.7 599,450.6 601.6,451 604.2,451.3 606.8,451.2 609.4,451 612,451.3 614.6,451.5 617.2,451.2 619.8,450.8 622.4,450.7 625,450.6 627.6,450.7 630.2,450.9 632.8,451.1 635.4,451.4 638,451.2 640.6,450.6 643.2,450.1 645.8,450.1 648.4,450.2 651,450.4 653.6,450.6 656.2,451.2 658.8,451.8 661.4,451.7 664,451.5 666.6,451.6 669.2,451.8 671.8,451.9 674.4,451.8 677,451.9 679.6,452 682.2,452 684.8,451.7 687.4,451.5 690,451.7 692.6,451.9 695.2,452 697.8,452.1 700.4,452.3 702,452.5 706.5,452.7 711,452.4 715.5,452.2 720,452.6 724.5,453.3 729,453.6 733.5,453.6 738,453.5 742.5,453.2 747,453.2 751.5,453 756,453 760.5,453.7 765,454.4 769.5,454 774,453.5 778.5,453.7 783,453.9 787.5,454.1 792,454.4 796.5,454.3 801,454 805.5,453.8 810,453.5 814.5,453.8 819,454.1 823.5,454.4 828,454.4 832.5,454.1 837,453.8 841.5,453.4 846,453.1 850.5,453 855,453.4 859.5,453.6 864,453.7 868.5,453.7 871,453.8"/>
<polygon fill="#ffa500" points="871,230.2 861,228.8 855,228 849,227.2 843,226.5 837,225.9 831,225.3 825,224.8 819,224.4 813,224 807,223.5 801,223.1 795,222.7 789,222.5 783,222.2 777,222 771,221.7 765,221.5 759,221.2 753,221 747,220.7 741,220.5 735,220.2 729,220 723,219.7 717,219.5 711,219.3 705,219 699,218.8 693,218.6 687,218.3 681,218.2 675,218 669,217.8 663,217.7 657,217.5 651,217.4 645,217.3 639,217.3 633,217.3 627,217.3 621,217.2 615,217.2 609,217.2 603,217.2 597,217.3 591,217.4 585,217.5 579,217.6 573,217.7 567,217.9 561,218.1 555,218.3 549,218.5 543,218.7 537,219 531,219.3 525,219.6 519,219.9 513,220.2 507,220.6 501,220.9 495,221.2 489,221.4 483,221.7 477,222.1 471,222.5 465,223 459,223.5 453,223.9 447,224.3 441,224.7 435,225.1 429,225.5 423,225.9 417,226.5 411,227 405,227.6 399,228.2 393,228.9 387,229.6 381,230.3 375,231 369,231.9 363,232.8 357,233.6 351,234.5 345,235.3 339,236.2 333,237.1 327,238 321,238.9 315,239.1 309,239.6 303,240.6 297,242.1 291,244 285,244.7 279,244.5 273,243.6 267,242.5 261,241.5 255,240.5 249,239.6 243,238.8 237,238 231,237.4 225,236.8 219,236.2 213,235.7 207,235.4 201,234.9 195,234.4 189,233.9 183,233.5 177,233 171,232.6 165,232.3 159,231.9 153,231.5 153,451.5 157.5,451.5 162,451.5 166.5,451.8 171,452.2 175.5,452.4 180,452.7 184.5,450.7 189,450.3 193.5,450.8 198,451.5 202.5,452.3 207,453 211.5,453.5 216,453.6 220.5,452.4 225,450.8 229.5,451.3 234,451.9 238.5,452.4 243,453 247.5,453.5 252,453.4 256.5,453.5 261,454 265.5,454.9 270,455.7 274.5,455.7 279,455.9 283.5,455.9 288,455.4 292.5,454.7 297,453.8 301.5,452.8 306,452 310.5,451 315,449.3 319.5,446.4 324,445.2 328.5,445.9 333,446.4 337.5,446.2 342,445.4 346.5,444.5 351,443.8 355.5,441.8 360,442.2 364.5,444.2 369,446.7 373.5,447.6 378,448.3 382.5,448.8 387,449.2 391.5,449.5 396,450 400.5,450.4 405,450.7 409.5,451.1 414,451.5 418.5,451.9 423,452.4 427.5,452.8 430,452.9 432.6,453 435.2,452.7 437.8,451.3 440.4,450.3 443,449.4 445.6,448.8 448.2,448.8 450.8,448.9 453.4,449 456,449.2 458.6,449.4 461.2,449.6 463.8,449.7 466.4,449.4 469,448.2 471.6,447.5 474.2,447.6 476.8,447.7 479.4,447.9 482,448.1 484.6,447.9 487.2,447.4 489.8,447 492.4,447 495,447.1 497.6,447.1 500.2,447.5 502.8,447.9 505.4,448.3 508,448.8 510.6,449.1 513.2,448.9 515.8,448.8 518.4,449.4 521,450.1 523.6,450.1 526.2,449.6 528.8,449 531.4,448.3 534,448 536.6,447.9 539.2,448.2 541.8,448.9 544.4,449.7 547,450.5 549.6,451.1 552.2,450.9 554.8,450.7 557.4,450.9 560,451.1 562.6,451.5 565.2,451.7 567.8,451.5 570.4,451.2 573,450.7 575.6,450 578.2,449.6 580.8,449.3 583.4,449.3 586,449.6 588.6,449.9 591.2,450.1 593.8,450.1 596.4,449.8 599,449.6 601.6,450 604.2,450.3 606.8,450.2 609.4,450 612,450.2 614.6,450.5 617.2,450.2 619.8,449.8 622.4,449.7 625,449.6 627.6,449.7 630.2,449.9 632.8,450.1 635.4,450.3 638,450.2 640.6,449.5 643.2,449.1 645.8,449.1 648.4,449.2 651,449.3 653.6,449.5 656.2,450.1 658.8,450.6 661.4,450.5 664,450.4 666.6,450.5 669.2,450.7 671.8,450.7 674.4,450.7 677,450.7 679.6,450.9 682.2,450.9 684.8,450.6 687.4,450.4 690,450.6 692.6,450.8 695.2,450.8 697.8,450.9 700.4,451.1 702,451.3 706.5,451.5 711,451.3 715.5,451.1 720,451.5 724.5,452.1 729,452.4 733.5,452.4 738,452.3 742.5,452.1 747,452.1 751.5,451.9 756,451.9 760.5,452.5 765,453.2 769.5,452.8 774,452.4 778.5,452.6 783,452.7 787.5,452.9 792,453.2 796.5,453.1 801,452.9 805.5,452.6 810,452.4 814.5,452.6 819,452.9 823.5,453.2 828,453.2 832.5,452.9 837,452.6 841.5,452.3 846,452 850.5,451.9 855,452.2 859.5,452.4 864,452.5 868.5,452.5 871,452.6"/>
<polygon fill="#ff9900" points="871,233.3 861,231.9 855,231 849,230.1 843,229.5 837,228.8 831,228.1 825,227.7 819,227.2 813,226.8 807,226.3 801,225.9 795,225.5 789,225.3 783,225 777,224.8 771,224.5 765,224.3 759,224.1 753,223.8 747,223.6 741,223.3 735,223.1 729,222.9 723,222.6 717,222.4 711,222.2 705,222 699,221.8 693,221.6 687,221.4 681,221.2 675,221.1 669,220.9 663,220.8 657,220.6 651,220.5 645,220.4 639,220.4 633,220.4 627,220.4 621,220.4 615,220.3 609,220.3 603,220.3 597,220.4 591,220.5 585,220.6 579,220.7 573,220.8 567,221 561,221.1 555,221.3 549,221.5 543,221.8 537,222.1 531,222.3 525,222.6 519,222.9 513,223.2 507,223.5 501,223.8 495,224.1 489,224.3 483,224.6 477,224.9 471,225.4 465,225.9 459,226.3 453,226.8 447,227.2 441,227.6 435,228.1 429,228.6 423,229 417,229.6 411,230.3 405,230.9 399,231.6 393,232.3 387,233.1 381,233.9 375,234.7 369,235.7 363,236.6 357,237.5 351,238.4 345,239.3 339,240.3 333,241.2 327,242.2 321,243.1 315,243.4 309,244 303,245.2 297,246.9 291,248.9 285,249.7 279,249.4 273,248.3 267,247 261,245.9 255,244.7 249,243.7 243,242.8 237,241.9 231,241.2 225,240.5 219,239.9 213,239.3 207,238.9 201,238.4 195,237.9 189,237.4 183,236.9 177,236.4 171,236 165,235.6 159,235.2 153,234.8 153,450.3 157.5,450.3 162,450.3 166.5,450.6 171,450.9 175.5,451.1 180,451.4 184.5,449.6 189,449.3 193.5,449.7 198,450.3 202.5,451.1 207,451.8 211.5,452.2 216,452.3 220.5,451.2 225,449.8 229.5,450.3 234,450.8 238.5,451.3 243,451.9 247.5,452.3 252,452.2 256.5,452.4 261,452.9 265.5,453.7 270,454.5 274.5,454.5 279,454.7 283.5,454.7 288,454.2 292.5,453.5 297,452.6 301.5,451.6 306,450.8 310.5,449.6 315,447.7 319.5,444.5 324,443.2 328.5,443.9 333,444.6 337.5,444.4 342,443.6 346.5,442.6 351,442.1 355.5,440.5 360,441.2 364.5,443.2 369,445.6 373.5,446.5 378,447.2 382.5,447.7 387,448 391.5,448.4 396,448.8 400.5,449.2 405,449.5 409.5,449.8 414,450.2 418.5,450.6 423,451 427.5,451.4 430,451.5 432.6,451.6 435.2,451.3 437.8,450.1 440.4,449.1 443,448.3 445.6,447.7 448.2,447.7 450.8,447.8 453.4,447.9 456,448 458.6,448.2 461.2,448.4 463.8,448.4 466.4,448.2 469,447 471.6,446.4 474.2,446.4 476.8,446.5 479.4,446.7 482,447 484.6,446.8 487.2,446.3 489.8,446 492.4,446 495,446 497.6,446.1 500.2,446.4 502.8,446.8 505.4,447.3 508,447.6 510.6,447.9 513.2,447.8 515.8,447.7 518.4,448.3 521,448.9 523.6,449 526.2,448.5 528.8,447.9 531.4,447.3 534,447.1 536.6,447 539.2,447.3 541.8,447.9 544.4,448.7 547,449.5 549.6,450 552.2,449.8 554.8,449.7 557.4,449.9 560,450.1 562.6,450.4 565.2,450.6 567.8,450.4 570.4,450.2 573,449.6 575.6,449.1 578.2,448.7 580.8,448.4 583.4,448.4 586,448.7 588.6,449 591.2,449.1 593.8,449.1 596.4,448.8 599,448.7 601.6,449 604.2,449.3 606.8,449.2 609.4,449 612,449.2 614.6,449.4 617.2,449.2 619.8,448.8 622.4,448.7 625,448.6 627.6,448.7 630.2,448.8 632.8,449 635.4,449.2 638,449.1 640.6,448.5 643.2,448 645.8,448.1 648.4,448.2 651,448.3 653.6,448.4 656.2,448.9 658.8,449.5 661.4,449.4 664,449.2 666.6,449.3 669.2,449.5 671.8,449.5 674.4,449.5 677,449.6 679.6,449.7 682.2,449.7 684.8,449.4 687.4,449.3 690,449.5 692.6,449.6 695.2,449.7 697.8,449.8 700.4,450 702,450.1 706.5,450.3 711,450.1 715.5,449.9 720,450.3 724.5,450.9 729,451.2 733.5,451.2 738,451.1 742.5,450.9 747,450.9 751.5,450.8 756,450.8 760.5,451.4 765,452 769.5,451.7 774,451.3 778.5,451.5 783,451.6 787.5,451.8 792,452.1 796.5,452 801,451.7 805.5,451.5 810,451.3 814.5,451.5 819,451.8 823.5,452 828,452.1 832.5,451.7 837,451.4 841.5,451.1 846,450.9 850.5,450.7 855,451 859.5,451.3 864,451.3 868.5,451.3 871,451.4"/>
<polygon fill="#ff8f00" points="871,236.5 861,234.9 855,234 849,233.1 843,232.4 837,231.7 831,231 825,230.5 819,230 813,229.6 807,229.1 801,228.7 795,228.3 789,228.1 783,227.8 777,227.6 771,227.4 765,227.1 759,226.9 753,226.7 747,226.4 741,226.2 735,226 729,225.8 723,225.6 717,225.4 711,225.2 705,225 699,224.8 693,224.6 687,224.5 681,224.3 675,224.2 669,224 663,223.9 657,223.7 651,223.6 645,223.5 639,223.5 633,223.5 627,223.5 621,223.5 615,223.5 609,223.4 603,223.4 597,223.5 591,223.6 585,223.7 579,223.8 573,223.9 567,224 561,224.2 555,224.4 549,224.6 543,224.8 537,225.1 531,225.3 525,225.6 519,225.9 513,226.1 507,226.4 501,226.7 495,227 489,227.2 483,227.5 477,227.8 471,228.3 465,228.8 459,229.2 453,229.6 447,230.1 441,230.6 435,231.1 429,231.6 423,232.1 417,232.8 411,233.5 405,234.2 399,234.9 393,235.8 387,236.6 381,237.5 375,238.4 369,239.4 363,240.4 357,241.4 351,242.4 345,243.3 339,244.3 333,245.3 327,246.3 321,247.3 315,247.8 309,248.5 303,249.9 297,251.7 291,253.8 285,254.6 279,254.2 273,253.1 267,251.6 261,250.3 255,249 249,247.7 243,246.8 237,245.8 231,245 225,244.2 219,243.5 213,242.8 207,242.5 201,241.9 195,241.4 189,240.8 183,240.3 177,239.8 171,239.4 165,239 159,238.5 153,238.1 153,449.1 157.5,449.1 162,449.1 166.5,449.4 171,449.7 175.5,449.9 180,450.2 184.5,448.5 189,448.2 193.5,448.6 198,449.2 202.5,449.9 207,450.5 211.5,450.9 216,451.1 220.5,450 225,448.8 229.5,449.2 234,449.8 238.5,450.3 243,450.7 247.5,451.2 252,451.1 256.5,451.3 261,451.7 265.5,452.6 270,453.2 274.5,453.3 279,453.5 283.5,453.5 288,453 292.5,452.4 297,451.4 301.5,450.4 306,449.5 310.5,448.2 315,446.1 319.5,442.6 324,441.2 328.5,442 333,442.7 337.5,442.6 342,441.7 346.5,440.8 351,440.3 355.5,439.2 360,440.1 364.5,442.3 369,444.6 373.5,445.4 378,446.1 382.5,446.5 387,446.9 391.5,447.2 396,447.6 400.5,448 405,448.2 409.5,448.5 414,448.9 418.5,449.2 423,449.6 427.5,450 430,450.1 432.6,450.2 435.2,449.9 437.8,448.8 440.4,447.9 443,447.2 445.6,446.7 448.2,446.6 450.8,446.7 453.4,446.7 456,446.8 458.6,447 461.2,447.1 463.8,447.2 466.4,446.9 469,445.9 471.6,445.3 474.2,445.3 476.8,445.4 479.4,445.6 482,445.8 484.6,445.6 487.2,445.2 489.8,444.9 492.4,445 495,445 497.6,445.1 500.2,445.4 502.8,445.7 505.4,446.2 508,446.5 510.6,446.8 513.2,446.7 515.8,446.7 518.4,447.2 521,447.8 523.6,447.8 526.2,447.4 528.8,446.9 531.4,446.4 534,446.1 536.6,446.1 539.2,446.4 541.8,447 544.4,447.7 547,448.4 549.6,448.9 552.2,448.8 554.8,448.6 557.4,448.8 560,449 562.6,449.2 565.2,449.4 567.8,449.3 570.4,449.1 573,448.6 575.6,448.1 578.2,447.7 580.8,447.5 583.4,447.5 586,447.7 588.6,448 591.2,448.1 593.8,448.2 596.4,447.9 599,447.7 601.6,448 604.2,448.3 606.8,448.1 609.4,448 612,448.2 614.6,448.4 617.2,448.1 619.8,447.8 622.4,447.7 625,447.6 627.6,447.7 630.2,447.8 632.8,447.9 635.4,448.1 638,448 640.6,447.4 643.2,447 645.8,447 648.4,447.1 651,447.2 653.6,447.4 656.2,447.8 658.8,448.3 661.4,448.2 664,448.1 666.6,448.2 669.2,448.4 671.8,448.4 674.4,448.4 677,448.4 679.6,448.5 682.2,448.5 684.8,448.3 687.4,448.2 690,448.3 692.6,448.5 695.2,448.5 697.8,448.6 700.4,448.8 702,448.9 706.5,449.1 711,449 715.5,448.8 720,449.2 724.5,449.7 729,450 733.5,450 738,449.9 742.5,449.8 747,449.8 751.5,449.6 756,449.7 760.5,450.2 765,450.8 769.5,450.5 774,450.2 778.5,450.3 783,450.5 787.5,450.6 792,450.9 796.5,450.8 801,450.6 805.5,450.4 810,450.2 814.5,450.4 819,450.6 823.5,450.9 828,450.9 832.5,450.6 837,450.3 841.5,450 846,449.7 850.5,449.6 855,449.9 859.5,450.1 864,450.1 868.5,450.1 871,450.2"/>
<polygon fill="#ff8400" points="871,239.7 861,238 855,237 849,236 843,235.3 837,234.6 831,233.8 825,233.3 819,232.9 813,232.4 807,232 801,231.5 795,231.1 789,230.9 783,230.7 777,230.4 771,230.2 765,230 759,229.8 753,229.5 747,229.3 741,229.1 735,228.9 729,228.7 723,228.5 717,228.3 711,228.2 705,228 699,227.8 693,227.7 687,227.5 681,227.4 675,227.2 669,227.1 663,227 657,226.9 651,226.7 645,226.7 639,226.6 633,226.6 627,226.6 621,226.6 615,226.6 609,226.6 603,226.5 597,226.6 591,226.7 585,226.8 579,226.9 573,227 567,227.1 561,227.3 555,227.5 549,227.6 543,227.9 537,228.1 531,228.3 525,228.6 519,228.8 513,229.1 507,229.4 501,229.6 495,229.9 489,230.1 483,230.3 477,230.7 471,231.2 465,231.6 459,232.1 453,232.5 447,232.9 441,233.5 435,234.1 429,234.6 423,235.2 417,235.9 411,236.7 405,237.5 399,238.3 393,239.2 387,240.2 381,241.1 375,242.1 369,243.2 363,244.2 357,245.3 351,246.3 345,247.3 339,248.4 333,249.4 327,250.5 321,251.6 315,252.2 309,253 303,254.5 297,256.4 291,258.7 285,259.6 279,259.1 273,257.8 267,256.2 261,254.7 255,253.2 249,251.8 243,250.8 237,249.7 231,248.8 225,248 219,247.1 213,246.4 207,246 201,245.4 195,244.8 189,244.2 183,243.7 177,243.2 171,242.8 165,242.3 159,241.9 153,241.4 153,447.9 157.5,447.9 162,447.9 166.5,448.2 171,448.4 175.5,448.6 180,448.9 184.5,447.4 189,447.1 193.5,447.5 198,448.1 202.5,448.7 207,449.3 211.5,449.7 216,449.8 220.5,448.9 225,447.8 229.5,448.2 234,448.7 238.5,449.2 243,449.6 247.5,450 252,450 256.5,450.2 261,450.6 265.5,451.4 270,452 274.5,452.1 279,452.3 283.5,452.3 288,451.8 292.5,451.2 297,450.3 301.5,449.2 306,448.2 310.5,446.8 315,444.5 319.5,440.6 324,439 328.5,439.9 333,440.8 337.5,440.9 342,440.3 346.5,439.5 351,439.3 355.5,438.4 360,439.4 364.5,441.5 369,443.6 373.5,444.4 378,445 382.5,445.4 387,445.7 391.5,446 396,446.4 400.5,446.7 405,447 409.5,447.3 414,447.6 418.5,447.9 423,448.3 427.5,448.6 430,448.7 432.6,448.8 435.2,448.6 437.8,447.6 440.4,446.8 443,446.1 445.6,445.6 448.2,445.5 450.8,445.5 453.4,445.6 456,445.7 458.6,445.8 461.2,445.9 463.8,445.9 466.4,445.7 469,444.7 471.6,444.2 474.2,444.1 476.8,444.2 479.4,444.4 482,444.6 484.6,444.5 487.2,444.1 489.8,443.9 492.4,443.9 495,444 497.6,444 500.2,444.3 502.8,444.7 505.4,445.1 508,445.4 510.6,445.7 513.2,445.6 515.8,445.6 518.4,446.1 521,446.6 523.6,446.7 526.2,446.3 528.8,445.9 531.4,445.4 534,445.2 536.6,445.2 539.2,445.4 541.8,446 544.4,446.7 547,447.3 549.6,447.8 552.2,447.7 554.8,447.5 557.4,447.7 560,447.9 562.6,448.1 565.2,448.3 567.8,448.2 570.4,448 573,447.6 575.6,447.1 578.2,446.8 580.8,446.6 583.4,446.6 586,446.8 588.6,447 591.2,447.2 593.8,447.2 596.4,446.9 599,446.8 601.6,447 604.2,447.3 606.8,447.1 609.4,447 612,447.2 614.6,447.3 617.2,447.1 619.8,446.8 622.4,446.7 625,446.6 627.6,446.6 630.2,446.7 632.8,446.9 635.4,447 638,446.9 640.6,446.4 643.2,446 645.8,446 648.4,446.1 651,446.2 653.6,446.3 656.2,446.7 658.8,447.2 661.4,447.1 664,447 666.6,447.1 669.2,447.2 671.8,447.2 674.4,447.2 677,447.3 679.6,447.4 682.2,447.4 684.8,447.1 687.4,447 690,447.2 692.6,447.3 695.2,447.4 697.8,447.4 700.4,447.6 702,447.8 706.5,447.9 711,447.8 715.5,447.7 720,448 724.5,448.5 729,448.8 733.5,448.8 738,448.8 742.5,448.6 747,448.7 751.5,448.5 756,448.6 760.5,449.1 765,449.6 769.5,449.4 774,449.1 778.5,449.2 783,449.4 787.5,449.5 792,449.7 796.5,449.6 801,449.4 805.5,449.3 810,449.1 814.5,449.3 819,449.5 823.5,449.7 828,449.7 832.5,449.4 837,449.1 841.5,448.8 846,448.6 850.5,448.5 855,448.7 859.5,448.9 864,448.9 868.5,448.9 871,449.0"/>
<polygon fill="#ff7500" points="871,242.9 861,241.1 855,240 849,239 843,238.2 837,237.5 831,236.7 825,236.2 819,235.7 813,235.2 807,234.8 801,234.3 795,233.9 789,233.7 783,233.5 777,233.3 771,233 765,232.8 759,232.6 753,232.4 747,232.2 741,231.9 735,231.8 729,231.6 723,231.4 717,231.3 711,231.1 705,231 699,230.8 693,230.7 687,230.6 681,230.4 675,230.3 669,230.2 663,230.1 657,230 651,229.8 645,229.8 639,229.8 633,229.7 627,229.7 621,229.7 615,229.7 609,229.7 603,229.7 597,229.7 591,229.8 585,229.9 579,230 573,230.1 567,230.2 561,230.4 555,230.6 549,230.7 543,230.9 537,231.1 531,231.4 525,231.6 519,231.8 513,232.1 507,232.3 501,232.6 495,232.8 489,233 483,233.2 477,233.5 471,234 465,234.5 459,235 453,235.4 447,235.8 441,236.4 435,237.1 429,237.7 423,238.3 417,239.1 411,239.9 405,240.8 399,241.7 393,242.7 387,243.7 381,244.7 375,245.8 369,247 363,248.1 357,249.1 351,250.2 345,251.3 339,252.4 333,253.5 327,254.7 321,255.8 315,256.5 309,257.4 303,259.1 297,261.2 291,263.6 285,264.6 279,264 273,262.5 267,260.7 261,259.1 255,257.4 249,255.9 243,254.7 237,253.6 231,252.6 225,251.7 219,250.8 213,250 207,249.5 201,248.9 195,248.3 189,247.7 183,247.1 177,246.6 171,246.1 165,245.7 159,245.2 153,244.7 153,446.7 157.5,446.7 162,446.7 166.5,446.9 171,447.2 175.5,447.4 180,447.6 184.5,446.3 189,446.1 193.5,446.4 198,446.9 202.5,447.5 207,448.1 211.5,448.4 216,448.5 220.5,447.7 225,446.8 229.5,447.2 234,447.6 238.5,448.1 243,448.5 247.5,448.9 252,448.9 256.5,449.1 261,449.5 265.5,450.2 270,450.8 274.5,450.9 279,451.1 283.5,451.1 288,450.6 292.5,450.1 297,449.1 301.5,448 306,447 310.5,445.4 315,442.9 319.5,438.7 324,436.8 328.5,437.7 333,438.8 337.5,439.2 342,438.9 346.5,438.5 351,438.4 355.5,437.7 360,438.7 364.5,440.7 369,442.6 373.5,443.3 378,443.9 382.5,444.3 387,444.6 391.5,444.9 396,445.2 400.5,445.5 405,445.7 409.5,446 414,446.3 418.5,446.6 423,446.9 427.5,447.2 430,447.3 432.6,447.4 435.2,447.2 437.8,446.3 440.4,445.6 443,445 445.6,444.5 448.2,444.4 450.8,444.4 453.4,444.4 456,444.5 458.6,444.6 461.2,444.7 463.8,444.7 466.4,444.4 469,443.6 471.6,443.1 474.2,443 476.8,443.1 479.4,443.3 482,443.5 484.6,443.4 487.2,443 489.8,442.9 492.4,442.9 495,443 497.6,443 500.2,443.3 502.8,443.6 505.4,444 508,444.3 510.6,444.5 513.2,444.5 515.8,444.5 518.4,444.9 521,445.5 523.6,445.5 526.2,445.2 528.8,444.9 531.4,444.4 534,444.3 536.6,444.3 539.2,444.5 541.8,445.1 544.4,445.7 547,446.3 549.6,446.7 552.2,446.6 554.8,446.5 557.4,446.6 560,446.8 562.6,447 565.2,447.2 567.8,447.1 570.4,447 573,446.6 575.6,446.2 578.2,445.9 580.8,445.7 583.4,445.7 586,445.9 588.6,446.1 591.2,446.2 593.8,446.2 596.4,445.9 599,445.8 601.6,446.1 604.2,446.3 606.8,446.1 609.4,446 612,446.2 614.6,446.3 617.2,446.1 619.8,445.8 622.4,445.7 625,445.6 627.6,445.6 630.2,445.7 632.8,445.8 635.4,445.9 638,445.8 640.6,445.3 643.2,445 645.8,445 648.4,445 651,445.1 653.6,445.2 656.2,445.6 658.8,446 661.4,445.9 664,445.8 666.6,445.9 669.2,446.1 671.8,446.1 674.4,446.1 677,446.1 679.6,446.2 682.2,446.2 684.8,446 687.4,445.9 690,446.1 692.6,446.2 695.2,446.2 697.8,446.3 700.4,446.5 702,446.6 706.5,446.8 711,446.7 715.5,446.5 720,446.9 724.5,447.3 729,447.6 733.5,447.6 738,447.6 742.5,447.5 747,447.5 751.5,447.4 756,447.5 760.5,447.9 765,448.4 769.5,448.2 774,448 778.5,448.1 783,448.2 787.5,448.4 792,448.6 796.5,448.5 801,448.3 805.5,448.1 810,448 814.5,448.1 819,448.3 823.5,448.5 828,448.5 832.5,448.2 837,447.9 841.5,447.7 846,447.4 850.5,447.3 855,447.5 859.5,447.7 864,447.7 868.5,447.7 871,447.8"/>
<polygon fill="#ff6600" points="871,246 861,244.1 855,243 849,241.9 843,241.2 837,240.4 831,239.6 825,239 819,238.5 813,238.1 807,237.6 801,237.1 795,236.7 789,236.5 783,236.3 777,236.1 771,235.9 765,235.7 759,235.4 753,235.2 747,235 741,234.8 735,234.7 729,234.5 723,234.4 717,234.2 711,234.1 705,234 699,233.9 693,233.7 687,233.6 681,233.5 675,233.4 669,233.3 663,233.2 657,233.1 651,233 645,232.9 639,232.9 633,232.9 627,232.8 621,232.8 615,232.8 609,232.8 603,232.8 597,232.8 591,232.9 585,233 579,233.1 573,233.2 567,233.3 561,233.5 555,233.6 549,233.8 543,234 537,234.2 531,234.4 525,234.6 519,234.8 513,235 507,235.2 501,235.5 495,235.7 489,235.9 483,236.1 477,236.4 471,236.9 465,237.4 459,237.8 453,238.3 447,238.7 441,239.4 435,240 429,240.7 423,241.4 417,242.2 411,243.2 405,244.1 399,245.1 393,246.1 387,247.2 381,248.4 375,249.5 369,250.7 363,251.9 357,253 351,254.2 345,255.3 339,256.5 333,257.6 327,258.9 321,260 315,260.9 309,261.9 303,263.7 297,265.9 291,268.5 285,269.5 279,268.9 273,267.3 267,265.3 261,263.5 255,261.7 249,260 243,258.7 237,257.4 231,256.4 225,255.4 219,254.4 213,253.5 207,253 201,252.4 195,251.7 189,251.1 183,250.5 177,250 171,249.5 165,249 159,248.5 153,248.0 153,445.5 157.5,445.5 162,445.5 166.5,445.7 171,445.9 175.5,446.1 180,446.3 184.5,445.2 189,445 193.5,445.3 198,445.8 202.5,446.3 207,446.8 211.5,447.1 216,447.3 220.5,446.6 225,445.8 229.5,446.1 234,446.5 238.5,447 243,447.4 247.5,447.8 252,447.8 256.5,448 261,448.4 265.5,449 270,449.6 274.5,449.7 279,449.9 283.5,449.9 288,449.5 292.5,448.9 297,447.9 301.5,446.8 306,445.7 310.5,444 315,441.3 319.5,436.7 324,434.7 328.5,435.6 333,436.9 337.5,437.6 342,437.6 346.5,437.4 351,437.6 355.5,437.1 360,438.1 364.5,439.9 369,441.7 373.5,442.3 378,442.8 382.5,443.2 387,443.5 391.5,443.7 396,444 400.5,444.3 405,444.5 409.5,444.7 414,445 418.5,445.2 423,445.5 427.5,445.8 430,445.9 432.6,446 435.2,445.8 437.8,445.1 440.4,444.4 443,443.9 445.6,443.4 448.2,443.4 450.8,443.3 453.4,443.3 456,443.3 458.6,443.4 461.2,443.4 463.8,443.4 466.4,443.2 469,442.4 471.6,441.9 474.2,441.9 476.8,441.9 479.4,442.1 482,442.3 484.6,442.2 487.2,442 489.8,441.8 492.4,441.9 495,441.9 497.6,442 500.2,442.3 502.8,442.5 505.4,442.9 508,443.2 510.6,443.4 513.2,443.4 515.8,443.4 518.4,443.8 521,444.3 523.6,444.4 526.2,444.1 528.8,443.8 531.4,443.5 534,443.4 536.6,443.4 539.2,443.6 541.8,444.1 544.4,444.7 547,445.2 549.6,445.6 552.2,445.5 554.8,445.4 557.4,445.6 560,445.7 562.6,445.9 565.2,446.1 567.8,446 570.4,445.9 573,445.6 575.6,445.2 578.2,445 580.8,444.8 583.4,444.8 586,444.9 588.6,445.1 591.2,445.2 593.8,445.2 596.4,445 599,444.9 601.6,445.1 604.2,445.2 606.8,445.1 609.4,445 612,445.1 614.6,445.3 617.2,445 619.8,444.8 622.4,444.7 625,444.6 627.6,444.6 630.2,444.7 632.8,444.7 635.4,444.8 638,444.7 640.6,444.3 643.2,444 645.8,444 648.4,444 651,444 653.6,444.2 656.2,444.5 658.8,444.8 661.4,444.8 664,444.7 666.6,444.8 669.2,444.9 671.8,444.9 674.4,444.9 677,445 679.6,445.1 682.2,445.1 684.8,444.9 687.4,444.8 690,444.9 692.6,445 695.2,445.1 697.8,445.1 700.4,445.3 702,445.4 706.5,445.6 711,445.5 715.5,445.4 720,445.7 724.5,446.2 729,446.4 733.5,446.4 738,446.4 742.5,446.3 747,446.4 751.5,446.3 756,446.4 760.5,446.8 765,447.2 769.5,447.1 774,446.9 778.5,447 783,447.1 787.5,447.2 792,447.4 796.5,447.3 801,447.2 805.5,447 810,446.9 814.5,447 819,447.1 823.5,447.3 828,447.3 832.5,447 837,446.8 841.5,446.5 846,446.3 850.5,446.2 855,446.4 859.5,446.5 864,446.5 868.5,446.5 871,446.6"/>
<polygon fill="#ff5700" points="871,249.2 861,247.2 855,246 849,244.9 843,244.1 837,243.2 831,242.4 825,241.9 819,241.4 813,240.9 807,240.4 801,239.9 795,239.5 789,239.3 783,239.1 777,238.9 771,238.7 765,238.5 759,238.3 753,238.1 747,237.9 741,237.7 735,237.5 729,237.4 723,237.3 717,237.2 711,237.1 705,237 699,236.9 693,236.8 687,236.7 681,236.6 675,236.5 669,236.4 663,236.3 657,236.2 651,236.1 645,236 639,236 633,236 627,236 621,235.9 615,235.9 609,235.9 603,235.9 597,235.9 591,236 585,236.1 579,236.2 573,236.3 567,236.4 561,236.6 555,236.7 549,236.8 543,237 537,237.2 531,237.4 525,237.6 519,237.8 513,238 507,238.2 501,238.4 495,238.6 489,238.8 483,239 477,239.3 471,239.8 465,240.2 459,240.7 453,241.2 447,241.6 441,242.3 435,243 429,243.7 423,244.5 417,245.4 411,246.4 405,247.4 399,248.4 393,249.6 387,250.8 381,252 375,253.2 369,254.5 363,255.7 357,256.9 351,258.1 345,259.3 339,260.6 333,261.8 327,263 321,264.3 315,265.2 309,266.3 303,268.3 297,270.7 291,273.4 285,274.5 279,273.8 273,272 267,269.9 261,267.9 255,265.9 249,264.1 243,262.7 237,261.3 231,260.2 225,259.1 219,258 213,257.1 207,256.5 201,255.9 195,255.2 189,254.6 183,253.9 177,253.4 171,252.9 165,252.4 159,251.8 153,251.3 153,444.3 157.5,444.3 162,444.3 166.5,444.5 171,444.7 175.5,444.8 180,445 184.5,444.1 189,443.9 193.5,444.2 198,444.6 202.5,445.1 207,445.6 211.5,445.9 216,446 220.5,445.4 225,444.7 229.5,445.1 234,445.5 238.5,445.9 243,446.3 247.5,446.6 252,446.7 256.5,446.9 261,447.3 265.5,447.9 270,448.4 274.5,448.5 279,448.7 283.5,448.7 288,448.3 292.5,447.7 297,446.7 301.5,445.6 306,444.4 310.5,442.6 315,439.7 319.5,434.7 324,432.5 328.5,433.5 333,435 337.5,435.9 342,436.2 346.5,436.3 351,436.7 355.5,436.4 360,437.4 364.5,439.1 369,440.7 373.5,441.3 378,441.7 382.5,442.1 387,442.3 391.5,442.5 396,442.8 400.5,443 405,443.2 409.5,443.4 414,443.7 418.5,443.9 423,444.2 427.5,444.4 430,444.6 432.6,444.6 435.2,444.5 437.8,443.8 440.4,443.3 443,442.7 445.6,442.3 448.2,442.3 450.8,442.2 453.4,442.2 456,442.2 458.6,442.2 461.2,442.2 463.8,442.2 466.4,442 469,441.2 471.6,440.8 474.2,440.7 476.8,440.8 479.4,441 482,441.2 484.6,441.1 487.2,440.9 489.8,440.8 492.4,440.8 495,440.9 497.6,441 500.2,441.2 502.8,441.5 505.4,441.8 508,442.1 510.6,442.3 513.2,442.3 515.8,442.3 518.4,442.7 521,443.1 523.6,443.2 526.2,443 528.8,442.8 531.4,442.5 534,442.5 536.6,442.5 539.2,442.7 541.8,443.2 544.4,443.7 547,444.2 549.6,444.5 552.2,444.4 554.8,444.4 557.4,444.5 560,444.6 562.6,444.8 565.2,445 567.8,444.9 570.4,444.8 573,444.5 575.6,444.2 578.2,444.1 580.8,443.9 583.4,443.9 586,444 588.6,444.2 591.2,444.2 593.8,444.2 596.4,444 599,443.9 601.6,444.1 604.2,444.2 606.8,444.1 609.4,444 612,444.1 614.6,444.2 617.2,444 619.8,443.8 622.4,443.6 625,443.6 627.6,443.6 630.2,443.6 632.8,443.7 635.4,443.7 638,443.6 640.6,443.2 643.2,443 645.8,442.9 648.4,442.9 651,443 653.6,443.1 656.2,443.4 658.8,443.7 661.4,443.6 664,443.6 666.6,443.6 669.2,443.7 671.8,443.8 674.4,443.8 677,443.8 679.6,443.9 682.2,443.9 684.8,443.7 687.4,443.7 690,443.8 692.6,443.9 695.2,443.9 697.8,444 700.4,444.1 702,444.2 706.5,444.4 711,444.3 715.5,444.3 720,444.6 724.5,445 729,445.2 733.5,445.2 738,445.2 742.5,445.2 747,445.2 751.5,445.2 756,445.3 760.5,445.7 765,446 769.5,445.9 774,445.7 778.5,445.9 783,446 787.5,446.1 792,446.2 796.5,446.2 801,446 805.5,445.9 810,445.8 814.5,445.9 819,446 823.5,446.1 828,446.1 832.5,445.8 837,445.6 841.5,445.4 846,445.2 850.5,445.1 855,445.2 859.5,445.3 864,445.3 868.5,445.3 871,445.3"/>
<polygon fill="#ff4700" points="871,252.4 861,250.3 855,249 849,247.9 843,247 837,246.1 831,245.3 825,244.7 819,244.2 813,243.7 807,243.2 801,242.7 795,242.3 789,242.1 783,241.9 777,241.7 771,241.5 765,241.3 759,241.1 753,240.9 747,240.7 741,240.5 735,240.4 729,240.3 723,240.2 717,240.1 711,240.1 705,240 699,239.9 693,239.8 687,239.7 681,239.6 675,239.5 669,239.5 663,239.4 657,239.3 651,239.2 645,239.1 639,239.1 633,239.1 627,239.1 621,239.1 615,239 609,239 603,239 597,239 591,239.1 585,239.2 579,239.3 573,239.4 567,239.5 561,239.6 555,239.8 549,239.9 543,240.1 537,240.2 531,240.4 525,240.6 519,240.7 513,240.9 507,241.1 501,241.3 495,241.5 489,241.7 483,241.8 477,242.2 471,242.6 465,243.1 459,243.6 453,244 447,244.5 441,245.2 435,246 429,246.8 423,247.6 417,248.6 411,249.6 405,250.7 399,251.8 393,253 387,254.3 381,255.6 375,256.9 369,258.2 363,259.5 357,260.8 351,262.1 345,263.3 339,264.6 333,265.9 327,267.2 321,268.5 315,269.6 309,270.8 303,272.9 297,275.4 291,278.4 285,279.4 279,278.7 273,276.8 267,274.4 261,272.3 255,270.1 249,268.2 243,266.7 237,265.2 231,264 225,262.8 219,261.7 213,260.6 207,260 201,259.4 195,258.7 189,258 183,257.3 177,256.8 171,256.3 165,255.7 159,255.2 153,254.6 153,443.1 157.5,443.1 162,443.1 166.5,443.3 171,443.4 175.5,443.6 180,443.7 184.5,442.9 189,442.9 193.5,443.1 198,443.5 202.5,443.9 207,444.3 211.5,444.6 216,444.8 220.5,444.3 225,443.7 229.5,444 234,444.4 238.5,444.8 243,445.2 247.5,445.5 252,445.6 256.5,445.8 261,446.1 265.5,446.7 270,447.2 274.5,447.3 279,447.5 283.5,447.5 288,447.1 292.5,446.6 297,445.6 301.5,444.4 306,443.1 310.5,441.2 315,438.1 319.5,432.7 324,430.3 328.5,431.3 333,433 337.5,434.2 342,434.8 346.5,435.2 351,435.8 355.5,435.8 360,436.7 364.5,438.3 369,439.7 373.5,440.2 378,440.6 382.5,440.9 387,441.2 391.5,441.4 396,441.6 400.5,441.8 405,441.9 409.5,442.1 414,442.3 418.5,442.6 423,442.8 427.5,443.1 430,443.2 432.6,443.2 435.2,443.1 437.8,442.5 440.4,442.1 443,441.6 445.6,441.3 448.2,441.2 450.8,441.1 453.4,441 456,441 458.6,441 461.2,441 463.8,440.9 466.4,440.7 469,440.1 471.6,439.7 474.2,439.6 476.8,439.7 479.4,439.8 482,440 484.6,440 487.2,439.8 489.8,439.7 492.4,439.8 495,439.9 497.6,439.9 500.2,440.2 502.8,440.4 505.4,440.7 508,440.9 510.6,441.1 513.2,441.2 515.8,441.2 518.4,441.6 521,442 523.6,442.1 526.2,441.9 528.8,441.8 531.4,441.6 534,441.5 536.6,441.6 539.2,441.8 541.8,442.2 544.4,442.7 547,443.1 549.6,443.4 552.2,443.3 554.8,443.3 557.4,443.4 560,443.5 562.6,443.7 565.2,443.9 567.8,443.8 570.4,443.7 573,443.5 575.6,443.3 578.2,443.1 580.8,443 583.4,443 586,443.1 588.6,443.2 591.2,443.2 593.8,443.2 596.4,443.1 599,443 601.6,443.1 604.2,443.2 606.8,443.1 609.4,443 612,443.1 614.6,443.2 617.2,443 619.8,442.8 622.4,442.6 625,442.6 627.6,442.5 630.2,442.6 632.8,442.6 635.4,442.6 638,442.5 640.6,442.2 643.2,441.9 645.8,441.9 648.4,441.9 651,441.9 653.6,442 656.2,442.3 658.8,442.5 661.4,442.5 664,442.4 666.6,442.5 669.2,442.6 671.8,442.6 674.4,442.6 677,442.7 679.6,442.7 682.2,442.7 684.8,442.6 687.4,442.6 690,442.6 692.6,442.7 695.2,442.8 697.8,442.8 700.4,442.9 702,443 706.5,443.2 711,443.2 715.5,443.2 720,443.4 724.5,443.8 729,444 733.5,444 738,444.1 742.5,444 747,444.1 751.5,444.1 756,444.2 760.5,444.5 765,444.8 769.5,444.8 774,444.6 778.5,444.8 783,444.9 787.5,444.9 792,445.1 796.5,445 801,444.9 805.5,444.8 810,444.6 814.5,444.7 819,444.8 823.5,444.9 828,444.9 832.5,444.6 837,444.4 841.5,444.2 846,444 850.5,443.9 855,444 859.5,444.1 864,444.1 868.5,444.1 871,444.1"/>
<polygon fill="#ff3800" points="871,255.5 861,253.4 855,252.1 849,250.8 843,249.9 837,249 831,248.1 825,247.5 819,247 813,246.5 807,246 801,245.5 795,245.1 789,244.9 783,244.7 777,244.6 771,244.4 765,244.2 759,244 753,243.8 747,243.6 741,243.4 735,243.3 729,243.2 723,243.2 717,243.1 711,243 705,243 699,242.9 693,242.8 687,242.8 681,242.7 675,242.6 669,242.5 663,242.5 657,242.4 651,242.3 645,242.3 639,242.2 633,242.2 627,242.2 621,242.2 615,242.2 609,242.1 603,242.1 597,242.1 591,242.2 585,242.3 579,242.4 573,242.5 567,242.6 561,242.7 555,242.8 549,243 543,243.1 537,243.3 531,243.4 525,243.6 519,243.7 513,243.9 507,244.1 501,244.2 495,244.4 489,244.6 483,244.7 477,245 471,245.5 465,246 459,246.5 453,246.9 447,247.4 441,248.1 435,249 429,249.8 423,250.6 417,251.7 411,252.9 405,254 399,255.2 393,256.5 387,257.9 381,259.2 375,260.6 369,262 363,263.3 357,264.7 351,266 345,267.3 339,268.7 333,270 327,271.4 321,272.8 315,274 309,275.3 303,277.5 297,280.2 291,283.3 285,284.4 279,283.6 273,281.5 267,279 261,276.7 255,274.4 249,272.3 243,270.7 237,269.1 231,267.8 225,266.5 219,265.3 213,264.2 207,263.6 201,262.9 195,262.1 189,261.4 183,260.8 177,260.2 171,259.6 165,259.1 159,258.5 153,257.9 153,441.8 157.5,441.8 162,441.9 166.5,442 171,442.2 175.5,442.3 180,442.4 184.5,441.8 189,441.8 193.5,442 198,442.4 202.5,442.7 207,443.1 211.5,443.3 216,443.5 220.5,443.1 225,442.7 229.5,443 234,443.3 238.5,443.7 243,444 247.5,444.4 252,444.5 256.5,444.7 261,445 265.5,445.5 270,446 274.5,446.1 279,446.3 283.5,446.3 288,445.9 292.5,445.4 297,444.4 301.5,443.2 306,441.9 310.5,439.8 315,436.5 319.5,430.7 324,428.1 328.5,429.2 333,431.1 337.5,432.6 342,433.5 346.5,434.2 351,434.9 355.5,435.1 360,436.1 364.5,437.5 369,438.7 373.5,439.2 378,439.5 382.5,439.8 387,440 391.5,440.2 396,440.4 400.5,440.6 405,440.7 409.5,440.8 414,441 418.5,441.2 423,441.5 427.5,441.7 430,441.8 432.6,441.8 435.2,441.7 437.8,441.3 440.4,440.9 443,440.5 445.6,440.2 448.2,440.1 450.8,440 453.4,439.9 456,439.8 458.6,439.8 461.2,439.8 463.8,439.7 466.4,439.5 469,438.9 471.6,438.6 474.2,438.5 476.8,438.5 479.4,438.7 482,438.8 484.6,438.8 487.2,438.7 489.8,438.7 492.4,438.7 495,438.8 497.6,438.9 500.2,439.1 502.8,439.4 505.4,439.6 508,439.8 510.6,440 513.2,440.1 515.8,440.1 518.4,440.5 521,440.8 523.6,440.9 526.2,440.9 528.8,440.7 531.4,440.6 534,440.6 536.6,440.7 539.2,440.9 541.8,441.3 544.4,441.7 547,442 549.6,442.3 552.2,442.3 554.8,442.2 557.4,442.3 560,442.5 562.6,442.6 565.2,442.7 567.8,442.7 570.4,442.7 573,442.5 575.6,442.3 578.2,442.2 580.8,442.1 583.4,442.1 586,442.2 588.6,442.2 591.2,442.3 593.8,442.3 596.4,442.1 599,442 601.6,442.1 604.2,442.2 606.8,442.1 609.4,442 612,442.1 614.6,442.1 617.2,442 619.8,441.8 622.4,441.6 625,441.6 627.6,441.5 630.2,441.5 632.8,441.5 635.4,441.5 638,441.4 640.6,441.2 643.2,440.9 645.8,440.9 648.4,440.8 651,440.9 653.6,440.9 656.2,441.1 658.8,441.4 661.4,441.3 664,441.3 666.6,441.4 669.2,441.4 671.8,441.5 674.4,441.5 677,441.5 679.6,441.6 682.2,441.6 684.8,441.5 687.4,441.4 690,441.5 692.6,441.6 695.2,441.6 697.8,441.7 700.4,441.8 702,441.9 706.5,442 711,442 715.5,442 720,442.3 724.5,442.6 729,442.8 733.5,442.9 738,442.9 742.5,442.9 747,443 751.5,443 756,443.1 760.5,443.4 765,443.7 769.5,443.6 774,443.5 778.5,443.7 783,443.7 787.5,443.8 792,443.9 796.5,443.8 801,443.7 805.5,443.6 810,443.5 814.5,443.6 819,443.7 823.5,443.7 828,443.7 832.5,443.5 837,443.3 841.5,443.1 846,442.9 850.5,442.8 855,442.9 859.5,442.9 864,442.9 868.5,442.9 871,442.9"/>
<polygon fill="#ff2800" points="871,258.7 861,256.4 855,255.1 849,253.8 843,252.8 837,251.9 831,251 825,250.4 819,249.9 813,249.4 807,248.8 801,248.3 795,247.9 789,247.7 783,247.6 777,247.4 771,247.2 765,247 759,246.8 753,246.6 747,246.5 741,246.3 735,246.2 729,246.2 723,246.1 717,246 711,246 705,246 699,245.9 693,245.9 687,245.8 681,245.8 675,245.7 669,245.6 663,245.6 657,245.5 651,245.4 645,245.4 639,245.4 633,245.3 627,245.3 621,245.3 615,245.3 609,245.3 603,245.2 597,245.3 591,245.3 585,245.4 579,245.5 573,245.6 567,245.7 561,245.8 555,245.9 549,246 543,246.2 537,246.3 531,246.4 525,246.6 519,246.7 513,246.8 507,247 501,247.2 495,247.3 489,247.4 483,247.6 477,247.9 471,248.4 465,248.9 459,249.3 453,249.8 447,250.3 441,251.1 435,252 429,252.8 423,253.7 417,254.9 411,256.1 405,257.3 399,258.5 393,259.9 387,261.4 381,262.9 375,264.3 369,265.8 363,267.2 357,268.6 351,270 345,271.3 339,272.7 333,274.1 327,275.5 321,277 315,278.3 309,279.7 303,282.1 297,285 291,288.2 285,289.4 279,288.5 273,286.2 267,283.5 261,281 255,278.6 249,276.4 243,274.7 237,273 231,271.5 225,270.3 219,269 213,267.8 207,267.1 201,266.3 195,265.6 189,264.9 183,264.2 177,263.6 171,263 165,262.4 159,261.8 153,261.2 153,440.6 157.5,440.6 162,440.7 166.5,440.8 171,440.9 175.5,441 180,441.2 184.5,440.7 189,440.7 193.5,440.9 198,441.2 202.5,441.5 207,441.9 211.5,442.1 216,442.2 220.5,442 225,441.7 229.5,441.9 234,442.3 238.5,442.6 243,442.9 247.5,443.2 252,443.4 256.5,443.6 261,443.9 265.5,444.3 270,444.7 274.5,444.9 279,445.1 283.5,445.1 288,444.7 292.5,444.2 297,443.2 301.5,442 306,440.6 310.5,438.4 315,434.8 319.5,428.7 324,425.9 328.5,427.1 333,429.1 337.5,430.9 342,432.1 346.5,433.1 351,434.1 355.5,434.4 360,435.4 364.5,436.8 369,437.7 373.5,438.1 378,438.4 382.5,438.7 387,438.9 391.5,439 396,439.2 400.5,439.3 405,439.4 409.5,439.6 414,439.7 418.5,439.9 423,440.1 427.5,440.3 430,440.4 432.6,440.4 435.2,440.4 437.8,440 440.4,439.8 443,439.4 445.6,439.1 448.2,439 450.8,438.8 453.4,438.8 456,438.7 458.6,438.6 461.2,438.5 463.8,438.4 466.4,438.2 469,437.8 471.6,437.4 474.2,437.3 476.8,437.4 479.4,437.5 482,437.7 484.6,437.7 487.2,437.6 489.8,437.6 492.4,437.7 495,437.8 497.6,437.9 500.2,438.1 502.8,438.3 505.4,438.5 508,438.7 510.6,438.9 513.2,439 515.8,439.1 518.4,439.4 521,439.7 523.6,439.8 526.2,439.8 528.8,439.7 531.4,439.7 534,439.7 536.6,439.8 539.2,440 541.8,440.3 544.4,440.7 547,441 549.6,441.2 552.2,441.2 554.8,441.2 557.4,441.3 560,441.4 562.6,441.5 565.2,441.6 567.8,441.6 570.4,441.6 573,441.5 575.6,441.4 578.2,441.3 580.8,441.2 583.4,441.2 586,441.2 588.6,441.3 591.2,441.3 593.8,441.3 596.4,441.1 599,441.1 601.6,441.1 604.2,441.2 606.8,441.1 609.4,441 612,441 614.6,441.1 617.2,440.9 619.8,440.7 622.4,440.6 625,440.6 627.6,440.5 630.2,440.5 632.8,440.5 635.4,440.5 638,440.3 640.6,440.1 643.2,439.9 645.8,439.8 648.4,439.8 651,439.8 653.6,439.9 656.2,440 658.8,440.2 661.4,440.2 664,440.2 666.6,440.2 669.2,440.3 671.8,440.3 674.4,440.3 677,440.3 679.6,440.4 682.2,440.4 684.8,440.3 687.4,440.3 690,440.4 692.6,440.4 695.2,440.5 697.8,440.5 700.4,440.6 702,440.7 706.5,440.8 711,440.9 715.5,440.9 720,441.1 724.5,441.4 729,441.6 733.5,441.7 738,441.7 742.5,441.8 747,441.8 751.5,441.9 756,442 760.5,442.2 765,442.5 769.5,442.5 774,442.4 778.5,442.5 783,442.6 787.5,442.6 792,442.7 796.5,442.7 801,442.6 805.5,442.5 810,442.4 814.5,442.5 819,442.5 823.5,442.5 828,442.5 832.5,442.3 837,442.1 841.5,441.9 846,441.8 850.5,441.7 855,441.7 859.5,441.7 864,441.7 868.5,441.7 871,441.7"/>
<polygon fill="#ff1a00" points="871,261.9 861,259.5 855,258.1 849,256.7 843,255.8 837,254.8 831,253.8 825,253.2 819,252.7 813,252.2 807,251.7 801,251.1 795,250.7 789,250.5 783,250.4 777,250.2 771,250 765,249.8 759,249.7 753,249.5 747,249.3 741,249.1 735,249.1 729,249.1 723,249 717,249 711,249 705,248.9 699,248.9 693,248.9 687,248.9 681,248.8 675,248.8 669,248.7 663,248.7 657,248.6 651,248.6 645,248.5 639,248.5 633,248.5 627,248.4 621,248.4 615,248.4 609,248.4 603,248.3 597,248.4 591,248.4 585,248.5 579,248.6 573,248.7 567,248.8 561,248.9 555,249 549,249.1 543,249.2 537,249.3 531,249.4 525,249.5 519,249.7 513,249.8 507,249.9 501,250.1 495,250.2 489,250.3 483,250.5 477,250.8 471,251.2 465,251.7 459,252.2 453,252.7 447,253.2 441,254 435,254.9 429,255.9 423,256.8 417,258 411,259.3 405,260.6 399,261.9 393,263.4 387,264.9 381,266.5 375,268 369,269.5 363,271 357,272.4 351,273.9 345,275.3 339,276.8 333,278.2 327,279.7 321,281.2 315,282.7 309,284.2 303,286.7 297,289.7 291,293.1 285,294.3 279,293.3 273,291 267,288.1 261,285.4 255,282.8 249,280.5 243,278.7 237,276.9 231,275.3 225,274 219,272.6 213,271.3 207,270.6 201,269.8 195,269.1 189,268.3 183,267.6 177,267 171,266.4 165,265.8 159,265.2 153,264.6 153,439.4 157.5,439.4 162,439.5 166.5,439.6 171,439.7 175.5,439.8 180,439.9 184.5,439.6 189,439.6 193.5,439.8 198,440.1 202.5,440.3 207,440.6 211.5,440.8 216,441 220.5,440.8 225,440.7 229.5,440.9 234,441.2 238.5,441.5 243,441.8 247.5,442.1 252,442.3 256.5,442.5 261,442.8 265.5,443.2 270,443.5 274.5,443.7 279,443.9 283.5,443.9 288,443.6 292.5,443.1 297,442 301.5,440.8 306,439.3 310.5,437 315,433.2 319.5,426.8 324,423.8 328.5,424.9 333,427.2 337.5,429.2 342,430.8 346.5,432 351,433.2 355.5,433.8 360,434.7 364.5,436 369,436.7 373.5,437.1 378,437.4 382.5,437.6 387,437.8 391.5,437.9 396,438 400.5,438.1 405,438.2 409.5,438.3 414,438.4 418.5,438.6 423,438.7 427.5,438.9 430,439 432.6,439 435.2,439 437.8,438.8 440.4,438.6 443,438.3 445.6,438 448.2,437.9 450.8,437.7 453.4,437.6 456,437.5 458.6,437.4 461.2,437.3 463.8,437.2 466.4,437 469,436.6 471.6,436.3 474.2,436.2 476.8,436.2 479.4,436.4 482,436.5 484.6,436.6 487.2,436.6 489.8,436.6 492.4,436.7 495,436.8 497.6,436.9 500.2,437.1 502.8,437.2 505.4,437.4 508,437.6 510.6,437.8 513.2,437.9 515.8,438 518.4,438.2 521,438.5 523.6,438.6 526.2,438.7 528.8,438.7 531.4,438.7 534,438.8 536.6,438.9 539.2,439.1 541.8,439.4 544.4,439.7 547,439.9 549.6,440.1 552.2,440.1 554.8,440.1 557.4,440.2 560,440.3 562.6,440.4 565.2,440.5 567.8,440.5 570.4,440.5 573,440.5 575.6,440.4 578.2,440.4 580.8,440.3 583.4,440.3 586,440.3 588.6,440.3 591.2,440.3 593.8,440.3 596.4,440.2 599,440.1 601.6,440.1 604.2,440.2 606.8,440.1 609.4,440 612,440 614.6,440 617.2,439.9 619.8,439.7 622.4,439.6 625,439.5 627.6,439.5 630.2,439.4 632.8,439.4 635.4,439.4 638,439.3 640.6,439.1 643.2,438.9 645.8,438.8 648.4,438.8 651,438.7 653.6,438.8 656.2,438.9 658.8,439.1 661.4,439 664,439 666.6,439.1 669.2,439.1 671.8,439.1 674.4,439.2 677,439.2 679.6,439.2 682.2,439.2 684.8,439.2 687.4,439.2 690,439.2 692.6,439.3 695.2,439.3 697.8,439.4 700.4,439.4 702,439.5 706.5,439.6 711,439.7 715.5,439.8 720,440 724.5,440.2 729,440.4 733.5,440.5 738,440.6 742.5,440.6 747,440.7 751.5,440.8 756,440.9 760.5,441.1 765,441.3 769.5,441.3 774,441.3 778.5,441.4 783,441.5 787.5,441.5 792,441.5 796.5,441.5 801,441.4 805.5,441.4 810,441.3 814.5,441.3 819,441.4 823.5,441.4 828,441.3 832.5,441.1 837,440.9 841.5,440.8 846,440.6 850.5,440.5 855,440.5 859.5,440.6 864,440.5 868.5,440.5 871,440.5"/>
<polygon fill="#ff0f00" points="871,265.1 861,262.6 855,261.1 849,259.7 843,258.7 837,257.7 831,256.7 825,256.1 819,255.5 813,255 807,254.5 801,253.9 795,253.5 789,253.4 783,253.2 777,253 771,252.9 765,252.7 759,252.5 753,252.3 747,252.2 741,252 735,252 729,252 723,252 717,252 711,251.9 705,251.9 699,251.9 693,251.9 687,251.9 681,251.9 675,251.8 669,251.8 663,251.8 657,251.7 651,251.7 645,251.6 639,251.6 633,251.6 627,251.6 621,251.5 615,251.5 609,251.5 603,251.5 597,251.5 591,251.6 585,251.6 579,251.7 573,251.8 567,251.9 561,252 555,252.1 549,252.1 543,252.2 537,252.3 531,252.4 525,252.5 519,252.6 513,252.8 507,252.9 501,253 495,253.1 489,253.2 483,253.3 477,253.6 471,254.1 465,254.6 459,255.1 453,255.6 447,256.1 441,256.9 435,257.9 429,258.9 423,259.9 417,261.2 411,262.6 405,263.9 399,265.3 393,266.8 387,268.5 381,270.1 375,271.7 369,273.3 363,274.8 357,276.3 351,277.8 345,279.3 339,280.9 333,282.4 327,283.9 321,285.5 315,287 309,288.7 303,291.3 297,294.5 291,298 285,299.3 279,298.2 273,295.7 267,292.7 261,289.8 255,287.1 249,284.6 243,282.7 237,280.8 231,279.1 225,277.7 219,276.2 213,274.9 207,274.1 201,273.3 195,272.5 189,271.7 183,271 177,270.4 171,269.7 165,269.1 159,268.5 153,267.9 153,438.2 157.5,438.2 162,438.3 166.5,438.4 171,438.4 175.5,438.5 180,438.6 184.5,438.5 189,438.6 193.5,438.7 198,438.9 202.5,439.2 207,439.4 211.5,439.6 216,439.7 220.5,439.7 225,439.7 229.5,439.8 234,440.1 238.5,440.4 243,440.7 247.5,441 252,441.2 256.5,441.4 261,441.7 265.5,442 270,442.3 274.5,442.5 279,442.7 283.5,442.7 288,442.4 292.5,441.9 297,440.9 301.5,439.6 306,438 310.5,435.6 315,431.6 319.5,424.8 324,421.6 328.5,422.8 333,425.2 337.5,427.6 342,429.4 346.5,430.9 351,432.3 355.5,433.1 360,434.1 364.5,435.2 369,435.7 373.5,436 378,436.3 382.5,436.5 387,436.6 391.5,436.7 396,436.8 400.5,436.9 405,436.9 409.5,437 414,437.1 418.5,437.2 423,437.4 427.5,437.5 430,437.6 432.6,437.6 435.2,437.6 437.8,437.5 440.4,437.4 443,437.2 445.6,436.9 448.2,436.8 450.8,436.6 453.4,436.5 456,436.3 458.6,436.2 461.2,436.1 463.8,435.9 466.4,435.7 469,435.4 471.6,435.2 474.2,435 476.8,435.1 479.4,435.2 482,435.3 484.6,435.4 487.2,435.5 489.8,435.5 492.4,435.6 495,435.8 497.6,435.9 500.2,436 502.8,436.2 505.4,436.3 508,436.5 510.6,436.6 513.2,436.8 515.8,436.9 518.4,437.1 521,437.3 523.6,437.5 526.2,437.6 528.8,437.7 531.4,437.7 534,437.9 536.6,438 539.2,438.2 541.8,438.4 544.4,438.7 547,438.8 549.6,439 552.2,439 554.8,439 557.4,439.1 560,439.2 562.6,439.3 565.2,439.4 567.8,439.4 570.4,439.5 573,439.4 575.6,439.4 578.2,439.4 580.8,439.4 583.4,439.4 586,439.4 588.6,439.4 591.2,439.3 593.8,439.3 596.4,439.2 599,439.2 601.6,439.1 604.2,439.1 606.8,439.1 609.4,439 612,439 614.6,439 617.2,438.9 619.8,438.7 622.4,438.6 625,438.5 627.6,438.5 630.2,438.4 632.8,438.3 635.4,438.3 638,438.2 640.6,438 643.2,437.9 645.8,437.8 648.4,437.7 651,437.7 653.6,437.7 656.2,437.8 658.8,437.9 661.4,437.9 664,437.9 666.6,437.9 669.2,438 671.8,438 674.4,438 677,438 679.6,438.1 682.2,438.1 684.8,438.1 687.4,438.1 690,438.1 692.6,438.1 695.2,438.2 697.8,438.2 700.4,438.3 702,438.3 706.5,438.5 711,438.6 715.5,438.6 720,438.8 724.5,439 729,439.2 733.5,439.3 738,439.4 742.5,439.5 747,439.6 751.5,439.6 756,439.8 760.5,439.9 765,440.1 769.5,440.1 774,440.2 778.5,440.3 783,440.4 787.5,440.4 792,440.4 796.5,440.3 801,440.3 805.5,440.2 810,440.2 814.5,440.2 819,440.2 823.5,440.2 828,440.1 832.5,439.9 837,439.8 841.5,439.6 846,439.5 850.5,439.4 855,439.4 859.5,439.4 864,439.3 868.5,439.3 871,439.3"/>
<polygon fill="#ff0300" points="871,268.2 861,265.7 855,264.1 849,262.6 843,261.6 837,260.6 831,259.5 825,258.9 819,258.4 813,257.8 807,257.3 801,256.7 795,256.3 789,256.2 783,256 777,255.8 771,255.7 765,255.5 759,255.4 753,255.2 747,255 741,254.9 735,254.9 729,254.9 723,254.9 717,254.9 711,254.9 705,254.9 699,254.9 693,255 687,255 681,255 675,254.9 669,254.9 663,254.9 657,254.8 651,254.8 645,254.8 639,254.7 633,254.7 627,254.7 621,254.7 615,254.6 609,254.6 603,254.6 597,254.6 591,254.7 585,254.7 579,254.8 573,254.9 567,255 561,255.1 555,255.1 549,255.2 543,255.3 537,255.4 531,255.5 525,255.5 519,255.6 513,255.7 507,255.8 501,255.9 495,256 489,256.1 483,256.2 477,256.5 471,257 465,257.5 459,258 453,258.5 447,258.9 441,259.9 435,260.9 429,262 423,263 417,264.3 411,265.8 405,267.2 399,268.7 393,270.3 387,272 381,273.7 375,275.4 369,277.1 363,278.6 357,280.2 351,281.8 345,283.4 339,284.9 333,286.5 327,288 321,289.7 315,291.4 309,293.1 303,295.9 297,299.2 291,302.9 285,304.2 279,303.1 273,300.5 267,297.2 261,294.2 255,291.3 249,288.7 243,286.7 237,284.6 231,282.9 225,281.4 219,279.9 213,278.4 207,277.6 201,276.8 195,276 189,275.2 183,274.4 177,273.8 171,273.1 165,272.5 159,271.8 153,271.2 153,437 157.5,437 162,437.1 166.5,437.1 171,437.2 175.5,437.3 180,437.3 184.5,437.4 189,437.5 193.5,437.6 198,437.8 202.5,438 207,438.1 211.5,438.3 216,438.4 220.5,438.5 225,438.6 229.5,438.8 234,439 238.5,439.3 243,439.6 247.5,439.8 252,440.1 256.5,440.3 261,440.6 265.5,440.8 270,441.1 274.5,441.3 279,441.5 283.5,441.6 288,441.2 292.5,440.7 297,439.7 301.5,438.4 306,436.8 310.5,434.2 315,430 319.5,422.8 324,419.4 328.5,420.7 333,423.3 337.5,425.9 342,428 346.5,429.9 351,431.5 355.5,432.5 360,433.4 364.5,434.4 369,434.8 373.5,435 378,435.2 382.5,435.3 387,435.5 391.5,435.5 396,435.6 400.5,435.6 405,435.7 409.5,435.7 414,435.8 418.5,435.9 423,436 427.5,436.1 430,436.2 432.6,436.2 435.2,436.3 437.8,436.3 440.4,436.2 443,436 445.6,435.8 448.2,435.7 450.8,435.5 453.4,435.3 456,435.2 458.6,435 461.2,434.8 463.8,434.7 466.4,434.5 469,434.3 471.6,434.1 474.2,433.9 476.8,433.9 479.4,434.1 482,434.2 484.6,434.3 487.2,434.4 489.8,434.5 492.4,434.6 495,434.7 497.6,434.8 500.2,435 502.8,435.1 505.4,435.2 508,435.4 510.6,435.5 513.2,435.7 515.8,435.8 518.4,436 521,436.2 523.6,436.4 526.2,436.5 528.8,436.6 531.4,436.8 534,436.9 536.6,437.1 539.2,437.3 541.8,437.5 544.4,437.7 547,437.8 549.6,437.9 552.2,437.9 554.8,438 557.4,438 560,438.1 562.6,438.2 565.2,438.3 567.8,438.3 570.4,438.4 573,438.4 575.6,438.5 578.2,438.5 580.8,438.5 583.4,438.5 586,438.5 588.6,438.4 591.2,438.4 593.8,438.3 596.4,438.3 599,438.2 601.6,438.2 604.2,438.1 606.8,438.1 609.4,438 612,438 614.6,437.9 617.2,437.8 619.8,437.7 622.4,437.6 625,437.5 627.6,437.4 630.2,437.4 632.8,437.3 635.4,437.2 638,437.1 640.6,437 643.2,436.9 645.8,436.8 648.4,436.7 651,436.6 653.6,436.7 656.2,436.7 658.8,436.7 661.4,436.8 664,436.8 666.6,436.8 669.2,436.8 671.8,436.8 674.4,436.9 677,436.9 679.6,436.9 682.2,436.9 684.8,436.9 687.4,436.9 690,437 692.6,437 695.2,437 697.8,437 700.4,437.1 702,437.1 706.5,437.3 711,437.4 715.5,437.5 720,437.7 724.5,437.8 729,438 733.5,438.1 738,438.2 742.5,438.3 747,438.4 751.5,438.5 756,438.6 760.5,438.8 765,438.9 769.5,439 774,439.1 778.5,439.2 783,439.2 787.5,439.2 792,439.2 796.5,439.2 801,439.2 805.5,439.1 810,439.1 814.5,439.1 819,439.1 823.5,439 828,438.9 832.5,438.7 837,438.6 841.5,438.5 846,438.4 850.5,438.2 855,438.2 859.5,438.2 864,438.1 868.5,438.1 871,438.1"/>
<polygon fill="#ff0a0a" points="871,271.1 861,268.4 855,266.8 849,265.4 843,264.3 837,263.3 831,262.3 825,261.7 819,261.2 813,260.8 807,260.3 801,259.6 795,259.2 789,259.1 783,258.9 777,258.8 771,258.6 765,258.5 759,258.3 753,258.1 747,258 741,257.9 735,257.8 729,257.9 723,257.9 717,258 711,258 705,257.9 699,257.9 693,258 687,258 681,258 675,257.9 669,257.9 663,258 657,257.9 651,257.8 645,257.8 639,257.8 633,257.8 627,257.7 621,257.7 615,257.6 609,257.6 603,257.6 597,257.6 591,257.7 585,257.7 579,257.8 573,257.9 567,258 561,258 555,258.2 549,258.2 543,258.3 537,258.4 531,258.4 525,258.5 519,258.6 513,258.7 507,258.8 501,258.8 495,258.9 489,259 483,259.1 477,259.4 471,259.9 465,260.3 459,260.8 453,261.3 447,261.8 441,262.7 435,263.7 429,264.8 423,265.8 417,267.1 411,268.5 405,270 399,271.4 393,273 387,274.8 381,276.5 375,278.3 369,280 363,281.6 357,283.3 351,285 345,286.7 339,288.4 333,290.1 327,291.8 321,293.6 315,295.4 309,296.9 303,299.7 297,303.2 291,307 285,308.2 279,306.9 273,304.1 267,300.7 261,297.5 255,294.4 249,291.8 243,289.7 237,287.7 231,285.9 225,284.4 219,282.9 213,281.5 207,280.7 201,279.9 195,279.1 189,278.2 183,277.4 177,276.7 171,276 165,275.4 159,274.7 153,274.0 153,435.7 157.5,435.7 162,435.7 166.5,435.7 171,435.8 175.5,436 180,436 184.5,436.2 189,436.3 193.5,436.4 198,436.5 202.5,436.6 207,436.7 211.5,436.9 216,437 220.5,437.2 225,437.3 229.5,437.5 234,437.7 238.5,438 243,438.3 247.5,438.5 252,438.8 256.5,439 261,439.3 265.5,439.5 270,439.8 274.5,440 279,440.2 283.5,440.2 288,439.9 292.5,439.4 297,438.2 301.5,436.1 306,434.1 310.5,431.5 315,427.6 319.5,420.7 324,417.6 328.5,418.9 333,421.6 337.5,424.4 342,426.6 346.5,428.6 351,430.2 355.5,431.4 360,432.3 364.5,433.3 369,433.6 373.5,433.8 378,434 382.5,434.2 387,434.3 391.5,434.4 396,434.4 400.5,434.5 405,434.5 409.5,434.5 414,434.6 418.5,434.7 423,434.8 427.5,434.9 430,434.9 432.6,435 435.2,435 437.8,435.1 440.4,435.1 443,434.9 445.6,434.7 448.2,434.5 450.8,434.4 453.4,434.2 456,434 458.6,433.8 461.2,433.7 463.8,433.4 466.4,433.3 469,433.1 471.6,432.9 474.2,432.7 476.8,432.8 479.4,432.9 482,433 484.6,433.1 487.2,433.2 489.8,433.3 492.4,433.4 495,433.6 497.6,433.7 500.2,433.8 502.8,433.9 505.4,433.9 508,434.1 510.6,434.2 513.2,434.2 515.8,434.4 518.4,434.6 521,434.7 523.6,434.9 526.2,435 528.8,435.2 531.4,435.4 534,435.5 536.6,435.7 539.2,435.9 541.8,436.1 544.4,436.3 547,436.5 549.6,436.6 552.2,436.6 554.8,436.6 557.4,436.6 560,436.7 562.6,436.7 565.2,436.7 567.8,436.8 570.4,436.8 573,436.9 575.6,437 578.2,437.1 580.8,437.1 583.4,437.1 586,437.1 588.6,437 591.2,436.9 593.8,436.8 596.4,436.8 599,436.8 601.6,436.7 604.2,436.6 606.8,436.6 609.4,436.5 612,436.4 614.6,436.4 617.2,436.3 619.8,436.2 622.4,436.2 625,436.2 627.6,436.1 630.2,436.1 632.8,436 635.4,435.9 638,435.7 640.6,435.6 643.2,435.5 645.8,435.4 648.4,435.3 651,435.2 653.6,435.2 656.2,435.3 658.8,435.4 661.4,435.4 664,435.4 666.6,435.5 669.2,435.5 671.8,435.5 674.4,435.5 677,435.5 679.6,435.5 682.2,435.5 684.8,435.5 687.4,435.5 690,435.5 692.6,435.5 695.2,435.6 697.8,435.6 700.4,435.7 702,435.7 706.5,435.9 711,436 715.5,436 720,436.2 724.5,436.3 729,436.4 733.5,436.6 738,436.8 742.5,436.9 747,437 751.5,437.1 756,437.3 760.5,437.4 765,437.5 769.5,437.6 774,437.7 778.5,437.8 783,437.9 787.5,437.9 792,437.8 796.5,437.8 801,437.8 805.5,437.8 810,437.8 814.5,437.7 819,437.7 823.5,437.6 828,437.5 832.5,437.3 837,437.2 841.5,437 846,436.9 850.5,436.7 855,436.7 859.5,436.7 864,436.7 868.5,436.7 871,436.7"/>
<polygon fill="#ff1717" points="871,273.7 861,270.9 855,269.4 849,267.9 843,266.8 837,265.9 831,265 825,264.5 819,264 813,263.9 807,263.3 801,262.6 795,262.1 789,262.1 783,262 777,261.7 771,261.6 765,261.4 759,261.2 753,261.1 747,261.1 741,261 735,260.9 729,260.9 723,261 717,261.1 711,261.1 705,260.9 699,260.9 693,260.9 687,260.9 681,260.9 675,260.9 669,260.9 663,261.1 657,261 651,260.9 645,260.8 639,260.8 633,260.8 627,260.6 621,260.6 615,260.6 609,260.5 603,260.5 597,260.5 591,260.6 585,260.7 579,260.7 573,260.8 567,260.9 561,260.9 555,261.1 549,261.2 543,261.4 537,261.5 531,261.4 525,261.5 519,261.5 513,261.6 507,261.7 501,261.8 495,261.9 489,261.9 483,262 477,262.3 471,262.8 465,263.2 459,263.7 453,264.1 447,264.7 441,265.5 435,266.5 429,267.4 423,268.4 417,269.6 411,270.9 405,272.3 399,273.7 393,275.3 387,277.1 381,278.8 375,280.6 369,282.4 363,284.1 357,285.9 351,287.7 345,289.6 339,291.5 333,293.4 327,295.3 321,297.3 315,299 309,300.2 303,303 297,306.6 291,310.5 285,311.6 279,310 273,306.9 267,303.4 261,299.9 255,296.8 249,294.2 243,292.2 237,290.1 231,288.4 225,286.9 219,285.5 213,284.3 207,283.5 201,282.8 195,281.9 189,281 183,280.2 177,279.4 171,278.7 165,277.9 159,277.2 153,276.6 153,434.3 157.5,434.3 162,434.2 166.5,434.2 171,434.4 175.5,434.7 180,434.8 184.5,434.9 189,435.1 193.5,435.2 198,435.2 202.5,435.1 207,435.2 211.5,435.3 216,435.5 220.5,435.6 225,435.8 229.5,435.9 234,436.1 238.5,436.4 243,436.8 247.5,437.1 252,437.4 256.5,437.6 261,437.9 265.5,438.1 270,438.3 274.5,438.6 279,438.7 283.5,438.8 288,438.4 292.5,438 297,436.5 301.5,433 306,430.5 310.5,428.1 315,424.6 319.5,418.6 324,415.9 328.5,417.5 333,420.2 337.5,422.9 342,425.1 346.5,427.1 351,428.8 355.5,429.9 360,430.9 364.5,431.9 369,432.2 373.5,432.4 378,432.7 382.5,433 387,433.1 391.5,433.2 396,433.3 400.5,433.3 405,433.4 409.5,433.4 414,433.5 418.5,433.6 423,433.7 427.5,433.8 430,433.8 432.6,433.8 435.2,433.9 437.8,433.9 440.4,434 443,433.7 445.6,433.5 448.2,433.3 450.8,433.2 453.4,433 456,432.9 458.6,432.7 461.2,432.5 463.8,432.2 466.4,432.1 469,431.9 471.6,431.6 474.2,431.5 476.8,431.5 479.4,431.6 482,431.7 484.6,431.8 487.2,432 489.8,432 492.4,432.1 495,432.3 497.6,432.5 500.2,432.6 502.8,432.5 505.4,432.4 508,432.7 510.6,432.7 513.2,432.6 515.8,432.7 518.4,433 521,433.1 523.6,433.1 526.2,433.3 528.8,433.5 531.4,433.6 534,433.8 536.6,434 539.2,434.2 541.8,434.4 544.4,434.7 547,435 549.6,435.1 552.2,435.1 554.8,435 557.4,435 560,434.9 562.6,434.9 565.2,434.9 567.8,435 570.4,434.9 573,434.9 575.6,435.1 578.2,435.3 580.8,435.4 583.4,435.4 586,435.4 588.6,435.3 591.2,435.1 593.8,434.9 596.4,435 599,435 601.6,434.8 604.2,434.7 606.8,434.7 609.4,434.6 612,434.6 614.6,434.6 617.2,434.5 619.8,434.4 622.4,434.4 625,434.6 627.6,434.6 630.2,434.6 632.8,434.5 635.4,434.4 638,434.2 640.6,434 643.2,433.8 645.8,433.7 648.4,433.6 651,433.5 653.6,433.6 656.2,433.6 658.8,433.8 661.4,433.9 664,433.9 666.6,434 669.2,434 671.8,434 674.4,434 677,434 679.6,433.9 682.2,433.8 684.8,433.8 687.4,433.7 690,433.7 692.6,433.8 695.2,433.9 697.8,434 700.4,434.1 702,434.2 706.5,434.4 711,434.5 715.5,434.3 720,434.4 724.5,434.5 729,434.7 733.5,435 738,435.1 742.5,435.3 747,435.4 751.5,435.6 756,435.7 760.5,435.8 765,435.9 769.5,436.1 774,436.2 778.5,436.3 783,436.3 787.5,436.4 792,436.3 796.5,436.3 801,436.4 805.5,436.4 810,436.3 814.5,436.2 819,436.2 823.5,436.2 828,435.9 832.5,435.7 837,435.5 841.5,435.3 846,435.1 850.5,435 855,435 859.5,435.1 864,435.1 868.5,435.2 871,435.2"/>
<polygon fill="#ff2323" points="871,276.4 861,273.4 855,271.9 849,270.4 843,269.4 837,268.5 831,267.7 825,267.2 819,266.8 813,266.9 807,266.4 801,265.6 795,265 789,265.1 783,265 777,264.7 771,264.6 765,264.4 759,264.1 753,264 747,264.2 741,264.1 735,263.9 729,263.9 723,264.1 717,264.3 711,264.2 705,263.8 699,263.9 693,263.9 687,263.9 681,263.9 675,263.9 669,263.8 663,264.2 657,264.2 651,263.9 645,263.8 639,263.8 633,263.8 627,263.5 621,263.5 615,263.5 609,263.5 603,263.5 597,263.5 591,263.5 585,263.6 579,263.7 573,263.7 567,263.8 561,263.8 555,264.1 549,264.2 543,264.4 537,264.5 531,264.4 525,264.4 519,264.5 513,264.6 507,264.6 501,264.7 495,264.8 489,264.9 483,265 477,265.2 471,265.7 465,266.1 459,266.5 453,266.9 447,267.5 441,268.3 435,269.2 429,270.1 423,270.9 417,272.1 411,273.3 405,274.7 399,276 393,277.6 387,279.4 381,281.1 375,283 369,284.7 363,286.6 357,288.5 351,290.5 345,292.4 339,294.5 333,296.6 327,298.8 321,301.1 315,302.7 309,303.5 303,306.4 297,310.1 291,314 285,314.9 279,313.1 273,309.8 267,306.1 261,302.3 255,299.2 249,296.6 243,294.6 237,292.6 231,290.9 225,289.3 219,288.1 213,287 207,286.4 201,285.6 195,284.7 189,283.8 183,282.9 177,282.1 171,281.3 165,280.5 159,279.7 153,279.1 153,432.9 157.5,432.8 162,432.7 166.5,432.6 171,432.9 175.5,433.4 180,433.5 184.5,433.7 189,433.9 193.5,433.9 198,433.8 202.5,433.7 207,433.6 211.5,433.8 216,434 220.5,434.1 225,434.3 229.5,434.4 234,434.6 238.5,434.9 243,435.4 247.5,435.8 252,436 256.5,436.3 261,436.4 265.5,436.7 270,436.9 274.5,437.2 279,437.3 283.5,437.3 288,437 292.5,436.5 297,434.8 301.5,430 306,427 310.5,424.6 315,421.7 319.5,416.4 324,414.3 328.5,416 333,418.7 337.5,421.5 342,423.6 346.5,425.6 351,427.3 355.5,428.5 360,429.5 364.5,430.5 369,430.9 373.5,431.1 378,431.4 382.5,431.8 387,431.9 391.5,432.1 396,432.1 400.5,432.2 405,432.3 409.5,432.3 414,432.4 418.5,432.5 423,432.6 427.5,432.7 430,432.6 432.6,432.7 435.2,432.7 437.8,432.7 440.4,432.8 443,432.6 445.6,432.3 448.2,432.2 450.8,432 453.4,431.8 456,431.7 458.6,431.6 461.2,431.4 463.8,431 466.4,430.9 469,430.7 471.6,430.4 474.2,430.3 476.8,430.3 479.4,430.4 482,430.4 484.6,430.6 487.2,430.7 489.8,430.7 492.4,430.8 495,431 497.6,431.3 500.2,431.4 502.8,431.1 505.4,430.9 508,431.4 510.6,431.2 513.2,430.9 515.8,431 518.4,431.4 521,431.4 523.6,431.4 526.2,431.5 528.8,431.7 531.4,431.9 534,432 536.6,432.3 539.2,432.5 541.8,432.8 544.4,433.2 547,433.5 549.6,433.7 552.2,433.5 554.8,433.5 557.4,433.4 560,433.2 562.6,433.1 565.2,433.1 567.8,433.1 570.4,433 573,433 575.6,433.2 578.2,433.6 580.8,433.7 583.4,433.7 586,433.7 588.6,433.6 591.2,433.3 593.8,433.1 596.4,433.3 599,433.2 601.6,433 604.2,432.9 606.8,432.9 609.4,432.8 612,432.7 614.6,432.8 617.2,432.7 619.8,432.6 622.4,432.7 625,433 627.6,433.2 630.2,433.1 632.8,433 635.4,432.9 638,432.7 640.6,432.4 643.2,432.2 645.8,432.1 648.4,431.9 651,431.8 653.6,431.9 656.2,432 658.8,432.3 661.4,432.4 664,432.4 666.6,432.5 669.2,432.6 671.8,432.6 674.4,432.6 677,432.5 679.6,432.3 682.2,432.1 684.8,432.1 687.4,432 690,432 692.6,432.1 695.2,432.2 697.8,432.3 700.4,432.5 702,432.6 706.5,432.9 711,432.9 715.5,432.6 720,432.7 724.5,432.8 729,433 733.5,433.3 738,433.5 742.5,433.7 747,433.9 751.5,434 756,434.1 760.5,434.2 765,434.4 769.5,434.5 774,434.6 778.5,434.7 783,434.8 787.5,435 792,434.7 796.5,434.8 801,435 805.5,434.9 810,434.8 814.5,434.7 819,434.8 823.5,434.7 828,434.4 832.5,434.1 837,433.9 841.5,433.6 846,433.4 850.5,433.2 855,433.2 859.5,433.5 864,433.5 868.5,433.6 871,433.7"/>
<polygon fill="#ff3030" points="871,279 861,276 855,274.4 849,273 843,271.9 837,271.2 831,270.4 825,270 819,269.6 813,270 807,269.5 801,268.5 795,267.9 789,268.1 783,268 777,267.6 771,267.5 765,267.4 759,267 753,267 747,267.3 741,267.2 735,266.9 729,266.9 723,267.3 717,267.4 711,267.4 705,266.8 699,266.8 693,266.8 687,266.9 681,266.9 675,266.8 669,266.8 663,267.3 657,267.3 651,266.9 645,266.9 639,266.8 633,266.8 627,266.5 621,266.5 615,266.4 609,266.4 603,266.4 597,266.4 591,266.5 585,266.5 579,266.6 573,266.6 567,266.7 561,266.7 555,267.1 549,267.2 543,267.5 537,267.5 531,267.3 525,267.4 519,267.5 513,267.5 507,267.6 501,267.7 495,267.7 489,267.8 483,267.9 477,268.1 471,268.5 465,268.9 459,269.4 453,269.8 447,270.4 441,271.1 435,271.9 429,272.7 423,273.5 417,274.6 411,275.7 405,277 399,278.3 393,279.9 387,281.7 381,283.4 375,285.3 369,287.1 363,289 357,291.1 351,293.2 345,295.3 339,297.6 333,299.9 327,302.3 321,304.8 315,306.4 309,306.8 303,309.7 297,313.6 291,317.5 285,318.2 279,316.2 273,312.7 267,308.8 261,304.7 255,301.5 249,299.1 243,297.1 237,295.1 231,293.3 225,291.8 219,290.7 213,289.8 207,289.2 201,288.5 195,287.5 189,286.6 183,285.6 177,284.8 171,283.9 165,283.1 159,282.3 153,281.6 153,431.5 157.5,431.4 162,431.3 166.5,431.1 171,431.5 175.5,432.1 180,432.3 184.5,432.4 189,432.6 193.5,432.6 198,432.4 202.5,432.2 207,432.1 211.5,432.2 216,432.4 220.5,432.6 225,432.7 229.5,432.9 234,433.1 238.5,433.4 243,434 247.5,434.4 252,434.6 256.5,434.9 261,435 265.5,435.3 270,435.5 274.5,435.8 279,435.9 283.5,435.9 288,435.5 292.5,435.1 297,433 301.5,426.9 306,423.4 310.5,421.1 315,418.7 319.5,414.3 324,412.7 328.5,414.6 333,417.3 337.5,420 342,422.1 346.5,424.1 351,425.8 355.5,427.1 360,428.1 364.5,429.1 369,429.5 373.5,429.8 378,430.2 382.5,430.5 387,430.8 391.5,430.9 396,431 400.5,431.1 405,431.2 409.5,431.2 414,431.3 418.5,431.4 423,431.4 427.5,431.5 430,431.5 432.6,431.5 435.2,431.6 437.8,431.6 440.4,431.7 443,431.4 445.6,431.1 448.2,431 450.8,430.8 453.4,430.7 456,430.6 458.6,430.4 461.2,430.2 463.8,429.8 466.4,429.7 469,429.5 471.6,429.2 474.2,429.1 476.8,429.1 479.4,429.1 482,429.1 484.6,429.3 487.2,429.5 489.8,429.4 492.4,429.5 495,429.8 497.6,430.1 500.2,430.2 502.8,429.8 505.4,429.4 508,430 510.6,429.7 513.2,429.3 515.8,429.4 518.4,429.8 521,429.7 523.6,429.7 526.2,429.8 528.8,430 531.4,430.2 534,430.3 536.6,430.6 539.2,430.8 541.8,431.1 544.4,431.6 547,432 549.6,432.3 552.2,432 554.8,431.9 557.4,431.7 560,431.5 562.6,431.3 565.2,431.3 567.8,431.3 570.4,431 573,431.1 575.6,431.3 578.2,431.8 580.8,432 583.4,432 586,432.1 588.6,431.9 591.2,431.6 593.8,431.2 596.4,431.5 599,431.4 601.6,431.2 604.2,431 606.8,431 609.4,430.9 612,430.8 614.6,431 617.2,430.9 619.8,430.8 622.4,430.9 625,431.4 627.6,431.7 630.2,431.6 632.8,431.6 635.4,431.4 638,431.2 640.6,430.8 643.2,430.6 645.8,430.4 648.4,430.2 651,430.2 653.6,430.2 656.2,430.4 658.8,430.8 661.4,430.9 664,430.9 666.6,431 669.2,431.2 671.8,431.1 674.4,431.1 677,431 679.6,430.7 682.2,430.4 684.8,430.4 687.4,430.3 690,430.2 692.6,430.4 695.2,430.5 697.8,430.7 700.4,430.9 702,431 706.5,431.4 711,431.4 715.5,430.9 720,430.9 724.5,431.1 729,431.2 733.5,431.6 738,431.9 742.5,432.1 747,432.3 751.5,432.4 756,432.5 760.5,432.6 765,432.8 769.5,433 774,433 778.5,433.2 783,433.3 787.5,433.5 792,433.2 796.5,433.3 801,433.5 805.5,433.5 810,433.3 814.5,433.1 819,433.3 823.5,433.3 828,432.9 832.5,432.5 837,432.2 841.5,431.9 846,431.7 850.5,431.4 855,431.5 859.5,431.9 864,431.9 868.5,432.1 871,432.1"/>
<polygon fill="#ff3b3b" points="871,281.7 861,278.5 855,276.9 849,275.5 843,274.5 837,273.8 831,273.1 825,272.7 819,272.4 813,273 807,272.6 801,271.5 795,270.9 789,271.1 783,271 777,270.6 771,270.5 765,270.4 759,270 753,269.9 747,270.4 741,270.3 735,269.9 729,269.9 723,270.4 717,270.6 711,270.5 705,269.8 699,269.8 693,269.8 687,269.8 681,269.8 675,269.8 669,269.8 663,270.4 657,270.4 651,269.9 645,269.9 639,269.9 633,269.8 627,269.4 621,269.4 615,269.4 609,269.4 603,269.3 597,269.4 591,269.4 585,269.5 579,269.5 573,269.6 567,269.6 561,269.7 555,270.1 549,270.2 543,270.5 537,270.6 531,270.3 525,270.4 519,270.4 513,270.5 507,270.5 501,270.6 495,270.6 489,270.7 483,270.8 477,271 471,271.4 465,271.8 459,272.2 453,272.6 447,273.3 441,273.9 435,274.6 429,275.4 423,276.1 417,277 411,278.1 405,279.4 399,280.6 393,282.2 387,284 381,285.7 375,287.6 369,289.5 363,291.5 357,293.7 351,295.9 345,298.2 339,300.7 333,303.2 327,305.8 321,308.5 315,310.1 309,310.1 303,313 297,317 291,321 285,321.6 279,319.3 273,315.5 267,311.5 261,307.1 255,303.9 249,301.5 243,299.5 237,297.5 231,295.8 225,294.3 219,293.3 213,292.5 207,292 201,291.4 195,290.4 189,289.4 183,288.4 177,287.4 171,286.5 165,285.7 159,284.8 153,284.2 153,430.1 157.5,430 162,429.8 166.5,429.6 171,430 175.5,430.8 180,431 184.5,431.2 189,431.4 193.5,431.3 198,431.1 202.5,430.8 207,430.5 211.5,430.7 216,430.9 220.5,431.1 225,431.2 229.5,431.3 234,431.5 238.5,431.9 243,432.6 247.5,433 252,433.3 256.5,433.5 261,433.6 265.5,433.9 270,434.1 274.5,434.3 279,434.4 283.5,434.5 288,434.1 292.5,433.6 297,431.3 301.5,423.9 306,419.8 310.5,417.6 315,415.7 319.5,412.1 324,411.1 328.5,413.1 333,415.8 337.5,418.5 342,420.7 346.5,422.6 351,424.4 355.5,425.6 360,426.7 364.5,427.7 369,428.2 373.5,428.5 378,428.9 382.5,429.3 387,429.6 391.5,429.8 396,429.9 400.5,430 405,430.1 409.5,430.1 414,430.3 418.5,430.3 423,430.3 427.5,430.4 430,430.4 432.6,430.4 435.2,430.4 437.8,430.4 440.4,430.5 443,430.3 445.6,429.8 448.2,429.8 450.8,429.6 453.4,429.5 456,429.4 458.6,429.3 461.2,429.1 463.8,428.6 466.4,428.6 469,428.3 471.6,427.9 474.2,427.9 476.8,427.9 479.4,427.9 482,427.8 484.6,428.1 487.2,428.2 489.8,428.1 492.4,428.2 495,428.5 497.6,428.8 500.2,428.9 502.8,428.4 505.4,427.9 508,428.7 510.6,428.3 513.2,427.7 515.8,427.7 518.4,428.2 521,428.1 523.6,428 526.2,428.1 528.8,428.3 531.4,428.4 534,428.5 536.6,428.8 539.2,429.1 541.8,429.5 544.4,430 547,430.5 549.6,430.8 552.2,430.5 554.8,430.3 557.4,430.1 560,429.8 562.6,429.5 565.2,429.5 567.8,429.5 570.4,429.1 573,429.1 575.6,429.4 578.2,430 580.8,430.2 583.4,430.3 586,430.4 588.6,430.3 591.2,429.8 593.8,429.4 596.4,429.7 599,429.6 601.6,429.4 604.2,429.2 606.8,429.2 609.4,429.1 612,429 614.6,429.2 617.2,429 619.8,429 622.4,429.2 625,429.8 627.6,430.2 630.2,430.2 632.8,430.1 635.4,430 638,429.7 640.6,429.2 643.2,428.9 645.8,428.8 648.4,428.6 651,428.5 653.6,428.6 656.2,428.7 658.8,429.3 661.4,429.4 664,429.4 666.6,429.6 669.2,429.7 671.8,429.7 674.4,429.6 677,429.5 679.6,429.2 682.2,428.8 684.8,428.7 687.4,428.5 690,428.5 692.6,428.7 695.2,428.8 697.8,429 700.4,429.3 702,429.5 706.5,429.9 711,429.9 715.5,429.2 720,429.2 724.5,429.3 729,429.5 733.5,430 738,430.3 742.5,430.5 747,430.7 751.5,430.9 756,431 760.5,431.1 765,431.3 769.5,431.4 774,431.5 778.5,431.7 783,431.8 787.5,432.1 792,431.6 796.5,431.8 801,432.1 805.5,432 810,431.8 814.5,431.6 819,431.8 823.5,431.8 828,431.4 832.5,430.9 837,430.6 841.5,430.2 846,429.9 850.5,429.6 855,429.8 859.5,430.3 864,430.3 868.5,430.6 871,430.6"/>
<polygon fill="#ff4646" points="871,284.3 861,281 855,279.5 849,278.1 843,277 837,276.4 831,275.8 825,275.5 819,275.2 813,276.1 807,275.7 801,274.5 795,273.8 789,274.1 783,274 777,273.6 771,273.5 765,273.4 759,272.9 753,272.9 747,273.5 741,273.4 735,272.9 729,272.9 723,273.5 717,273.7 711,273.6 705,272.8 699,272.8 693,272.8 687,272.8 681,272.8 675,272.8 669,272.7 663,273.5 657,273.5 651,272.9 645,272.9 639,272.9 633,272.9 627,272.3 621,272.3 615,272.3 609,272.3 603,272.3 597,272.3 591,272.3 585,272.4 579,272.4 573,272.5 567,272.5 561,272.6 555,273.1 549,273.2 543,273.6 537,273.6 531,273.3 525,273.3 519,273.4 513,273.4 507,273.5 501,273.5 495,273.6 489,273.6 483,273.7 477,274 471,274.3 465,274.7 459,275.1 453,275.4 447,276.1 441,276.7 435,277.4 429,278 423,278.7 417,279.5 411,280.5 405,281.7 399,283 393,284.5 387,286.3 381,288 375,289.9 369,291.9 363,294 357,296.3 351,298.6 345,301.1 339,303.7 333,306.5 327,309.3 321,312.2 315,313.8 309,313.4 303,316.3 297,320.5 291,324.4 285,324.9 279,322.4 273,318.4 267,314.2 261,309.5 255,306.3 249,303.9 243,302 237,300 231,298.3 225,296.8 219,296 213,295.3 207,294.8 201,294.2 195,293.2 189,292.2 183,291.1 177,290.1 171,289.1 165,288.2 159,287.3 153,286.7 153,428.7 157.5,428.6 162,428.3 166.5,428 171,428.6 175.5,429.5 180,429.8 184.5,429.9 189,430.1 193.5,430 198,429.7 202.5,429.3 207,429 211.5,429.1 216,429.4 220.5,429.6 225,429.7 229.5,429.8 234,430 238.5,430.3 243,431.2 247.5,431.6 252,431.9 256.5,432.1 261,432.2 265.5,432.4 270,432.7 274.5,432.9 279,433 283.5,433 288,432.7 292.5,432.2 297,429.6 301.5,420.8 306,416.2 310.5,414.2 315,412.8 319.5,410 324,409.4 328.5,411.7 333,414.4 337.5,417.1 342,419.2 346.5,421.2 351,422.9 355.5,424.2 360,425.2 364.5,426.4 369,426.9 373.5,427.2 378,427.7 382.5,428.1 387,428.4 391.5,428.6 396,428.7 400.5,428.9 405,429 409.5,429 414,429.2 418.5,429.2 423,429.2 427.5,429.3 430,429.2 432.6,429.2 435.2,429.3 437.8,429.3 440.4,429.4 443,429.1 445.6,428.6 448.2,428.6 450.8,428.4 453.4,428.3 456,428.3 458.6,428.2 461.2,427.9 463.8,427.4 466.4,427.4 469,427.1 471.6,426.7 474.2,426.7 476.8,426.7 479.4,426.6 482,426.6 484.6,426.8 487.2,427 489.8,426.8 492.4,426.8 495,427.2 497.6,427.6 500.2,427.7 502.8,427 505.4,426.4 508,427.3 510.6,426.8 513.2,426 515.8,426 518.4,426.6 521,426.4 523.6,426.3 526.2,426.3 528.8,426.6 531.4,426.7 534,426.8 536.6,427.1 539.2,427.4 541.8,427.8 544.4,428.4 547,429 549.6,429.4 552.2,429 554.8,428.7 557.4,428.4 560,428 562.6,427.7 565.2,427.7 567.8,427.7 570.4,427.2 573,427.2 575.6,427.6 578.2,428.3 580.8,428.5 583.4,428.6 586,428.7 588.6,428.6 591.2,428 593.8,427.5 596.4,428 599,427.8 601.6,427.5 604.2,427.3 606.8,427.3 609.4,427.2 612,427.1 614.6,427.4 617.2,427.2 619.8,427.1 622.4,427.4 625,428.2 627.6,428.7 630.2,428.7 632.8,428.6 635.4,428.5 638,428.2 640.6,427.5 643.2,427.3 645.8,427.1 648.4,426.9 651,426.8 653.6,426.9 656.2,427.1 658.8,427.7 661.4,427.9 664,427.9 666.6,428.1 669.2,428.3 671.8,428.2 674.4,428.2 677,428 679.6,427.6 682.2,427.1 684.8,427 687.4,426.8 690,426.7 692.6,427 695.2,427.2 697.8,427.4 700.4,427.7 702,427.9 706.5,428.4 711,428.3 715.5,427.5 720,427.4 724.5,427.6 729,427.8 733.5,428.3 738,428.6 742.5,428.9 747,429.1 751.5,429.3 756,429.4 760.5,429.5 765,429.7 769.5,429.9 774,429.9 778.5,430.1 783,430.3 787.5,430.6 792,430.1 796.5,430.2 801,430.6 805.5,430.6 810,430.3 814.5,430.1 819,430.3 823.5,430.4 828,429.8 832.5,429.3 837,428.9 841.5,428.5 846,428.2 850.5,427.9 855,428 859.5,428.6 864,428.7 868.5,429 871,429.1"/>
<polygon fill="#ff5050" points="871,287 861,283.5 855,282 849,280.6 843,279.5 837,279 831,278.5 825,278.2 819,278 813,279.2 807,278.8 801,277.4 795,276.7 789,277.1 783,277.1 777,276.5 771,276.5 765,276.4 759,275.8 753,275.8 747,276.6 741,276.5 735,276 729,276 723,276.6 717,276.9 711,276.8 705,275.7 699,275.7 693,275.7 687,275.8 681,275.7 675,275.7 669,275.7 663,276.6 657,276.6 651,275.9 645,275.9 639,275.9 633,275.9 627,275.3 621,275.3 615,275.2 609,275.2 603,275.2 597,275.2 591,275.3 585,275.3 579,275.3 573,275.4 567,275.4 561,275.5 555,276 549,276.2 543,276.6 537,276.7 531,276.2 525,276.3 519,276.3 513,276.4 507,276.4 501,276.5 495,276.5 489,276.5 483,276.6 477,276.9 471,277.2 465,277.6 459,277.9 453,278.2 447,279 441,279.5 435,280.1 429,280.7 423,281.2 417,282 411,282.9 405,284.1 399,285.3 393,286.8 387,288.5 381,290.3 375,292.2 369,294.3 363,296.4 357,298.8 351,301.4 345,304 339,306.8 333,309.7 327,312.8 321,316 315,317.5 309,316.7 303,319.7 297,323.9 291,327.9 285,328.3 279,325.6 273,321.3 267,316.9 261,312 255,308.6 249,306.3 243,304.5 237,302.5 231,300.7 225,299.3 219,298.6 213,298.1 207,297.6 201,297.1 195,296 189,295 183,293.8 177,292.8 171,291.8 165,290.8 159,289.8 153,289.2 153,427.3 157.5,427.1 162,426.8 166.5,426.5 171,427.1 175.5,428.2 180,428.5 184.5,428.7 189,428.9 193.5,428.8 198,428.3 202.5,427.9 207,427.4 211.5,427.6 216,427.8 220.5,428 225,428.2 229.5,428.2 234,428.4 238.5,428.8 243,429.7 247.5,430.2 252,430.5 256.5,430.7 261,430.8 265.5,431 270,431.3 274.5,431.5 279,431.6 283.5,431.6 288,431.2 292.5,430.7 297,427.9 301.5,417.8 306,412.7 310.5,410.7 315,409.8 319.5,407.8 324,407.8 328.5,410.2 333,412.9 337.5,415.6 342,417.7 346.5,419.7 351,421.4 355.5,422.8 360,423.8 364.5,425 369,425.5 373.5,425.9 378,426.4 382.5,426.9 387,427.2 391.5,427.5 396,427.6 400.5,427.7 405,427.9 409.5,427.9 414,428.1 418.5,428.1 423,428.1 427.5,428.2 430,428.1 432.6,428.1 435.2,428.1 437.8,428.1 440.4,428.3 443,428 445.6,427.4 448.2,427.4 450.8,427.3 453.4,427.1 456,427.1 458.6,427 461.2,426.7 463.8,426.2 466.4,426.2 469,425.9 471.6,425.4 474.2,425.4 476.8,425.5 479.4,425.4 482,425.3 484.6,425.6 487.2,425.7 489.8,425.5 492.4,425.5 495,426 497.6,426.4 500.2,426.5 502.8,425.7 505.4,425 508,426 510.6,425.3 513.2,424.4 515.8,424.3 518.4,425 521,424.7 523.6,424.5 526.2,424.6 528.8,424.8 531.4,425 534,425 536.6,425.4 539.2,425.7 541.8,426.2 544.4,426.8 547,427.5 549.6,428 552.2,427.5 554.8,427.2 557.4,426.8 560,426.3 562.6,425.9 565.2,425.9 567.8,425.9 570.4,425.3 573,425.2 575.6,425.7 578.2,426.5 580.8,426.8 583.4,426.9 586,427.1 588.6,426.9 591.2,426.2 593.8,425.6 596.4,426.2 599,426.1 601.6,425.7 604.2,425.4 606.8,425.5 609.4,425.4 612,425.3 614.6,425.6 617.2,425.4 619.8,425.3 622.4,425.7 625,426.5 627.6,427.2 630.2,427.2 632.8,427.1 635.4,427 638,426.7 640.6,425.9 643.2,425.7 645.8,425.5 648.4,425.2 651,425.1 653.6,425.3 656.2,425.5 658.8,426.2 661.4,426.5 664,426.4 666.6,426.6 669.2,426.8 671.8,426.8 674.4,426.7 677,426.4 679.6,426 682.2,425.4 684.8,425.3 687.4,425.1 690,425 692.6,425.3 695.2,425.5 697.8,425.7 700.4,426.1 702,426.4 706.5,426.9 711,426.8 715.5,425.8 720,425.7 724.5,425.8 729,426 733.5,426.7 738,427 742.5,427.3 747,427.5 751.5,427.7 756,427.8 760.5,427.9 765,428.2 769.5,428.3 774,428.4 778.5,428.6 783,428.7 787.5,429.2 792,428.6 796.5,428.7 801,429.2 805.5,429.1 810,428.8 814.5,428.5 819,428.8 823.5,428.9 828,428.3 832.5,427.7 837,427.3 841.5,426.8 846,426.4 850.5,426.1 855,426.3 859.5,427 864,427.1 868.5,427.5 871,427.6"/>
<polygon fill="#ff5b5b" points="871,289.6 861,286 855,284.5 849,283.2 843,282.1 837,281.7 831,281.2 825,281 819,280.8 813,282.2 807,281.9 801,280.4 795,279.6 789,280.2 783,280.1 777,279.5 771,279.4 765,279.4 759,278.7 753,278.8 747,279.7 741,279.6 735,279 729,279 723,279.7 717,280.1 711,279.9 705,278.7 699,278.7 693,278.7 687,278.7 681,278.7 675,278.7 669,278.7 663,279.7 657,279.7 651,278.9 645,278.9 639,278.9 633,278.9 627,278.2 621,278.2 615,278.2 609,278.2 603,278.2 597,278.2 591,278.2 585,278.2 579,278.3 573,278.3 567,278.3 561,278.4 555,279 549,279.2 543,279.7 537,279.7 531,279.2 525,279.2 519,279.3 513,279.3 507,279.4 501,279.4 495,279.4 489,279.5 483,279.6 477,279.8 471,280.1 465,280.4 459,280.7 453,281.1 447,281.8 441,282.3 435,282.8 429,283.3 423,283.8 417,284.5 411,285.3 405,286.4 399,287.6 393,289.1 387,290.8 381,292.6 375,294.6 369,296.6 363,298.9 357,301.4 351,304.1 345,306.9 339,309.9 333,313 327,316.3 321,319.7 315,321.2 309,320 303,323 297,327.4 291,331.4 285,331.6 279,328.7 273,324.1 267,319.5 261,314.4 255,311 249,308.8 243,306.9 237,304.9 231,303.2 225,301.8 219,301.2 213,300.8 207,300.4 201,299.9 195,298.8 189,297.8 183,296.6 177,295.5 171,294.4 165,293.4 159,292.4 153,291.8 153,425.9 157.5,425.7 162,425.3 166.5,425 171,425.7 175.5,426.9 180,427.3 184.5,427.4 189,427.7 193.5,427.5 198,427 202.5,426.4 207,425.9 211.5,426 216,426.3 220.5,426.5 225,426.6 229.5,426.7 234,426.9 238.5,427.3 243,428.3 247.5,428.8 252,429.1 256.5,429.3 261,429.4 265.5,429.6 270,429.8 274.5,430.1 279,430.1 283.5,430.2 288,429.8 292.5,429.3 297,426.2 301.5,414.7 306,409.1 310.5,407.2 315,406.8 319.5,405.7 324,406.2 328.5,408.8 333,411.5 337.5,414.2 342,416.2 346.5,418.2 351,419.9 355.5,421.3 360,422.4 364.5,423.6 369,424.2 373.5,424.6 378,425.1 382.5,425.7 387,426 391.5,426.4 396,426.5 400.5,426.6 405,426.8 409.5,426.8 414,427 418.5,427 423,427 427.5,427.1 430,426.9 432.6,427 435.2,427 437.8,426.9 440.4,427.1 443,426.8 445.6,426.2 448.2,426.2 450.8,426.1 453.4,426 456,426 458.6,425.9 461.2,425.6 463.8,425 466.4,425 469,424.6 471.6,424.2 474.2,424.2 476.8,424.3 479.4,424.2 482,424 484.6,424.4 487.2,424.5 489.8,424.2 492.4,424.2 495,424.7 497.6,425.2 500.2,425.3 502.8,424.3 505.4,423.5 508,424.6 510.6,423.9 513.2,422.7 515.8,422.7 518.4,423.4 521,423.1 523.6,422.8 526.2,422.9 528.8,423.1 531.4,423.2 534,423.3 536.6,423.7 539.2,424 541.8,424.5 544.4,425.3 547,426 549.6,426.5 552.2,425.9 554.8,425.6 557.4,425.2 560,424.6 562.6,424.1 565.2,424.1 567.8,424 570.4,423.3 573,423.3 575.6,423.8 578.2,424.7 580.8,425 583.4,425.2 586,425.4 588.6,425.2 591.2,424.4 593.8,423.8 596.4,424.4 599,424.3 601.6,423.9 604.2,423.6 606.8,423.6 609.4,423.5 612,423.4 614.6,423.8 617.2,423.6 619.8,423.5 622.4,423.9 625,424.9 627.6,425.7 630.2,425.7 632.8,425.7 635.4,425.6 638,425.2 640.6,424.3 643.2,424 645.8,423.9 648.4,423.6 651,423.5 653.6,423.6 656.2,423.9 658.8,424.7 661.4,425 664,424.9 666.6,425.2 669.2,425.4 671.8,425.3 674.4,425.2 677,424.9 679.6,424.4 682.2,423.8 684.8,423.6 687.4,423.4 690,423.3 692.6,423.6 695.2,423.8 697.8,424.1 700.4,424.5 702,424.8 706.5,425.4 711,425.3 715.5,424 720,423.9 724.5,424.1 729,424.3 733.5,425 738,425.4 742.5,425.7 747,426 751.5,426.2 756,426.3 760.5,426.3 765,426.6 769.5,426.8 774,426.8 778.5,427 783,427.2 787.5,427.7 792,427 796.5,427.2 801,427.8 805.5,427.7 810,427.4 814.5,427 819,427.4 823.5,427.4 828,426.8 832.5,426.2 837,425.7 841.5,425.2 846,424.7 850.5,424.3 855,424.6 859.5,425.4 864,425.5 868.5,425.9 871,426.1"/>
<polygon fill="#ff6767" points="871,292.3 861,288.6 855,287.1 849,285.7 843,284.6 837,284.3 831,283.9 825,283.7 819,283.6 813,285.3 807,284.9 801,283.3 795,282.5 789,283.2 783,283.1 777,282.5 771,282.4 765,282.4 759,281.7 753,281.7 747,282.8 741,282.7 735,282 729,282 723,282.8 717,283.2 711,283 705,281.7 699,281.7 693,281.7 687,281.7 681,281.7 675,281.7 669,281.7 663,282.8 657,282.8 651,281.9 645,281.9 639,281.9 633,281.9 627,281.1 621,281.1 615,281.1 609,281.1 603,281.1 597,281.1 591,281.1 585,281.2 579,281.2 573,281.2 567,281.2 561,281.3 555,282 549,282.2 543,282.7 537,282.8 531,282.2 525,282.2 519,282.2 513,282.3 507,282.3 501,282.3 495,282.4 489,282.4 483,282.5 477,282.7 471,283 465,283.3 459,283.6 453,283.9 447,284.7 441,285.1 435,285.5 429,286 423,286.4 417,287 411,287.7 405,288.8 399,289.9 393,291.4 387,293.1 381,294.9 375,296.9 369,299 363,301.4 357,304 351,306.8 345,309.7 339,313 333,316.3 327,319.8 321,323.4 315,324.9 309,323.3 303,326.3 297,330.8 291,334.9 285,335 279,331.8 273,327 267,322.2 261,316.8 255,313.4 249,311.2 243,309.4 237,307.4 231,305.7 225,304.2 219,303.8 213,303.6 207,303.2 201,302.8 195,301.7 189,300.5 183,299.3 177,298.1 171,297 165,295.9 159,294.9 153,294.3 153,424.5 157.5,424.3 162,423.9 166.5,423.4 171,424.2 175.5,425.6 180,426 184.5,426.2 189,426.4 193.5,426.2 198,425.6 202.5,424.9 207,424.4 211.5,424.5 216,424.8 220.5,425 225,425.1 229.5,425.2 234,425.3 238.5,425.8 243,426.9 247.5,427.4 252,427.8 256.5,427.9 261,428 265.5,428.2 270,428.4 274.5,428.7 279,428.7 283.5,428.7 288,428.3 292.5,427.8 297,424.5 301.5,411.7 306,405.5 310.5,403.8 315,403.9 319.5,403.6 324,404.6 328.5,407.3 333,410 337.5,412.7 342,414.7 346.5,416.7 351,418.5 355.5,419.9 360,421 364.5,422.2 369,422.8 373.5,423.3 378,423.9 382.5,424.5 387,424.8 391.5,425.2 396,425.3 400.5,425.5 405,425.7 409.5,425.7 414,425.9 418.5,425.9 423,425.9 427.5,426 430,425.8 432.6,425.8 435.2,425.8 437.8,425.8 440.4,426 443,425.6 445.6,425 448.2,425 450.8,424.9 453.4,424.8 456,424.8 458.6,424.8 461.2,424.4 463.8,423.8 466.4,423.8 469,423.4 471.6,422.9 474.2,423 476.8,423 479.4,422.9 482,422.7 484.6,423.1 487.2,423.2 489.8,422.9 492.4,422.9 495,423.4 497.6,424 500.2,424.1 502.8,422.9 505.4,422 508,423.3 510.6,422.4 513.2,421.1 515.8,421 518.4,421.8 521,421.4 523.6,421.1 526.2,421.1 528.8,421.4 531.4,421.5 534,421.5 536.6,422 539.2,422.3 541.8,422.9 544.4,423.7 547,424.5 549.6,425.1 552.2,424.4 554.8,424 557.4,423.5 560,422.9 562.6,422.3 565.2,422.3 567.8,422.2 570.4,421.4 573,421.4 575.6,421.9 578.2,423 580.8,423.3 583.4,423.5 586,423.7 588.6,423.5 591.2,422.6 593.8,421.9 596.4,422.7 599,422.5 601.6,422.1 604.2,421.7 606.8,421.8 609.4,421.7 612,421.5 614.6,422 617.2,421.7 619.8,421.7 622.4,422.2 625,423.3 627.6,424.2 630.2,424.3 632.8,424.2 635.4,424.1 638,423.7 640.6,422.7 643.2,422.4 645.8,422.2 648.4,421.9 651,421.8 653.6,421.9 656.2,422.2 658.8,423.2 661.4,423.5 664,423.4 666.6,423.7 669.2,423.9 671.8,423.9 674.4,423.7 677,423.4 679.6,422.8 682.2,422.1 684.8,421.9 687.4,421.6 690,421.5 692.6,421.9 695.2,422.1 697.8,422.5 700.4,422.9 702,423.3 706.5,423.9 711,423.7 715.5,422.3 720,422.2 724.5,422.3 729,422.6 733.5,423.3 738,423.8 742.5,424.1 747,424.4 751.5,424.6 756,424.7 760.5,424.8 765,425.1 769.5,425.3 774,425.3 778.5,425.5 783,425.7 787.5,426.3 792,425.5 796.5,425.7 801,426.3 805.5,426.3 810,425.9 814.5,425.5 819,425.9 823.5,426 828,425.3 832.5,424.6 837,424 841.5,423.5 846,423 850.5,422.5 855,422.8 859.5,423.8 864,423.9 868.5,424.4 871,424.5"/>
<polygon fill="#ff7373" points="871,294.9 861,291.1 855,289.6 849,288.3 843,287.2 837,286.9 831,286.6 825,286.5 819,286.4 813,288.4 807,288 801,286.3 795,285.4 789,286.2 783,286.1 777,285.4 771,285.4 765,285.3 759,284.6 753,284.7 747,285.8 741,285.8 735,285 729,285 723,285.9 717,286.4 711,286.1 705,284.6 699,284.6 693,284.6 687,284.6 681,284.6 675,284.6 669,284.6 663,286 657,285.9 651,285 645,284.9 639,284.9 633,284.9 627,284.1 621,284.1 615,284.1 609,284 603,284 597,284 591,284.1 585,284.1 579,284.1 573,284.1 567,284.2 561,284.2 555,285 549,285.1 543,285.8 537,285.8 531,285.1 525,285.2 519,285.2 513,285.2 507,285.2 501,285.3 495,285.3 489,285.3 483,285.4 477,285.6 471,285.9 465,286.2 459,286.4 453,286.7 447,287.6 441,287.9 435,288.2 429,288.6 423,289 417,289.5 411,290.1 405,291.1 399,292.2 393,293.7 387,295.4 381,297.2 375,299.2 369,301.4 363,303.8 357,306.6 351,309.6 345,312.6 339,316 333,319.6 327,323.3 321,327.1 315,328.5 309,326.6 303,329.6 297,334.3 291,338.4 285,338.3 279,334.9 273,329.9 267,324.9 261,319.2 255,315.7 249,313.6 243,311.8 237,309.9 231,308.2 225,306.7 219,306.4 213,306.3 207,306.1 201,305.6 195,304.5 189,303.3 183,302.1 177,300.8 171,299.6 165,298.5 159,297.4 153,296.9 153,423.1 157.5,422.9 162,422.4 166.5,421.9 171,422.8 175.5,424.3 180,424.8 184.5,424.9 189,425.2 193.5,424.9 198,424.2 202.5,423.5 207,422.8 211.5,422.9 216,423.2 220.5,423.5 225,423.6 229.5,423.6 234,423.8 238.5,424.2 243,425.5 247.5,426.1 252,426.4 256.5,426.5 261,426.6 265.5,426.8 270,427 274.5,427.3 279,427.2 283.5,427.3 288,426.9 292.5,426.4 297,422.7 301.5,408.6 306,402 310.5,400.3 315,400.9 319.5,401.4 324,402.9 328.5,405.9 333,408.6 337.5,411.3 342,413.2 346.5,415.2 351,417 355.5,418.5 360,419.6 364.5,420.8 369,421.5 373.5,422 378,422.6 382.5,423.3 387,423.7 391.5,424.1 396,424.2 400.5,424.4 405,424.6 409.5,424.6 414,424.8 418.5,424.8 423,424.7 427.5,424.9 430,424.7 432.6,424.7 435.2,424.7 437.8,424.6 440.4,424.8 443,424.5 445.6,423.8 448.2,423.9 450.8,423.7 453.4,423.6 456,423.7 458.6,423.6 461.2,423.3 463.8,422.6 466.4,422.6 469,422.2 471.6,421.7 474.2,421.8 476.8,421.8 479.4,421.7 482,421.4 484.6,421.9 487.2,422 489.8,421.6 492.4,421.6 495,422.2 497.6,422.7 500.2,422.8 502.8,421.6 505.4,420.5 508,421.9 510.6,420.9 513.2,419.5 515.8,419.3 518.4,420.2 521,419.7 523.6,419.4 526.2,419.4 528.8,419.7 531.4,419.8 534,419.8 536.6,420.3 539.2,420.6 541.8,421.2 544.4,422.1 547,423 549.6,423.7 552.2,422.9 554.8,422.4 557.4,421.9 560,421.1 562.6,420.6 565.2,420.4 567.8,420.4 570.4,419.5 573,419.4 575.6,420.1 578.2,421.2 580.8,421.6 583.4,421.8 586,422.1 588.6,421.8 591.2,420.8 593.8,420 596.4,420.9 599,420.7 601.6,420.2 604.2,419.9 606.8,419.9 609.4,419.8 612,419.7 614.6,420.2 617.2,419.9 619.8,419.9 622.4,420.4 625,421.7 627.6,422.7 630.2,422.8 632.8,422.7 635.4,422.6 638,422.2 640.6,421.1 643.2,420.8 645.8,420.6 648.4,420.2 651,420.1 653.6,420.3 656.2,420.6 658.8,421.6 661.4,422 664,421.9 666.6,422.2 669.2,422.5 671.8,422.4 674.4,422.3 677,421.9 679.6,421.2 682.2,420.4 684.8,420.2 687.4,419.9 690,419.8 692.6,420.2 695.2,420.4 697.8,420.8 700.4,421.3 702,421.7 706.5,422.4 711,422.2 715.5,420.6 720,420.4 724.5,420.6 729,420.8 733.5,421.7 738,422.1 742.5,422.5 747,422.8 751.5,423 756,423.1 760.5,423.2 765,423.5 769.5,423.7 774,423.7 778.5,423.9 783,424.2 787.5,424.8 792,423.9 796.5,424.2 801,424.9 805.5,424.8 810,424.4 814.5,424 819,424.4 823.5,424.5 828,423.7 832.5,423 837,422.4 841.5,421.8 846,421.2 850.5,420.8 855,421.1 859.5,422.2 864,422.3 868.5,422.9 871,423.0"/>
<polygon fill="#ff7f7f" points="871,297.6 861,293.6 855,292.1 849,290.8 843,289.7 837,289.5 831,289.3 825,289.3 819,289.2 813,291.4 807,291.1 801,289.3 795,288.4 789,289.2 783,289.1 777,288.4 771,288.4 765,288.3 759,287.5 753,287.7 747,288.9 741,288.9 735,288 729,288 723,289 717,289.5 711,289.3 705,287.6 699,287.6 693,287.6 687,287.6 681,287.6 675,287.6 669,287.6 663,289.1 657,289.1 651,288 645,288 639,288 633,287.9 627,287 621,287 615,287 609,287 603,287 597,287 591,287 585,287 579,287 573,287.1 567,287.1 561,287.1 555,288 549,288.1 543,288.8 537,288.9 531,288.1 525,288.1 519,288.1 513,288.2 507,288.2 501,288.2 495,288.2 489,288.2 483,288.3 477,288.5 471,288.8 465,289 459,289.3 453,289.5 447,290.4 441,290.7 435,291 429,291.3 423,291.5 417,292 411,292.5 405,293.5 399,294.5 393,296 387,297.7 381,299.5 375,301.5 369,303.8 363,306.3 357,309.2 351,312.3 345,315.5 339,319.1 333,322.8 327,326.8 321,330.9 315,332.7 309,331.5 303,334.4 297,340.3 291,345.4 285,344.7 279,340.1 273,333.9 267,327.6 261,321.6 255,318.1 249,316 243,314.3 237,312.3 231,310.6 225,309.2 219,309 213,309.1 207,308.9 201,308.5 195,307.3 189,306.1 183,304.8 177,303.5 171,302.2 165,301.1 159,300 153,299.4 153,421.7 157.5,421.4 162,420.9 166.5,420.3 171,421.3 175.5,423 180,423.5 184.5,423.7 189,424 193.5,423.7 198,422.9 202.5,422 207,421.3 211.5,421.4 216,421.7 220.5,421.9 225,422.1 229.5,422.1 234,422.2 238.5,422.7 243,424.1 247.5,424.7 252,425 256.5,425.2 261,425.2 265.5,425.4 270,425.6 274.5,425.9 279,425.8 283.5,425.8 288,425.5 292.5,425 297,421 301.5,405.6 306,398.4 310.5,396.8 315,397.9 319.5,399.3 324,401.3 328.5,404.4 333,407.2 337.5,409.8 342,411.7 346.5,413.8 351,415.5 355.5,417 360,418.2 364.5,419.5 369,420.2 373.5,420.7 378,421.3 382.5,422.1 387,422.5 391.5,422.9 396,423.1 400.5,423.3 405,423.5 409.5,423.5 414,423.7 418.5,423.7 423,423.6 427.5,423.7 430,423.5 432.6,423.5 435.2,423.5 437.8,423.5 440.4,423.7 443,423.3 445.6,422.6 448.2,422.7 450.8,422.5 453.4,422.4 456,422.5 458.6,422.5 461.2,422.1 463.8,421.4 466.4,421.5 469,421 471.6,420.4 474.2,420.6 476.8,420.6 479.4,420.4 482,420.2 484.6,420.6 487.2,420.7 489.8,420.3 492.4,420.3 495,420.9 497.6,421.5 500.2,421.6 502.8,420.2 505.4,419 508,420.6 510.6,419.5 513.2,417.8 515.8,417.6 518.4,418.6 521,418.1 523.6,417.7 526.2,417.7 528.8,417.9 531.4,418 534,418 536.6,418.5 539.2,418.9 541.8,419.6 544.4,420.5 547,421.5 549.6,422.2 552.2,421.4 554.8,420.8 557.4,420.2 560,419.4 562.6,418.8 565.2,418.6 567.8,418.6 570.4,417.6 573,417.5 575.6,418.2 578.2,419.4 580.8,419.8 583.4,420.1 586,420.4 588.6,420.1 591.2,419.1 593.8,418.2 596.4,419.1 599,418.9 601.6,418.4 604.2,418 606.8,418.1 609.4,418 612,417.8 614.6,418.4 617.2,418.1 619.8,418 622.4,418.7 625,420.1 627.6,421.2 630.2,421.3 632.8,421.3 635.4,421.1 638,420.7 640.6,419.5 643.2,419.1 645.8,418.9 648.4,418.6 651,418.4 653.6,418.6 656.2,419 658.8,420.1 661.4,420.5 664,420.4 666.6,420.7 669.2,421 671.8,420.9 674.4,420.8 677,420.4 679.6,419.7 682.2,418.8 684.8,418.5 687.4,418.2 690,418 692.6,418.5 695.2,418.8 697.8,419.2 700.4,419.7 702,420.1 706.5,420.9 711,420.7 715.5,418.9 720,418.7 724.5,418.8 729,419.1 733.5,420 738,420.5 742.5,420.9 747,421.2 751.5,421.4 756,421.6 760.5,421.6 765,421.9 769.5,422.2 774,422.1 778.5,422.4 783,422.6 787.5,423.4 792,422.4 796.5,422.7 801,423.4 805.5,423.4 810,422.9 814.5,422.4 819,422.9 823.5,423.1 828,422.2 832.5,421.4 837,420.7 841.5,420.1 846,419.5 850.5,419 855,419.4 859.5,420.5 864,420.7 868.5,421.3 871,421.5"/>
<polygon fill="#ff8c8c" points="871,300.2 861,296.1 855,294.6 849,293.4 843,292.2 837,292.1 831,292 825,292 819,292 813,294.5 807,294.2 801,292.2 795,291.3 789,292.2 783,292.2 777,291.4 771,291.3 765,291.3 759,290.4 753,290.6 747,292 741,292 735,291.1 729,291.1 723,292.1 717,292.7 711,292.4 705,290.6 699,290.6 693,290.6 687,290.6 681,290.6 675,290.6 669,290.6 663,292.2 657,292.2 651,291 645,291 639,291 633,291 627,289.9 621,289.9 615,289.9 609,289.9 603,289.9 597,289.9 591,289.9 585,289.9 579,290 573,290 567,290 561,290 555,290.9 549,291.1 543,291.9 537,291.9 531,291.1 525,291.1 519,291.1 513,291.1 507,291.1 501,291.1 495,291.1 489,291.2 483,291.2 477,291.4 471,291.7 465,291.9 459,292.1 453,292.4 447,293.3 441,293.5 435,293.7 429,293.9 423,294.1 417,294.4 411,294.9 405,295.8 399,296.8 393,298.3 387,300 381,301.8 375,303.9 369,306.2 363,308.8 357,311.8 351,315 345,318.4 339,322.2 333,326.1 327,330.3 321,334.6 315,337.1 309,336.9 303,339.6 297,347.2 291,353.6 285,352.1 279,346.1 273,338.2 267,330.3 261,324.1 255,320.5 249,318.5 243,316.7 237,314.8 231,313.1 225,311.7 219,311.7 213,311.8 207,311.7 201,311.4 195,310.1 189,308.9 183,307.5 177,306.2 171,304.9 165,303.7 159,302.5 153,301.9 153,420.3 157.5,420 162,419.4 166.5,418.8 171,419.9 175.5,421.7 180,422.2 184.5,422.4 189,422.7 193.5,422.4 198,421.5 202.5,420.6 207,419.7 211.5,419.8 216,420.2 220.5,420.4 225,420.5 229.5,420.6 234,420.7 238.5,421.2 243,422.6 247.5,423.3 252,423.6 256.5,423.8 261,423.8 265.5,424 270,424.2 274.5,424.5 279,424.4 283.5,424.4 288,424 292.5,423.5 297,419.3 301.5,402.5 306,394.8 310.5,393.3 315,395 319.5,397.1 324,399.7 328.5,403 333,405.7 337.5,408.3 342,410.2 346.5,412.3 351,414 355.5,415.6 360,416.8 364.5,418.1 369,418.8 373.5,419.4 378,420.1 382.5,420.9 387,421.3 391.5,421.8 396,421.9 400.5,422.2 405,422.4 409.5,422.4 414,422.6 418.5,422.6 423,422.5 427.5,422.6 430,422.4 432.6,422.4 435.2,422.4 437.8,422.3 440.4,422.6 443,422.2 445.6,421.4 448.2,421.5 450.8,421.4 453.4,421.3 456,421.4 458.6,421.3 461.2,421 463.8,420.2 466.4,420.3 469,419.8 471.6,419.2 474.2,419.4 476.8,419.4 479.4,419.2 482,418.9 484.6,419.4 487.2,419.5 489.8,419 492.4,419 495,419.6 497.6,420.3 500.2,420.4 502.8,418.9 505.4,417.5 508,419.2 510.6,418 513.2,416.2 515.8,416 518.4,417 521,416.4 523.6,416 526.2,415.9 528.8,416.2 531.4,416.3 534,416.3 536.6,416.8 539.2,417.2 541.8,417.9 544.4,418.9 547,420 549.6,420.8 552.2,419.9 554.8,419.3 557.4,418.6 560,417.7 562.6,417 565.2,416.8 567.8,416.7 570.4,415.6 573,415.6 575.6,416.3 578.2,417.7 580.8,418.1 583.4,418.4 586,418.7 588.6,418.4 591.2,417.3 593.8,416.3 596.4,417.3 599,417.1 601.6,416.6 604.2,416.1 606.8,416.2 609.4,416.1 612,415.9 614.6,416.6 617.2,416.3 619.8,416.2 622.4,416.9 625,418.5 627.6,419.7 630.2,419.8 632.8,419.8 635.4,419.7 638,419.2 640.6,417.9 643.2,417.5 645.8,417.3 648.4,416.9 651,416.8 653.6,416.9 656.2,417.3 658.8,418.6 661.4,419 664,418.9 666.6,419.3 669.2,419.6 671.8,419.5 674.4,419.3 677,418.9 679.6,418.1 682.2,417.1 684.8,416.9 687.4,416.5 690,416.3 692.6,416.8 695.2,417.1 697.8,417.5 700.4,418.1 702,418.6 706.5,419.4 711,419.1 715.5,417.2 720,416.9 724.5,417.1 729,417.3 733.5,418.4 738,418.9 742.5,419.3 747,419.6 751.5,419.9 756,420 760.5,420 765,420.4 769.5,420.6 774,420.6 778.5,420.9 783,421.1 787.5,421.9 792,420.9 796.5,421.2 801,422 805.5,421.9 810,421.4 814.5,420.9 819,421.5 823.5,421.6 828,420.7 832.5,419.8 837,419.1 841.5,418.4 846,417.8 850.5,417.2 855,417.6 859.5,418.9 864,419.1 868.5,419.8 871,420.0"/>
<polygon fill="#ff9999" points="871,302.9 861,298.6 855,297.2 849,295.9 843,294.8 837,294.8 831,294.7 825,294.8 819,294.8 813,297.5 807,297.3 801,295.2 795,294.2 789,295.2 783,295.2 777,294.3 771,294.3 765,294.3 759,293.4 753,293.6 747,295.1 741,295.1 735,294.1 729,294.1 723,295.2 717,295.8 711,295.5 705,293.5 699,293.5 693,293.5 687,293.5 681,293.5 675,293.5 669,293.5 663,295.3 657,295.3 651,294 645,294 639,294 633,294 627,292.9 621,292.9 615,292.9 609,292.9 603,292.9 597,292.9 591,292.9 585,292.9 579,292.9 573,292.9 567,292.9 561,292.9 555,293.9 549,294.1 543,294.9 537,295 531,294 525,294 519,294 513,294.1 507,294.1 501,294.1 495,294.1 489,294.1 483,294.2 477,294.4 471,294.6 465,294.8 459,295 453,295.2 447,296.1 441,296.3 435,296.4 429,296.6 423,296.7 417,296.9 411,297.3 405,298.2 399,299.1 393,300.6 387,302.3 381,304.1 375,306.2 369,308.5 363,311.2 357,314.4 351,317.7 345,321.3 339,325.2 333,329.4 327,333.8 321,338.3 315,341.4 309,342.4 303,344.9 297,354.1 291,361.8 285,359.6 279,352 273,342.6 267,333 261,326.5 255,322.8 249,320.9 243,319.2 237,317.3 231,315.6 225,314.2 219,314.3 213,314.6 207,314.5 201,314.2 195,313 189,311.7 183,310.3 177,308.8 171,307.5 165,306.2 159,305 153,304.5 153,418.9 157.5,418.6 162,417.9 166.5,417.3 171,418.4 175.5,420.4 180,421 184.5,421.2 189,421.5 193.5,421.1 198,420.1 202.5,419.1 207,418.2 211.5,418.3 216,418.6 220.5,418.9 225,419 229.5,419 234,419.1 238.5,419.7 243,421.2 247.5,421.9 252,422.2 256.5,422.4 261,422.4 265.5,422.6 270,422.8 274.5,423.1 279,422.9 283.5,423 288,422.6 292.5,422.1 297,417.6 301.5,399.4 306,391.2 310.5,389.9 315,392 319.5,395 324,398.1 328.5,401.5 333,404.3 337.5,406.9 342,408.7 346.5,410.8 351,412.6 355.5,414.2 360,415.4 364.5,416.7 369,417.5 373.5,418.1 378,418.8 382.5,419.7 387,420.1 391.5,420.6 396,420.8 400.5,421 405,421.3 409.5,421.3 414,421.5 418.5,421.5 423,421.4 427.5,421.5 430,421.2 432.6,421.2 435.2,421.2 437.8,421.1 440.4,421.4 443,421 445.6,420.2 448.2,420.3 450.8,420.2 453.4,420.1 456,420.2 458.6,420.2 461.2,419.8 463.8,419 466.4,419.1 469,418.6 471.6,418 474.2,418.2 476.8,418.2 479.4,418 482,417.6 484.6,418.1 487.2,418.2 489.8,417.7 492.4,417.7 495,418.4 497.6,419.1 500.2,419.2 502.8,417.5 505.4,416 508,417.9 510.6,416.5 513.2,414.5 515.8,414.3 518.4,415.4 521,414.8 523.6,414.2 526.2,414.2 528.8,414.5 531.4,414.6 534,414.5 536.6,415.1 539.2,415.5 541.8,416.3 544.4,417.4 547,418.5 549.6,419.3 552.2,418.3 554.8,417.7 557.4,417 560,416 562.6,415.2 565.2,415 567.8,414.9 570.4,413.7 573,413.6 575.6,414.4 578.2,415.9 580.8,416.4 583.4,416.7 586,417.1 588.6,416.8 591.2,415.5 593.8,414.5 596.4,415.6 599,415.4 601.6,414.8 604.2,414.3 606.8,414.4 609.4,414.3 612,414.1 614.6,414.8 617.2,414.4 619.8,414.4 622.4,415.2 625,416.9 627.6,418.3 630.2,418.4 632.8,418.3 635.4,418.2 638,417.7 640.6,416.3 643.2,415.9 645.8,415.6 648.4,415.2 651,415.1 653.6,415.3 656.2,415.7 658.8,417.1 661.4,417.5 664,417.3 666.6,417.8 669.2,418.2 671.8,418 674.4,417.9 677,417.4 679.6,416.5 682.2,415.4 684.8,415.2 687.4,414.7 690,414.5 692.6,415.1 695.2,415.4 697.8,415.9 700.4,416.5 702,417 706.5,417.9 711,417.6 715.5,415.5 720,415.2 724.5,415.4 729,415.6 733.5,416.7 738,417.2 742.5,417.7 747,418.1 751.5,418.3 756,418.4 760.5,418.5 765,418.8 769.5,419.1 774,419 778.5,419.3 783,419.6 787.5,420.5 792,419.3 796.5,419.7 801,420.6 805.5,420.5 810,419.9 814.5,419.4 819,420 823.5,420.2 828,419.2 832.5,418.2 837,417.5 841.5,416.7 846,416 850.5,415.4 855,415.9 859.5,417.3 864,417.5 868.5,418.3 871,418.5"/>
<polygon fill="#fff" stroke="#000" stroke-width="1.1" stroke-linejoin="round" points="153,307 155.5,306.8 173.4,310.6 189,314.5 201.6,317.2 210,317.4 217.2,317.3 222,316.2 226,316.8 231.3,318.1 238,320 243.8,321.9 250,323.6 256.3,325.6 259.5,327.6 262.5,330.2 265.5,333.6 268.6,338 272,343.2 275,348 278.3,356.8 283,366.5 288,376.6 292,386.5 295.3,396.1 297.2,404 298.2,410.7 298,415 296.5,418 294.8,419.6 292.9,420.4 289.9,421 287,421.2 286.2,421.2 282.5,421.6 278.8,421.5 278.3,421.6 275.1,421.7 271.4,421.4 267.7,421.3 264,421 260.3,420.9 260,421 256.6,421 252.9,420.9 249.2,420.6 245.5,420.4 244.7,420.4 241.8,419.4 240,418.6 238.1,418 236,417.5 234.4,417.6 230.7,417.5 227,417.4 223.3,417.5 220,417.4 219.6,417.3 215.9,417.1 213,416.8 212.2,416.8 208.5,416.5 207.9,416.5 204.8,417.1 203,417.5 201.1,418.1 197.4,418.9 196,419.4 193.7,419.8 190,420.2 188.6,420.3 186.3,420 182.6,419.9 178.9,419.7 178,419.6 175.2,419.1 172.8,418.7 171.5,417.4 169,415.2 167.8,415.6 165,415.9 164.1,416 160.4,416.8 160,416.9 156.7,417.3 153,417.5"/>
<polygon fill="#fff" stroke="#000" stroke-width="1.1" stroke-linejoin="round" points="871,305.5 868,304 864,302 858,300.3 850,298.7 844,297.3 818,297.6 813,300.6 805,300.3 799,297.1 792,297.1 789,298.2 781,298.2 779,297.3 762,297.3 760,296.3 753.5,296.3 749,298.2 738,298.2 736,297.1 726,297.1 721,299.2 710,298.6 707,296.5 666,296.5 664,298.4 654,298.4 652,297 633,297 631,295.8 558,295.8 555,296.9 546,297.2 544,298 533,298 531,297 486,297 466,297.6 450,298.1 448,299 420,299.3 412,299.6 400,301.2 390,303.7 378,307.3 365.8,312.2 356,317.5 346.4,323.2 338,329 329.4,335.3 323,340.5 317.2,345 310,347.5 303.8,349.4 300.5,351.8 298.2,356 297.4,360 297.8,364.5 299.8,370.5 302.6,376.6 308,382.8 314.8,388.8 315.8,389.8 319.5,392.8 322,394.9 323.2,395.8 326.9,398.7 329.4,400.8 330.6,401.6 334.3,403.5 338,405.7 338,405.7 341.7,407.1 345.4,408.7 346.4,409.3 349.1,410.5 352.8,411.6 356,412.9 356.5,413.1 360.2,414 363.9,415.1 365.8,415.7 367.6,416 371.3,416.3 375,417.1 378,417.6 378.7,417.6 382.4,418.5 386.1,418.8 389.8,419.4 390,419.4 393.5,419.6 397.2,419.7 400.9,419.9 404.6,420.2 405,420.2 408.3,420.1 412,420.3 415.7,420.5 419.4,420.4 420,420.4 423.1,420.3 426.8,420.5 430.5,420 432,420.1 434.2,420.1 437.9,420 441.6,420.4 445,419.1 445.3,418.9 449,419.2 452.7,418.8 455,419.1 456.4,419.1 460.1,419 463,418.1 463.8,417.8 467.5,417.9 471,416.7 471.2,416.7 474.9,417 478,416.9 478.6,416.8 482.3,416.3 485,417 486,417.2 489.7,416.5 491,416.2 493.4,416.5 496,417.5 497.1,417.8 500,418.1 500.8,417.6 504,415.3 504.5,414.8 507,414 508.2,417.1 509,418.9 511,414.1 511.9,413.7 513,412.9 515.6,412.7 517,412.4 519,414.4 519.3,414.1 521,413.1 523,412.8 524,412.4 526.7,412.5 530,412.9 530.4,412.9 534.1,412.8 536,413.2 537.8,413.8 540,413.9 541.5,414.5 545,416 545.2,416.1 548.9,417.9 550.5,417.9 552.6,416.6 556,415.9 556.3,415.8 560,414.2 562,413.5 563.7,413.1 567,413.3 567.4,413.3 571.1,411.4 571.6,411.3 574.8,412.2 576,412.7 578.5,414.3 580,414.6 582.2,414.6 585.6,415.5 585.9,415.4 589,415 589.6,414.9 592.6,412.6 593.3,412.4 597,414.1 600,413.3 600.7,413.1 604.4,412.4 608.1,412.6 610,412.4 611.8,412.1 615.5,413.3 617,412.6 619.2,412.4 622,413.2 622.9,413.7 626.6,416.6 627,416.7 630.3,416.9 631,417.1 634,416.7 636,416.7 637.7,416.4 640,414.9 641.4,414.4 645,414.1 645.1,414.1 648.8,413.5 652,413.4 652.5,413.4 656.2,414.1 659.9,416.2 660,416.2 663.6,415.8 666,416.3 667.3,416.4 670,416.8 671,416.6 674.7,416.4 676,416.1 678.4,415.5 682,413.8 682.1,413.8 685.8,413.4 689,412.6 689.5,412.7 693.2,413.6 696,413.8 696.9,414 700.6,414.9 703,415.9 704.3,416 708,416.7 710,416.8 711.7,415.6 712,415.4 715.4,413.8 715.5,413.8 719.1,413.4 722,413.4 722.8,413.5 726.5,413.7 727.8,413.7 730.2,414.1 733.9,415.2 734,415.2 737.6,415.6 740,415.9 741.3,416 745,416.3 748.7,416.6 752,416.8 752.4,416.8 756.1,416.9 759.8,416.8 763,417.2 763.5,417.2 767.2,417.4 770.9,417.6 774.6,417.5 775,417.5 778.3,417.7 782,418 783,418.1 785.7,419.7 785.7,419.7 789,418.4 789.4,418.3 792.7,417.6 793.1,417.8 796.8,418.2 798,418.5 800.5,419.1 803,419.4 804.2,419.2 807.9,418.7 810,418.4 811.6,418.2 815.3,417.7 817,417.5 819,418.5 820.8,419.5 822.7,419 824,418.5 826.4,418 830,417.2 830.1,417.2 833.8,416.3 837.5,415.7 838,415.6 841.2,415 844.9,414.4 845,414.4 848.6,414 850.6,413.7 852.3,413.7 856,414.4 856,414.4 859.7,415.8 860,415.9 863,415.6 863.4,415.7 866,416.5 867.1,416.6 870.8,416.9 871,416.8"/>
<path d="M506,418 q1,-6 3,-5 q1,3 -1,6 M513,414 q2,-5 4,-3 q0,3 -2,5" fill="none" stroke="#000" stroke-width="1"/>
<polyline fill="none" stroke="#000" stroke-width="2.1" stroke-linejoin="round" points="153,205 180,206 207,207.3 251,206.8 290,204.8 300,203.8 314,203.9 318,205 324,205 330,204.3 350,203 377,201.3 379,201.3"/>
<polyline fill="none" stroke="#000" stroke-width="2.1" stroke-linejoin="round" points="445,201.3 460,200.4 480,198.9 500,197.6 520,196 548,194 574,192.8 600,192.3 648,192.3 685,193.8 722,196.2 740,197.5 760,198.5 797,200.4 835,202.7 871,204.8"/>
<polyline fill="none" stroke="#000" stroke-width="2.1" stroke-linejoin="round" points="153,461.2 158.5,461.1 160,461 164,461.3 167.5,461.8 169.5,462.1 175,462.4 180.5,463 181.6,463.2 183.5,461 185,458.9 186,458.9 188,458.8 191.5,459.3 192,459.3 197,460.3 198,460.6 202.5,461.8 204,462.3 208,463.2 209.6,463.5 213.5,463.7 214,463.7 218.4,463.7 219,463.1 220.5,461.6 223.7,458.9 224.5,458.9 228,459.3 230,459.8 234.2,460.5 235.5,460.7 241,461.6 246.5,462.4 248.2,462.6 252,462.2 253,462.2 257.5,462.2 258.8,462.3 263,463.5 264,463.8 268.5,465.2 269.3,465.4 274,465.2 276,465.3 279.5,465.5 283.3,465.4 285,465.2 290,464.5 290.5,464.4 295,463.5 296,463.4 301,462.4 301.5,462.3 307,462.2 310,462.2 312.5,462.1 318,461.7 320,461.6 323.5,461.5 329,461.5 332.6,461.4 334.5,461.1 340,460.4 341,460.3 345.5,459.6 350,458.8 351,457.8 352.5,456.1 355.4,452.6 356.5,451.9 358,451 360.7,450.5 362,450.7 363.5,451 366,452.7 367,453.7"/>
<polyline fill="none" stroke="#000" stroke-width="2.1" stroke-linejoin="round" points="429.5,464.1 430.2,464.1 433.5,464.2 434.5,464.2 437,462 439,460.5 441,459.3 444.5,457.7 445,457.4 450,457.7 455.5,458.4 456,458.5 461,459.4 462.6,459.8 466,459.5 466.5,459.3 469.6,457 472,456.4 475,456.7 477.5,456.8 480,457.2 483,457.5 486,456.5 488.5,455.5 492,455.3 494,455.3 497.7,455.3 499.5,455.6 503,456.4 505,457 508,457.7 510.5,458.1 516,457.5 521.5,459.5 524,459.3 527,457.9 528,457.5 532,455.6 532.5,455.5 536.3,455 538,455.2 540,455.6 543.5,457.3 545,458.1 549,460 550,460 554.5,459.2 555,459.3 560,459.8 561,460.1 565.5,460.6 567,460.5 571,459.7 573,458.8 576.5,457.4 579,456.8 582,456.4 585.6,456.9 587.5,457.5 592,458 593,458.1 598.5,457.1 600,457.5 604,458.5 609.5,458 610,458.1 615,458.9 620,457.8 620.5,457.7 626,457.6 631.5,458.4 632,458.5 637,459.2 642.5,457.2 645,457.2 648,457.5 653.5,458.1 655,458.5 659,460 663,459.6 664.5,459.4 670,460 672,463 673.5,466 675,466.7 675.5,459.8 676.5,466 678,462 680,460.2 681,460.4 686.5,459.3 688,459.4 692,459.9 697.5,460.1 698,460.2 703,460.9 705,461.2 708.5,460.8 710,460.6 714,460.3 715.5,460.1 719.5,460.6 721,460.9 725,461.8 727.8,462.2 730.5,461.9 735,461.9 736,461.9 741.5,461.2 745,461.2 747,461.2 752.5,460.7 754,460.5 758,461.1 760,461.6 763.5,462.5 766.4,462.9 769,462.1 771,461.8 774.5,461.2 775,461.1 780,461.6 783,461.7 785.5,461.8 791,462.5 792.7,462.7 796.5,462.4 801,462 802,461.9 807.5,461.5 810,461.3 813,461.5 818.5,462.1 819,462.2 824,462.8 827.8,462.9 829.5,462.6 835,462.1 838,461.8 840.5,461.6 846,461.1 849,460.8 851.5,461 857,461.8 859,461.9 862.5,462.1 868,462 871,462.3"/>
<polyline fill="none" stroke="#000" stroke-width="1.1" stroke-linejoin="round" points="153,486.5 157.3,486.3 161.6,486.6 165,486.8 165.9,486.8 170.2,486.4 174.5,486.3 175,486.2 178.8,485.9 183.1,486.3 185,486.5 187.4,487.1 191.7,487.9 192,487.9 196,488.7 199,488.9 200.3,488.7 204.6,489.1 206,488.9 208.9,488.6 213.2,487.4 215,487.4 217.5,487.4 221.8,486.5 223.7,486.4 226.1,486.7 229,487.2 230.4,487.4 234,487.7 234.7,487.6 239,487.7 243.3,487.4 244,487.2 247.6,486.5 251.9,486.1 255,485.7 256.2,485.5 260,485 260.5,485 264.8,485.3 265.8,485.2 269.1,486.5 270,486.8 273.4,487.9 276.3,489.4 277.7,489.6 282,490 283,490.2 286.3,490.1 290,489.6 290.6,489.3 293,488.1 294.9,487.1 296,486.5 298,484.3 299.2,484.4 301,484.8 303,486.7 303.5,486.5 306,485.2 307.8,486.3 309,486.9 312.1,485.9 315,485.4 316.4,485.3 320.7,485.5 322,485.3 325,484.6 328,484.6 329.3,483.9 331,482.8 332.6,481.2 333.6,483 334,483.8 336.5,481.6 337.9,483 339,484 341.5,481.4 342.2,482.1 344,483.9 346.5,481.6 346.5,481.6 349,484.3 350.8,482.8 351.5,482.2 354,484.9 355.1,484.8 357,484.5 359.4,484.8 362,484.9 363.7,485.1 368,485.7 370,485.8 372.3,486 376.6,486.3 378,486.6 380.9,486.2 384,485.7 385.2,485.4 389,483.5 389.5,483.3 393.8,482.4 394,482.4 398.1,484 399,484.2 402.4,484.9 406,486.4 406.7,486.5 411,486.7 413,486.9 415.3,487.3 419.6,487.3 420,487.3 423.9,487.7 428.2,488.8 430,489.1 432.5,489.3 436.8,489.6 440,490.3 441.1,490.2 445.4,488.9 447,488.9 449.7,488.9 454,485.4 454,485.4 458.3,485.3 459,485.2 462.6,484.3 463,483.9 466.9,481.2 468,481.3 471.2,483.6 472,483.8 475.5,484.7 476,485 479.8,485.8 480,485.8 484,483.5 484.1,483.4 488.4,481.8 489,481.9 492.7,482.1 493,481.9 497,479.1 497.7,478.9 499.5,482.2 501,485.4 501.3,485.5 505.6,487.1 507,487.1 509.9,486.7 514.2,487.1 515,487.1 518.5,486.2 522.8,488.2 524,488.1 527.1,487.9 531.4,487 533,487 535.7,486.9 540,485.3 541,485.2 544.3,485 548.6,482.9 550,483.5 552.9,485.3 556,484.5 557.2,484.2 561,484.7 561.5,484.5 564,482.9 565.8,482 568,481.6 570.1,481.4 571.6,481.1 574.4,482.3 575,482.5 578.7,483.8 580,484 583,483.9 585.6,484.1 587.3,483.6 590,484.4 591.6,484.8 594,483.2 595.9,482.1 598,482 600.2,483 604,483.1 604.5,483.1 608.8,485 610,485.1 613.1,484.4 617.4,485.1 619,485.5 621.7,486.2 626,486.8 627.7,486.2 630.3,485.4 634,484.1 634.6,483.9 638.9,484.7 640,484.5 643.2,483.8 645,483.8 647.5,483.8 648.8,483.4 651.8,483.4 653,484.1 656.1,485.7 658,485.3 660.4,484.5 662.8,484.4 664.7,483.4 666,483.1 668,481.9 669,481.9 670,482 671,484.7 672,490.1 673,493.4 673.3,493.1 674.5,491.3 676,488.5 677.6,488 680,487.1 681.9,486.7 686.2,486.5 689,486.7 690.5,486.9 694.8,486 698,486.1 699.1,486.2 703.4,487.3 704,487.3 707.7,487.7 710,488 712,486.9 713,486.2 716.3,484.8 717,484.7 720.6,486.5 721,486.6 724,489.1 724.9,489.6 727.8,491.8 729.2,491.6 732,490.6 733.5,489.8 736,489 737.8,488.6 742,486.6 742.1,486.6 746.4,486.9 750,487.5 750.7,487.7 755,487.6 757.6,488 759.3,487.4 761,486.6 763.6,485.2 764.6,484.7 767.9,484.6 770,485 772.2,485.3 776.5,485.4 780,485.6 780.8,485.6 785.1,485.6 789.4,485.8 792.7,486.5 793.7,486.8 798,487.3 802.3,487.7 803,487.7 806.6,487.7 810.9,487.9 813.8,488.5 815.2,488.4 819.5,487.7 820,487.6 823.8,486.9 827.8,485.6 828.1,485.6 832.4,485.9 836.7,486.4 840,486 841,485.9 845.3,486.8 849.6,487.1 853.9,486.6 854,486.6 858.2,487 862,488.3 862.5,488.5 866.8,489.1 871,489.6"/>
<path fill="#000" stroke="#000" stroke-width="1.1" stroke-linejoin="round" d="M468.5,456 l2,-4.5 l2.5,4.5 l-2,3.5z M493,453 l3,-4 l3.5,4.5 l-3,1z M484,451.5 h3.5 v1 h-3.5z M478,466.5 l2,-2.5 l2.5,2.8z M489.5,470.5 l1.5,-1.8 l1.5,1.8 l-1.5,1.5z M494.5,473 l2,-1 l1.5,3 l-1,3.5 l-2,-2z M474,476.5 h3 v0.8 h-3z M441,491.8 l1.5,-2 l1.8,2z M504,452 l1.5,1.5 l-1.5,1.5 l-1.5,-1.5z M659.5,461.5 l2.5,-1.5 l0.5,3 l-2.5,1z M665.5,466 l2,-1 l0.5,2 l-2,0.6z M651,472 l5,-0.8 l0.8,1.6 l-5,1.2z M653.5,476.5 l2,0 l-1,2.2z M608.5,487.8 l1.3,-1.8 l1.5,2z M627,489 l1.5,1.5 l-1.5,1.5 l-1.5,-1.5z M632,491 l1.3,1.3 l-1.3,1.3 l-1.3,-1.3z"/>
<path fill="none" stroke="#000" stroke-width="0.9" d="M487,461 q3,-2.5 6,-0.5 q-1,3 -6,0.5z M499,456.5 q2.5,-2.5 4.5,0 q-2,2.5 -4.5,0z M507,456.8 q2,-2 3.5,0 q-1.5,2 -3.5,0z M481,480.5 q0,-3 4,-2.2 q5,-0.5 7.5,-2.5 q1,3 -2.5,5.5 q-4,2.5 -9,-0.8z M512,488.5 q2.5,-4 5,-1.5 q-1,4 -5,1.5z M523.5,486 l2,-4 l2.5,4.5 l-2,1.5z M529,486.5 l2,-3.5 l1.5,4z M642,491.5 q3,-6 7,-8 q4,-1.5 8,1.5 q-5,0 -8,2.5 q-3,3.5 -7,4z M667.5,484 l2.5,-3.5 l0.5,8.5z M658,485 l2.5,-2.5 l2.5,2.5 l-2.5,1.5z M706,487.5 q-2.5,2 -0.5,5 M596.5,488 l2,2 l-2,2 l-2,-2z M620.5,490 q2,-1.5 3.5,0 q-1.5,2 -3.5,0z"/>
<path fill="none" stroke="#000" stroke-width="0.7" d="M329.0,488.6 l1.6,-1.6 l1.6,1.6 l-1.6,1.6z M333.5,488.6 l1.6,-1.6 l1.6,1.6 l-1.6,1.6z M338.0,488.6 l1.6,-1.6 l1.6,1.6 l-1.6,1.6z M342.5,488.6 l1.6,-1.6 l1.6,1.6 l-1.6,1.6z M347.0,488.6 l1.6,-1.6 l1.6,1.6 l-1.6,1.6z M351.5,488.6 l1.6,-1.6 l1.6,1.6 l-1.6,1.6z"/>
</g>
<text x="412.3" y="208.2" font-size="19.5" text-anchor="middle" textLength="54" lengthAdjust="spacingAndGlyphs" stroke="#000" stroke-width="0.4">2e−4</text>
<text transform="translate(398,464) rotate(8.5)" font-size="20.5" text-anchor="middle" textLength="52.5" lengthAdjust="spacingAndGlyphs" stroke="#000" stroke-width="0.4">2e−4</text>
<rect x="154" y="165" width="716" height="359" fill="none" stroke="#000" stroke-width="2"/>
<path d="M181.4,165 v5.8 M181.4,524 v-5.8" stroke="#000" stroke-width="1.3" fill="none"/>
<path d="M209.5,165 v11.0 M209.5,524 v-11.0" stroke="#000" stroke-width="2" fill="none"/>
<path d="M239.0,165 v5.8 M239.0,524 v-5.8" stroke="#000" stroke-width="1.3" fill="none"/>
<path d="M267.1,165 v11.0 M267.1,524 v-11.0" stroke="#000" stroke-width="2" fill="none"/>
<path d="M296.5,165 v5.8 M296.5,524 v-5.8" stroke="#000" stroke-width="1.3" fill="none"/>
<path d="M324.6,165 v11.0 M324.6,524 v-11.0" stroke="#000" stroke-width="2" fill="none"/>
<path d="M354.1,165 v5.8 M354.1,524 v-5.8" stroke="#000" stroke-width="1.3" fill="none"/>
<path d="M382.2,165 v11.0 M382.2,524 v-11.0" stroke="#000" stroke-width="2" fill="none"/>
<path d="M411.7,165 v5.8 M411.7,524 v-5.8" stroke="#000" stroke-width="1.3" fill="none"/>
<path d="M439.7,165 v11.0 M439.7,524 v-11.0" stroke="#000" stroke-width="2" fill="none"/>
<path d="M469.2,165 v5.8 M469.2,524 v-5.8" stroke="#000" stroke-width="1.3" fill="none"/>
<path d="M497.3,165 v11.0 M497.3,524 v-11.0" stroke="#000" stroke-width="2" fill="none"/>
<path d="M526.8,165 v5.8 M526.8,524 v-5.8" stroke="#000" stroke-width="1.3" fill="none"/>
<path d="M554.9,165 v11.0 M554.9,524 v-11.0" stroke="#000" stroke-width="2" fill="none"/>
<path d="M584.3,165 v5.8 M584.3,524 v-5.8" stroke="#000" stroke-width="1.3" fill="none"/>
<path d="M612.4,165 v11.0 M612.4,524 v-11.0" stroke="#000" stroke-width="2" fill="none"/>
<path d="M641.9,165 v5.8 M641.9,524 v-5.8" stroke="#000" stroke-width="1.3" fill="none"/>
<path d="M670.0,165 v11.0 M670.0,524 v-11.0" stroke="#000" stroke-width="2" fill="none"/>
<path d="M699.5,165 v5.8 M699.5,524 v-5.8" stroke="#000" stroke-width="1.3" fill="none"/>
<path d="M727.5,165 v11.0 M727.5,524 v-11.0" stroke="#000" stroke-width="2" fill="none"/>
<path d="M757.0,165 v5.8 M757.0,524 v-5.8" stroke="#000" stroke-width="1.3" fill="none"/>
<path d="M785.1,165 v11.0 M785.1,524 v-11.0" stroke="#000" stroke-width="2" fill="none"/>
<path d="M814.6,165 v5.8 M814.6,524 v-5.8" stroke="#000" stroke-width="1.3" fill="none"/>
<path d="M842.7,165 v11.0 M842.7,524 v-11.0" stroke="#000" stroke-width="2" fill="none"/>
<path d="M154,507.1 h5.5 M870,507.1 h-5.5" stroke="#000" stroke-width="1.3" fill="none"/>
<path d="M154,489.1 h5.5 M870,489.1 h-5.5" stroke="#000" stroke-width="1.3" fill="none"/>
<path d="M154,471.0 h5.5 M870,471.0 h-5.5" stroke="#000" stroke-width="1.3" fill="none"/>
<path d="M154,453.0 h5.5 M870,453.0 h-5.5" stroke="#000" stroke-width="1.3" fill="none"/>
<path d="M154,435.0 h10.5 M870,435.0 h-10.5" stroke="#000" stroke-width="2" fill="none"/>
<path d="M154,417.0 h5.5 M870,417.0 h-5.5" stroke="#000" stroke-width="1.3" fill="none"/>
<path d="M154,399.0 h5.5 M870,399.0 h-5.5" stroke="#000" stroke-width="1.3" fill="none"/>
<path d="M154,380.9 h5.5 M870,380.9 h-5.5" stroke="#000" stroke-width="1.3" fill="none"/>
<path d="M154,362.9 h5.5 M870,362.9 h-5.5" stroke="#000" stroke-width="1.3" fill="none"/>
<path d="M154,344.9 h10.5 M870,344.9 h-10.5" stroke="#000" stroke-width="2" fill="none"/>
<path d="M154,326.9 h5.5 M870,326.9 h-5.5" stroke="#000" stroke-width="1.3" fill="none"/>
<path d="M154,308.9 h5.5 M870,308.9 h-5.5" stroke="#000" stroke-width="1.3" fill="none"/>
<path d="M154,290.8 h5.5 M870,290.8 h-5.5" stroke="#000" stroke-width="1.3" fill="none"/>
<path d="M154,272.8 h5.5 M870,272.8 h-5.5" stroke="#000" stroke-width="1.3" fill="none"/>
<path d="M154,254.8 h10.5 M870,254.8 h-10.5" stroke="#000" stroke-width="2" fill="none"/>
<path d="M154,236.8 h5.5 M870,236.8 h-5.5" stroke="#000" stroke-width="1.3" fill="none"/>
<path d="M154,218.8 h5.5 M870,218.8 h-5.5" stroke="#000" stroke-width="1.3" fill="none"/>
<path d="M154,200.7 h5.5 M870,200.7 h-5.5" stroke="#000" stroke-width="1.3" fill="none"/>
<path d="M154,182.7 h5.5 M870,182.7 h-5.5" stroke="#000" stroke-width="1.3" fill="none"/>
<text x="209.8" y="549.6" font-size="21" text-anchor="middle" stroke="#000" stroke-width="0.3">4</text>
<text x="267.4" y="549.6" font-size="21" text-anchor="middle" stroke="#000" stroke-width="0.3">8</text>
<text x="324.9" y="549.6" font-size="21" text-anchor="middle" stroke="#000" stroke-width="0.3">12</text>
<text x="382.5" y="549.6" font-size="21" text-anchor="middle" stroke="#000" stroke-width="0.3">16</text>
<text x="440.0" y="549.6" font-size="21" text-anchor="middle" stroke="#000" stroke-width="0.3">20</text>
<text x="497.6" y="549.6" font-size="21" text-anchor="middle" stroke="#000" stroke-width="0.3">24</text>
<text x="555.2" y="549.6" font-size="21" text-anchor="middle" stroke="#000" stroke-width="0.3">28</text>
<text x="612.7" y="549.6" font-size="21" text-anchor="middle" stroke="#000" stroke-width="0.3">32</text>
<text x="670.3" y="549.6" font-size="21" text-anchor="middle" stroke="#000" stroke-width="0.3">36</text>
<text x="727.8" y="549.6" font-size="21" text-anchor="middle" stroke="#000" stroke-width="0.3">40</text>
<text x="785.4" y="549.6" font-size="21" text-anchor="middle" stroke="#000" stroke-width="0.3">44</text>
<text x="843.0" y="549.6" font-size="21" text-anchor="middle" stroke="#000" stroke-width="0.3">48</text>
<text x="140" y="442.6" font-size="21" text-anchor="end" stroke="#000" stroke-width="0.3">5</text>
<text x="140" y="352.5" font-size="21" text-anchor="end" stroke="#000" stroke-width="0.3">10</text>
<text x="140" y="262.4" font-size="21" text-anchor="end" stroke="#000" stroke-width="0.3">15</text>
<text x="53" y="560.5" font-size="19" textLength="109" lengthAdjust="spacing" stroke="#000" stroke-width="0.3">(×1000 m)</text>
<text x="775.5" y="573.3" font-size="19" textLength="111" lengthAdjust="spacing" stroke="#000" stroke-width="0.3">(×1000 m)</text>
<text x="379" y="115.3" font-size="32.5" textLength="266" lengthAdjust="spacing" stroke="#fff" stroke-width="0.7">density of cloud</text>
<text x="425.5" y="609.2" font-size="29" textLength="173" lengthAdjust="spacing" stroke="#fff" stroke-width="0.5">X−coordinate</text>
<text transform="translate(105.6,432.8) rotate(-90)" font-size="29" textLength="175.5" lengthAdjust="spacing" stroke="#fff" stroke-width="0.5">Z−coordinate</text>
<text y="660.3" font-size="22" stroke="#000" stroke-width="0.25"><tspan x="345.5" textLength="89.5" lengthAdjust="spacingAndGlyphs">CONTOUR</tspan> <tspan x="446.8" textLength="82" lengthAdjust="spacingAndGlyphs">INTERVAL</tspan> <tspan x="544" textLength="14.5" lengthAdjust="spacingAndGlyphs">=</tspan> <tspan x="571.5" textLength="106.5" lengthAdjust="spacingAndGlyphs">1.000E−04</tspan></text>
<text y="690" font-size="20" fill="#222" stroke="#fff" stroke-width="0.7"><tspan x="718.5" textLength="90" lengthAdjust="spacing">t=459000</tspan> <tspan x="819.5">s</tspan></text>
<text x="27.5" y="738.6" font-size="10.2" textLength="173" lengthAdjust="spacing" xml:space="preserve">/usr/bin/gpview   2008−12−21</text>
<text x="586.5" y="738.6" font-size="10.2" textLength="376" lengthAdjust="spacing">MarsCond_DensCloud.nc@DensCloud,x=0:50000,z=0:20000,t=459000</text>
<rect x="357" y="678" width="311" height="22" fill="#000"/>
<rect x="358.4" y="680" width="1.4" height="18.5" fill="#730a94"/>
<rect x="362.6" y="680" width="1.4" height="18.5" fill="#640a88"/>
<rect x="365.9" y="680" width="1.4" height="18.5" fill="#580a7f"/>
<rect x="370.9" y="680" width="1.4" height="18.5" fill="#360f6d"/>
<rect x="374.2" y="680" width="1.4" height="18.5" fill="#291078"/>
<rect x="380.0" y="680" width="1.4" height="18.5" fill="#181099"/>
<rect x="383.4" y="680" width="1.4" height="18.5" fill="#1111aa"/>
<rect x="386.7" y="680" width="1.4" height="18.5" fill="#1313b4"/>
<rect x="392.5" y="680" width="1.4" height="18.5" fill="#1717c5"/>
<rect x="395.8" y="680" width="1.4" height="18.5" fill="#1a1dcb"/>
<rect x="401.6" y="680" width="1.4" height="18.5" fill="#1e2ad4"/>
<rect x="404.9" y="680" width="1.4" height="18.5" fill="#2132d8"/>
<rect x="408.3" y="680" width="1.4" height="18.5" fill="#2641db"/>
<rect x="414.1" y="680" width="1.4" height="18.5" fill="#2e5bdf"/>
<rect x="417.4" y="680" width="1.4" height="18.5" fill="#3266e0"/>
<rect x="423.2" y="680" width="1.4" height="18.5" fill="#3775e0"/>
<rect x="426.5" y="680" width="1.4" height="18.5" fill="#397ddf"/>
<rect x="432.4" y="680" width="1.4" height="18.5" fill="#3e8cda"/>
<rect x="435.7" y="680" width="1.4" height="18.5" fill="#4095d8"/>
<rect x="439.0" y="680" width="1.4" height="18.5" fill="#409bd5"/>
<rect x="444.8" y="680" width="1.4" height="18.5" fill="#40a5d1"/>
<rect x="448.1" y="680" width="1.4" height="18.5" fill="#40aecf"/>
<rect x="454.0" y="680" width="1.4" height="18.5" fill="#40bfca"/>
<rect x="457.3" y="680" width="1.4" height="18.5" fill="#40c8c7"/>
<rect x="460.6" y="680" width="1.4" height="18.5" fill="#40cdc0"/>
<rect x="466.4" y="680" width="1.4" height="18.5" fill="#40d6b3"/>
<rect x="469.7" y="680" width="1.4" height="18.5" fill="#40d8a9"/>
<rect x="475.5" y="680" width="1.4" height="18.5" fill="#40d894"/>
<rect x="478.9" y="680" width="1.4" height="18.5" fill="#40d887"/>
<rect x="482.2" y="680" width="1.4" height="18.5" fill="#40d579"/>
<rect x="488.0" y="680" width="1.4" height="18.5" fill="#40d15f"/>
<rect x="491.3" y="680" width="1.4" height="18.5" fill="#40cf54"/>
<rect x="497.1" y="680" width="1.4" height="18.5" fill="#40ca47"/>
<rect x="500.5" y="680" width="1.4" height="18.5" fill="#40c840"/>
<rect x="503.8" y="680" width="1.4" height="18.5" fill="#45c83b"/>
<rect x="509.6" y="680" width="1.4" height="18.5" fill="#4dc833"/>
<rect x="512.9" y="680" width="1.4" height="18.5" fill="#52c830"/>
<rect x="518.4" y="680" width="1.4" height="18.5" fill="#5ac830"/>
<rect x="521.8" y="680" width="1.4" height="18.5" fill="#5fc830"/>
<rect x="525.9" y="680" width="1.4" height="18.5" fill="#66c830"/>
<rect x="530.9" y="680" width="1.4" height="18.5" fill="#6dc830"/>
<rect x="534.2" y="680" width="1.4" height="18.5" fill="#75c930"/>
<rect x="540.0" y="680" width="1.4" height="18.5" fill="#8ece30"/>
<rect x="543.3" y="680" width="1.4" height="18.5" fill="#9bd130"/>
<rect x="546.7" y="680" width="1.4" height="18.5" fill="#a3d330"/>
<rect x="552.5" y="680" width="1.4" height="18.5" fill="#b2d730"/>
<rect x="555.8" y="680" width="1.4" height="18.5" fill="#bcd832"/>
<rect x="561.6" y="680" width="1.4" height="18.5" fill="#d0d83c"/>
<rect x="564.9" y="680" width="1.4" height="18.5" fill="#d9d740"/>
<rect x="568.3" y="680" width="1.4" height="18.5" fill="#dbd240"/>
<rect x="574.1" y="680" width="1.4" height="18.5" fill="#dfc940"/>
<rect x="577.4" y="680" width="1.4" height="18.5" fill="#e0c140"/>
<rect x="583.2" y="680" width="1.4" height="18.5" fill="#e0b240"/>
<rect x="586.5" y="680" width="1.4" height="18.5" fill="#e0aa40"/>
<rect x="589.9" y="680" width="1.4" height="18.5" fill="#e2a240"/>
<rect x="595.7" y="680" width="1.4" height="18.5" fill="#e69540"/>
<rect x="599.0" y="680" width="1.4" height="18.5" fill="#e88d3e"/>
<rect x="604.8" y="680" width="1.4" height="18.5" fill="#e87934"/>
<rect x="608.1" y="680" width="1.4" height="18.5" fill="#e66b2f"/>
<rect x="614.0" y="680" width="1.4" height="18.5" fill="#d74325"/>
<rect x="617.3" y="680" width="1.4" height="18.5" fill="#d02f20"/>
<rect x="620.6" y="680" width="1.4" height="18.5" fill="#cd2a20"/>
<rect x="626.4" y="680" width="1.4" height="18.5" fill="#c92220"/>
<rect x="629.7" y="680" width="1.4" height="18.5" fill="#c52323"/>
<rect x="635.5" y="680" width="1.4" height="18.5" fill="#bc2c2c"/>
<rect x="638.9" y="680" width="1.4" height="18.5" fill="#b93232"/>
<rect x="642.2" y="680" width="1.4" height="18.5" fill="#c34141"/>
<rect x="648.0" y="680" width="1.4" height="18.5" fill="#d45a5a"/>
<rect x="651.3" y="680" width="1.4" height="18.5" fill="#db6b6b"/>
<rect x="657.1" y="680" width="1.4" height="18.5" fill="#e48989"/>
<rect x="660.5" y="680" width="1.4" height="18.5" fill="#e89999"/>
<rect x="663.8" y="680" width="1.4" height="18.5" fill="#e89d9d"/>
<text x="357.0" y="723" font-size="22.5" text-anchor="middle" textLength="107" lengthAdjust="spacing">0.1000e−05</text>
<text x="418.9" y="723" font-size="22.5" text-anchor="middle" textLength="107" lengthAdjust="spacing">0.6080e−04</text>
<text x="480.8" y="723" font-size="22.5" text-anchor="middle" textLength="107" lengthAdjust="spacing">0.1206e−03</text>
<text x="542.7" y="723" font-size="22.5" text-anchor="middle" textLength="107" lengthAdjust="spacing">0.1804e−03</text>
<text x="604.6" y="723" font-size="22.5" text-anchor="middle" textLength="107" lengthAdjust="spacing">0.2402e−03</text>
<text x="666.5" y="723" font-size="22.5" text-anchor="middle" textLength="107" lengthAdjust="spacing">0.3000e−03</text>
</svg></body></html>
